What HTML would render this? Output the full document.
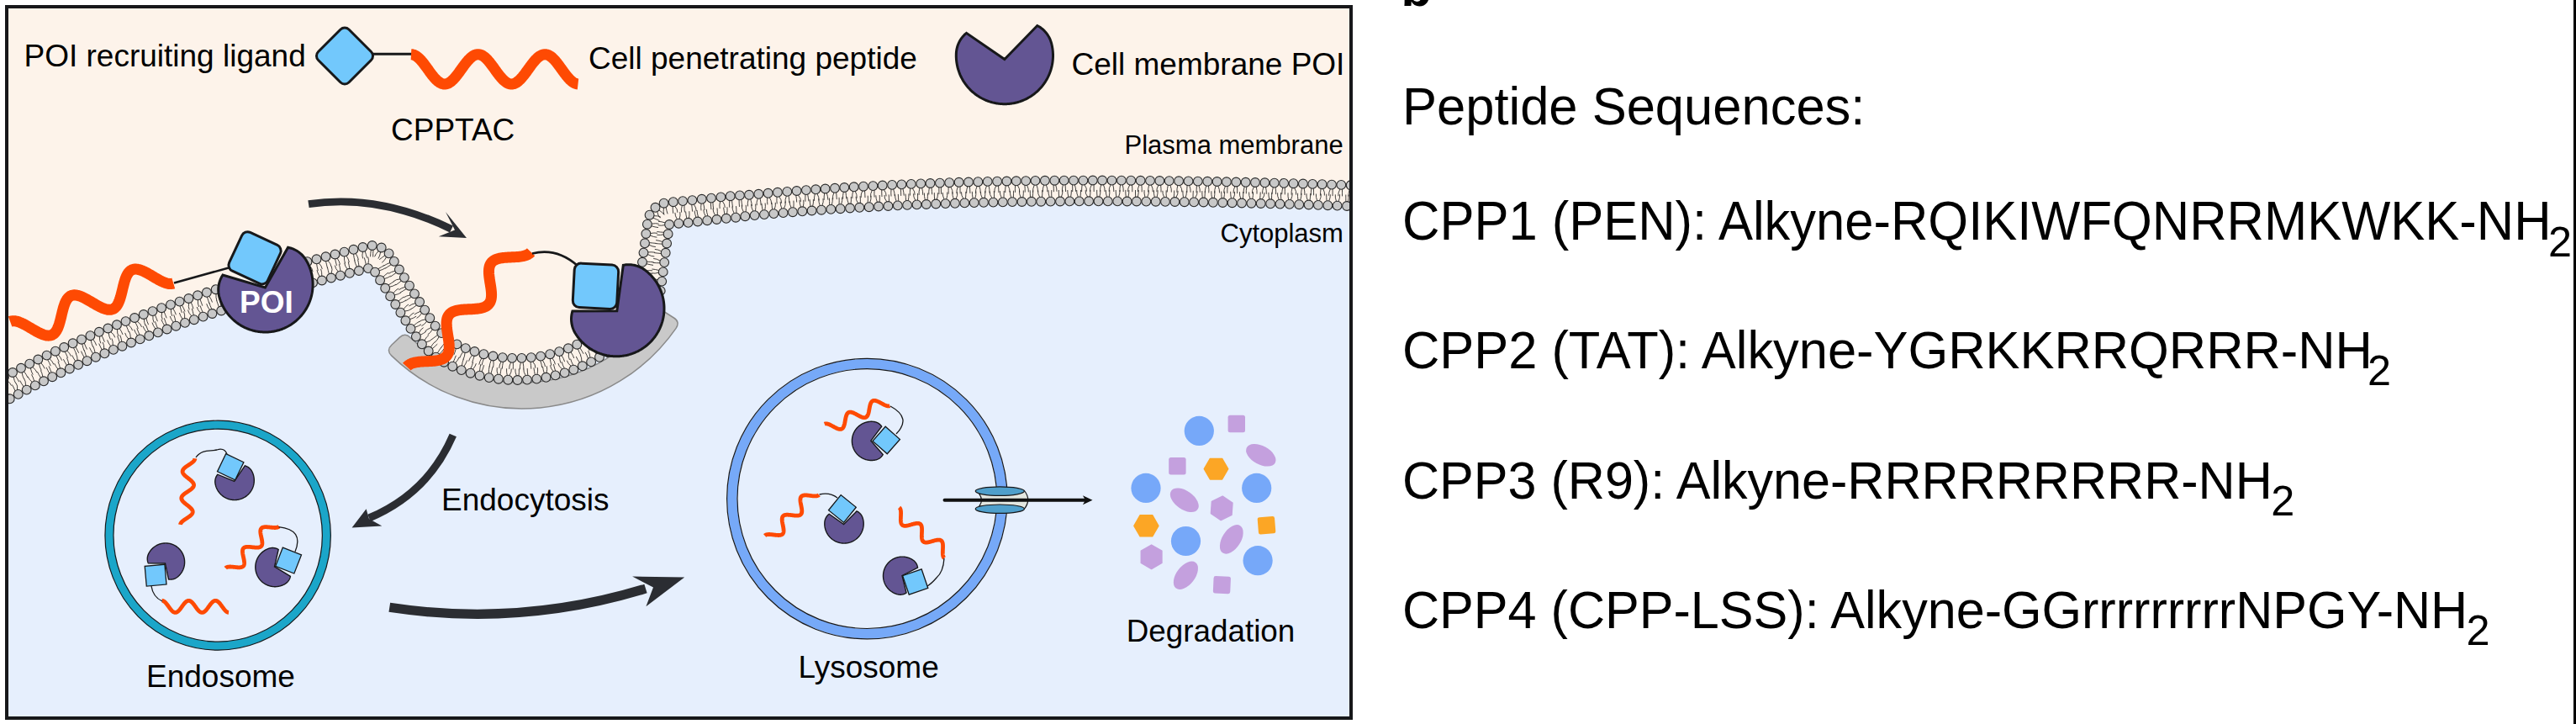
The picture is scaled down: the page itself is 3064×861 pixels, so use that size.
<!DOCTYPE html>
<html><head><meta charset="utf-8"><style>
html,body{margin:0;padding:0;background:#fff;}
body{width:3064px;height:861px;overflow:hidden;position:relative;}
svg{position:absolute;left:0;top:0;}
text{font-family:"Liberation Sans",sans-serif;}
</style></head><body>
<svg width="3064" height="861" viewBox="0 0 3064 861">
<defs><clipPath id="fr"><rect x="10" y="10" width="1595" height="842"/></clipPath></defs>
<rect x="10" y="10" width="1595" height="842" fill="#e6effd"/>
<g clip-path="url(#fr)">
<path d="M-13.3,488.6 L-13.1,488.4 L-12.8,488.3 L-12.6,488.2 L-12.4,488.0 L-12.1,487.9 L-11.9,487.8 L-11.7,487.6 L-11.5,487.5 L-11.0,487.2 L-10.5,487.0 L-10.3,486.8 L-10.1,486.7 L-9.9,486.6 L-9.6,486.4 L-9.4,486.3 L-9.2,486.2 L-8.7,485.9 L-8.5,485.8 L-8.3,485.6 L-8.0,485.5 L-7.8,485.4 L-7.6,485.2 L-7.3,485.1 L-7.1,485.0 L-6.9,484.8 L-6.7,484.7 L-6.4,484.6 L-6.2,484.4 L-6.0,484.3 L-5.7,484.2 L-5.5,484.0 L-5.1,483.8 L-4.8,483.6 L-4.6,483.5 L-4.4,483.4 L-4.1,483.2 L-3.9,483.1 L-3.7,483.0 L-3.5,482.9 L-3.2,482.7 L-2.8,482.5 L-2.3,482.2 L-2.1,482.1 L-1.9,481.9 L-1.6,481.8 L-1.4,481.7 L-1.2,481.5 L-0.9,481.4 L-0.7,481.3 L-0.5,481.1 L-0.0,480.9 L0.4,480.6 L0.9,480.4 L1.4,480.1 L1.6,480.0 L1.8,479.8 L2.1,479.7 L2.3,479.6 L2.5,479.5 L2.7,479.3 L3.0,479.2 L3.2,479.1 L3.7,478.8 L3.9,478.7 L4.1,478.5 L4.4,478.4 L4.6,478.3 L5.0,478.0 L5.3,477.9 L5.5,477.8 L5.7,477.6 L6.0,477.5 L6.4,477.3 L6.9,477.0 L7.3,476.7 L7.6,476.6 L7.8,476.5 L8.0,476.4 L8.3,476.2 L8.5,476.1 L8.7,476.0 L9.2,475.7 L9.4,475.6 L9.7,475.5 L9.9,475.3 L10.1,475.2 L10.6,474.9 L10.8,474.8 L11.0,474.7 L11.3,474.6 L11.5,474.4 L11.7,474.3 L12.0,474.2 L12.2,474.1 L12.4,473.9 L12.9,473.7 L13.1,473.5 L13.3,473.4 L13.6,473.3 L13.8,473.2 L14.0,473.0 L14.3,472.9 L14.5,472.8 L14.7,472.7 L15.0,472.5 L15.2,472.4 L15.4,472.3 L15.7,472.2 L15.9,472.0 L16.1,471.9 L16.4,471.8 L16.6,471.6 L16.8,471.5 L17.1,471.4 L17.3,471.3 L17.5,471.1 L17.7,471.0 L18.0,470.9 L18.2,470.8 L18.4,470.6 L18.7,470.5 L18.9,470.4 L19.1,470.3 L19.4,470.1 L19.8,469.9 L20.3,469.6 L20.5,469.5 L20.8,469.4 L21.0,469.3 L21.2,469.1 L21.5,469.0 L21.7,468.9 L22.2,468.6 L22.4,468.5 L22.6,468.4 L22.9,468.3 L23.1,468.1 L23.6,467.9 L23.8,467.8 L24.0,467.6 L24.3,467.5 L24.5,467.4 L24.7,467.3 L24.9,467.1 L25.2,467.0 L25.4,466.9 L25.6,466.8 L25.9,466.7 L26.1,466.5 L26.3,466.4 L26.6,466.3 L26.8,466.2 L27.0,466.0 L27.3,465.9 L27.7,465.7 L28.0,465.5 L28.2,465.4 L28.4,465.3 L28.7,465.2 L28.9,465.1 L29.1,464.9 L29.4,464.8 L29.6,464.7 L29.8,464.6 L30.1,464.4 L30.3,464.3 L30.5,464.2 L31.0,463.9 L31.2,463.8 L31.5,463.7 L31.9,463.5 L32.2,463.3 L32.4,463.2 L32.6,463.1 L32.9,463.0 L33.1,462.9 L33.3,462.7 L33.6,462.6 L33.8,462.5 L34.0,462.4 L34.3,462.2 L34.5,462.1 L34.7,462.0 L35.2,461.8 L35.5,461.6 L35.7,461.5 L35.9,461.4 L36.2,461.3 L36.4,461.2 L36.6,461.0 L36.9,460.9 L37.1,460.8 L37.3,460.7 L37.6,460.5 L37.8,460.4 L38.0,460.3 L38.3,460.2 L38.5,460.1 L38.7,459.9 L39.0,459.8 L39.4,459.6 L39.7,459.5 L39.9,459.3 L40.1,459.2 L40.4,459.1 L40.6,459.0 L40.8,458.9 L41.1,458.7 L41.3,458.6 L41.8,458.4 L42.0,458.3 L42.2,458.1 L42.5,458.0 L42.7,457.9 L43.2,457.7 L43.4,457.5 L43.7,457.4 L44.1,457.2 L44.4,457.1 L44.6,457.0 L44.8,456.8 L45.1,456.7 L45.3,456.6 L45.5,456.5 L45.8,456.4 L46.0,456.2 L46.2,456.1 L46.5,456.0 L46.7,455.9 L46.9,455.8 L47.2,455.6 L47.4,455.5 L47.7,455.4 L47.9,455.3 L48.4,455.1 L48.6,454.9 L48.8,454.8 L49.1,454.7 L49.3,454.6 L49.5,454.5 L49.8,454.4 L50.0,454.2 L50.2,454.1 L50.5,454.0 L50.7,453.9 L51.0,453.8 L51.2,453.6 L51.4,453.5 L51.7,453.4 L51.9,453.3 L52.1,453.2 L52.6,452.9 L52.8,452.8 L53.1,452.7 L53.3,452.6 L53.5,452.5 L53.8,452.4 L54.0,452.2 L54.5,452.0 L54.7,451.9 L55.0,451.8 L55.2,451.7 L55.4,451.5 L55.7,451.4 L55.9,451.3 L56.1,451.2 L56.4,451.1 L56.6,451.0 L56.9,450.8 L57.1,450.7 L57.3,450.6 L57.8,450.4 L58.3,450.2 L58.5,450.0 L58.7,449.9 L59.2,449.7 L59.7,449.5 L59.9,449.3 L60.2,449.2 L60.4,449.1 L60.6,449.0 L61.1,448.8 L61.4,448.7 L61.6,448.5 L61.8,448.4 L62.1,448.3 L62.3,448.2 L62.5,448.1 L62.8,448.0 L63.0,447.9 L63.2,447.7 L63.5,447.6 L63.7,447.5 L64.0,447.4 L64.2,447.3 L64.4,447.2 L64.7,447.1 L64.9,446.9 L65.1,446.8 L65.4,446.7 L65.6,446.6 L65.9,446.5 L66.1,446.4 L66.3,446.3 L66.6,446.1 L66.8,446.0 L67.0,445.9 L67.3,445.8 L67.5,445.7 L67.8,445.6 L68.0,445.5 L68.2,445.3 L68.5,445.2 L68.7,445.1 L68.9,445.0 L69.2,444.9 L69.4,444.8 L69.7,444.7 L69.9,444.6 L70.1,444.4 L70.4,444.3 L70.6,444.2 L70.8,444.1 L71.1,444.0 L71.3,443.9 L71.6,443.8 L71.8,443.6 L72.0,443.5 L72.3,443.4 L72.5,443.3 L73.0,443.1 L73.2,443.0 L73.5,442.9 L73.7,442.8 L73.9,442.6 L74.4,442.4 L74.7,442.3 L74.9,442.2 L75.4,442.0 L75.6,441.9 L75.9,441.7 L76.1,441.6 L76.3,441.5 L76.6,441.4 L76.8,441.3 L77.3,441.1 L77.5,441.0 L77.8,440.9 L78.0,440.7 L78.2,440.6 L78.7,440.4 L79.0,440.3 L79.2,440.2 L79.4,440.1 L79.7,440.0 L79.9,439.9 L80.1,439.7 L80.6,439.5 L81.1,439.3 L81.6,439.1 L81.8,439.0 L82.1,438.9 L82.5,438.6 L82.8,438.5 L83.0,438.4 L83.3,438.3 L83.5,438.2 L84.0,438.0 L84.2,437.9 L84.5,437.8 L84.9,437.5 L85.2,437.4 L85.4,437.3 L85.9,437.1 L86.1,437.0 L86.4,436.9 L86.6,436.8 L86.8,436.7 L87.1,436.6 L87.3,436.4 L87.6,436.3 L87.8,436.2 L88.0,436.1 L88.3,436.0 L88.5,435.9 L88.8,435.8 L89.0,435.7 L89.2,435.6 L89.7,435.4 L90.0,435.2 L90.2,435.1 L90.4,435.0 L90.7,434.9 L90.9,434.8 L91.2,434.7 L91.4,434.6 L91.6,434.5 L92.1,434.3 L92.4,434.2 L92.6,434.1 L92.8,433.9 L93.1,433.8 L93.3,433.7 L93.6,433.6 L93.8,433.5 L94.0,433.4 L94.3,433.3 L94.5,433.2 L94.8,433.1 L95.0,433.0 L95.2,432.9 L95.5,432.8 L95.7,432.7 L96.0,432.5 L96.2,432.4 L96.4,432.3 L96.9,432.1 L97.2,432.0 L97.4,431.9 L97.9,431.7 L98.1,431.6 L98.4,431.5 L98.6,431.4 L98.9,431.3 L99.1,431.2 L99.3,431.1 L99.8,430.8 L100.3,430.6 L100.5,430.5 L100.8,430.4 L101.0,430.3 L101.3,430.2 L101.5,430.1 L101.7,430.0 L102.0,429.9 L102.2,429.8 L102.5,429.7 L102.7,429.6 L103.0,429.5 L103.2,429.4 L103.4,429.2 L103.7,429.1 L103.9,429.0 L104.2,428.9 L104.6,428.7 L105.1,428.5 L105.4,428.4 L105.6,428.3 L105.8,428.2 L106.1,428.1 L106.3,428.0 L106.6,427.9 L106.8,427.8 L107.1,427.7 L107.5,427.5 L107.8,427.3 L108.0,427.2 L108.5,427.0 L109.0,426.8 L109.5,426.6 L109.7,426.5 L110.0,426.4 L110.4,426.2 L110.7,426.1 L110.9,426.0 L111.4,425.8 L111.6,425.7 L111.9,425.6 L112.1,425.5 L112.4,425.4 L112.6,425.3 L112.9,425.2 L113.3,424.9 L113.8,424.7 L114.1,424.6 L114.3,424.5 L114.6,424.4 L114.8,424.3 L115.0,424.2 L115.3,424.1 L115.5,424.0 L115.8,423.9 L116.0,423.8 L116.2,423.7 L116.7,423.5 L117.0,423.4 L117.2,423.3 L117.5,423.2 L117.7,423.1 L117.9,423.0 L118.2,422.9 L118.4,422.8 L118.7,422.7 L118.9,422.6 L119.2,422.5 L119.4,422.4 L119.6,422.3 L119.9,422.2 L120.1,422.1 L120.6,421.9 L121.1,421.6 L121.3,421.5 L121.6,421.4 L121.8,421.3 L122.1,421.2 L122.3,421.1 L122.6,421.0 L122.8,420.9 L123.0,420.8 L123.3,420.7 L123.5,420.6 L123.8,420.5 L124.0,420.4 L124.3,420.3 L124.5,420.2 L124.7,420.1 L125.0,420.0 L125.2,419.9 L125.5,419.8 L125.7,419.7 L126.0,419.6 L126.4,419.4 L126.9,419.2 L127.2,419.1 L127.4,419.0 L127.9,418.8 L128.4,418.6 L128.9,418.4 L129.1,418.3 L129.4,418.2 L129.6,418.1 L129.9,418.0 L130.3,417.8 L130.6,417.7 L130.8,417.6 L131.1,417.5 L131.3,417.4 L131.6,417.3 L131.8,417.2 L132.3,417.0 L132.5,416.9 L132.8,416.8 L133.0,416.7 L133.3,416.6 L133.5,416.5 L133.8,416.4 L134.0,416.3 L134.2,416.2 L134.5,416.1 L134.7,416.0 L135.2,415.8 L135.5,415.7 L135.7,415.6 L136.0,415.5 L136.2,415.4 L136.4,415.3 L136.7,415.2 L136.9,415.1 L137.2,415.0 L137.4,414.9 L137.7,414.8 L137.9,414.7 L138.1,414.6 L138.6,414.4 L139.1,414.2 L139.4,414.1 L139.6,414.0 L139.9,413.9 L140.1,413.8 L140.3,413.7 L140.6,413.6 L141.1,413.4 L141.6,413.2 L141.8,413.1 L142.1,413.0 L142.3,412.9 L142.5,412.8 L143.0,412.6 L143.5,412.4 L143.8,412.3 L144.0,412.2 L144.5,412.0 L145.0,411.8 L145.2,411.7 L145.5,411.6 L145.7,411.5 L146.0,411.4 L146.5,411.2 L146.7,411.2 L147.0,411.1 L147.4,410.9 L147.9,410.7 L148.2,410.6 L148.4,410.5 L148.7,410.4 L148.9,410.3 L149.2,410.2 L149.4,410.1 L149.6,410.0 L149.9,409.9 L150.4,409.7 L150.6,409.6 L150.9,409.5 L151.4,409.3 L151.9,409.1 L152.1,409.0 L152.3,408.9 L152.6,408.8 L152.8,408.7 L153.1,408.6 L153.3,408.5 L153.6,408.4 L153.8,408.3 L154.3,408.1 L154.8,407.9 L155.0,407.9 L155.3,407.8 L155.8,407.6 L156.3,407.4 L156.8,407.2 L157.0,407.1 L157.3,407.0 L157.5,406.9 L157.8,406.8 L158.0,406.7 L158.2,406.6 L158.7,406.4 L159.0,406.3 L159.2,406.2 L159.5,406.1 L159.7,406.0 L160.0,405.9 L160.2,405.8 L160.5,405.7 L160.7,405.7 L160.9,405.6 L161.2,405.5 L161.4,405.4 L161.7,405.3 L161.9,405.2 L162.2,405.1 L162.4,405.0 L162.7,404.9 L162.9,404.8 L163.2,404.7 L163.7,404.5 L164.1,404.3 L164.4,404.2 L164.6,404.1 L164.9,404.0 L165.1,403.9 L165.4,403.8 L165.6,403.8 L165.9,403.7 L166.1,403.6 L166.4,403.5 L166.6,403.4 L166.9,403.3 L167.1,403.2 L167.4,403.1 L167.6,403.0 L167.8,402.9 L168.1,402.8 L168.3,402.7 L168.6,402.6 L168.8,402.5 L169.1,402.4 L169.3,402.3 L169.6,402.2 L170.1,402.1 L170.3,402.0 L170.6,401.9 L170.8,401.8 L171.1,401.7 L171.5,401.5 L171.8,401.4 L172.0,401.3 L172.3,401.2 L172.5,401.1 L172.8,401.0 L173.0,400.9 L173.5,400.7 L173.8,400.7 L174.0,400.6 L174.3,400.5 L174.5,400.4 L174.8,400.3 L175.0,400.2 L175.5,400.0 L176.0,399.8 L176.2,399.7 L176.5,399.6 L177.0,399.4 L177.2,399.4 L177.5,399.3 L177.7,399.2 L178.0,399.1 L178.5,398.9 L178.7,398.8 L179.0,398.7 L179.5,398.5 L179.7,398.4 L179.9,398.3 L180.2,398.2 L180.4,398.2 L180.7,398.1 L180.9,398.0 L181.4,397.8 L181.9,397.6 L182.2,397.5 L182.4,397.4 L182.7,397.3 L182.9,397.2 L183.2,397.1 L183.4,397.0 L183.7,397.0 L183.9,396.9 L184.2,396.8 L184.4,396.7 L184.7,396.6 L184.9,396.5 L185.1,396.4 L185.4,396.3 L185.6,396.2 L185.9,396.1 L186.1,396.0 L186.4,395.9 L186.6,395.9 L186.9,395.8 L187.1,395.7 L187.4,395.6 L187.9,395.4 L188.4,395.2 L188.6,395.1 L188.9,395.0 L189.4,394.9 L189.6,394.8 L189.9,394.7 L190.1,394.6 L190.4,394.5 L190.6,394.4 L190.8,394.3 L191.1,394.2 L191.3,394.1 L191.6,394.0 L191.8,393.9 L192.3,393.8 L192.6,393.7 L192.8,393.6 L193.1,393.5 L193.3,393.4 L193.8,393.2 L194.1,393.1 L194.3,393.0 L194.6,393.0 L194.8,392.9 L195.1,392.8 L195.3,392.7 L195.6,392.6 L195.8,392.5 L196.1,392.4 L196.3,392.3 L196.8,392.1 L197.1,392.1 L197.3,392.0 L197.8,391.8 L198.1,391.7 L198.3,391.6 L198.6,391.5 L198.8,391.4 L199.0,391.3 L199.3,391.2 L199.5,391.2 L199.8,391.1 L200.0,391.0 L200.3,390.9 L200.5,390.8 L200.8,390.7 L201.3,390.5 L201.5,390.4 L201.8,390.4 L202.0,390.3 L202.3,390.2 L202.5,390.1 L202.8,390.0 L203.0,389.9 L203.3,389.8 L203.5,389.7 L203.8,389.6 L204.3,389.5 L204.5,389.4 L204.8,389.3 L205.3,389.1 L205.5,389.0 L205.8,388.9 L206.3,388.8 L206.5,388.7 L206.8,388.6 L207.0,388.5 L207.3,388.4 L207.8,388.2 L208.3,388.1 L208.5,388.0 L208.8,387.9 L209.3,387.7 L209.8,387.5 L210.3,387.3 L210.8,387.2 L211.3,387.0 L211.5,386.9 L211.8,386.8 L212.0,386.7 L212.2,386.6 L212.5,386.6 L212.7,386.5 L213.0,386.4 L213.2,386.3 L213.5,386.2 L213.7,386.1 L214.0,386.0 L214.2,385.9 L214.5,385.9 L214.7,385.8 L215.2,385.6 L215.5,385.5 L215.7,385.4 L216.0,385.3 L216.2,385.2 L216.7,385.1 L217.2,384.9 L217.5,384.8 L217.7,384.7 L218.0,384.6 L218.2,384.5 L218.5,384.5 L218.7,384.4 L219.2,384.2 L219.5,384.1 L219.7,384.0 L220.0,383.9 L220.2,383.9 L220.7,383.7 L221.2,383.5 L221.7,383.3 L222.0,383.2 L222.2,383.2 L222.5,383.1 L222.7,383.0 L223.0,382.9 L223.2,382.8 L223.5,382.7 L223.7,382.6 L224.0,382.6 L224.2,382.5 L224.5,382.4 L224.7,382.3 L225.2,382.1 L225.5,382.0 L225.7,382.0 L226.0,381.9 L226.2,381.8 L226.5,381.7 L226.7,381.6 L227.0,381.5 L227.2,381.4 L227.5,381.4 L227.7,381.3 L228.0,381.2 L228.2,381.1 L228.5,381.0 L228.7,380.9 L229.2,380.8 L229.5,380.7 L229.7,380.6 L230.0,380.5 L230.2,380.4 L230.5,380.3 L230.8,380.2 L231.3,380.1 L231.5,380.0 L231.8,379.9 L232.0,379.8 L232.3,379.7 L232.5,379.6 L232.8,379.6 L233.3,379.4 L233.8,379.2 L234.0,379.1 L234.3,379.1 L234.5,379.0 L234.8,378.9 L235.0,378.8 L235.3,378.7 L235.8,378.5 L236.0,378.5 L236.3,378.4 L236.5,378.3 L236.8,378.2 L237.0,378.1 L237.3,378.0 L237.5,378.0 L237.8,377.9 L238.0,377.8 L238.3,377.7 L238.5,377.6 L238.8,377.5 L239.3,377.4 L239.8,377.2 L240.0,377.1 L240.3,377.0 L240.5,376.9 L240.8,376.9 L241.0,376.8 L241.3,376.7 L241.8,376.5 L242.0,376.4 L242.3,376.3 L242.8,376.2 L243.0,376.1 L243.3,376.0 L243.5,375.9 L243.8,375.8 L244.0,375.8 L244.3,375.7 L244.8,375.5 L245.3,375.3 L245.6,375.3 L245.8,375.2 L246.1,375.1 L246.3,375.0 L246.8,374.8 L247.1,374.8 L247.3,374.7 L247.8,374.5 L248.1,374.4 L248.3,374.3 L248.8,374.2 L249.1,374.1 L249.3,374.0 L249.6,373.9 L249.8,373.8 L250.1,373.8 L250.3,373.7 L250.6,373.6 L250.8,373.5 L251.1,373.4 L251.3,373.3 L251.6,373.3 L251.8,373.2 L252.1,373.1 L252.3,373.0 L252.8,372.8 L253.1,372.8 L253.3,372.7 L253.6,372.6 L253.9,372.5 L254.4,372.4 L254.6,372.3 L254.9,372.2 L255.4,372.0 L255.6,371.9 L255.9,371.9 L256.1,371.8 L256.4,371.7 L256.6,371.6 L256.9,371.5 L257.4,371.4 L257.9,371.2 L258.4,371.0 L258.6,371.0 L258.9,370.9 L259.1,370.8 L259.4,370.7 L259.6,370.6 L259.9,370.5 L260.1,370.5 L260.4,370.4 L260.7,370.3 L260.9,370.2 L261.4,370.0 L261.7,370.0 L261.9,369.9 L262.2,369.8 L262.4,369.7 L262.9,369.6 L263.2,369.5 L263.4,369.4 L263.7,369.3 L263.9,369.2 L264.2,369.1 L264.4,369.1 L264.7,369.0 L264.9,368.9 L265.4,368.7 L265.7,368.7 L265.9,368.6 L266.5,368.4 L266.7,368.3 L267.0,368.3 L267.5,368.1 L268.0,367.9 L268.2,367.8 L268.5,367.8 L268.7,367.7 L269.0,367.6 L269.2,367.5 L269.5,367.4 L269.7,367.4 L270.0,367.3 L270.2,367.2 L270.5,367.1 L270.7,367.0 L271.0,367.0 L271.2,366.9 L271.5,366.8 L271.8,366.7 L272.0,366.6 L272.3,366.6 L272.5,366.5 L272.8,366.4 L273.0,366.3 L273.3,366.2 L273.5,366.1 L274.0,366.0 L274.5,365.8 L275.0,365.7 L275.3,365.6 L275.5,365.5 L275.8,365.4 L276.0,365.3 L276.5,365.2 L276.8,365.1 L277.1,365.0 L277.6,364.9 L277.8,364.8 L278.1,364.7 L278.3,364.6 L278.6,364.5 L278.8,364.5 L279.1,364.4 L279.6,364.2 L280.1,364.1 L280.3,364.0 L280.6,363.9 L280.8,363.8 L281.1,363.7 L281.4,363.7 L281.6,363.6 L282.1,363.4 L282.4,363.3 L282.6,363.3 L282.9,363.2 L283.1,363.1 L283.4,363.0 L283.6,362.9 L283.9,362.9 L284.1,362.8 L284.4,362.7 L284.6,362.6 L285.1,362.5 L285.4,362.4 L285.7,362.3 L285.9,362.2 L286.2,362.1 L286.4,362.1 L286.7,362.0 L286.9,361.9 L287.2,361.8 L287.4,361.7 L287.7,361.7 L288.2,361.5 L288.7,361.4 L289.2,361.2 L289.4,361.1 L289.7,361.0 L290.0,361.0 L290.2,360.9 L290.7,360.7 L291.0,360.6 L291.2,360.6 L291.5,360.5 L291.7,360.4 L292.2,360.2 L292.5,360.2 L292.7,360.1 L293.2,359.9 L293.8,359.8 L294.3,359.6 L294.5,359.5 L294.8,359.5 L295.3,359.3 L295.5,359.2 L295.8,359.1 L296.0,359.1 L296.3,359.0 L296.5,358.9 L296.8,358.8 L297.3,358.7 L297.6,358.6 L297.8,358.5 L298.3,358.4 L298.6,358.3 L298.8,358.2 L299.1,358.1 L299.3,358.0 L299.6,358.0 L299.8,357.9 L300.1,357.8 L300.3,357.7 L300.6,357.6 L300.8,357.6 L301.1,357.5 L301.4,357.4 L301.9,357.3 L302.1,357.2 L302.4,357.1 L302.6,357.0 L302.9,356.9 L303.1,356.9 L303.4,356.8 L303.6,356.7 L303.9,356.6 L304.4,356.5 L304.7,356.4 L304.9,356.3 L305.4,356.2 L305.7,356.1 L305.9,356.0 L306.2,355.9 L306.4,355.9 L306.9,355.7 L307.4,355.5 L307.7,355.5 L308.0,355.4 L308.2,355.3 L308.5,355.2 L308.7,355.2 L309.0,355.1 L309.2,355.0 L309.5,354.9 L309.7,354.8 L310.0,354.8 L310.2,354.7 L310.5,354.6 L311.0,354.5 L311.3,354.4 L311.5,354.3 L311.8,354.2 L312.0,354.1 L312.5,354.0 L313.0,353.8 L313.3,353.8 L313.5,353.7 L313.8,353.6 L314.0,353.5 L314.3,353.5 L314.6,353.4 L314.8,353.3 L315.1,353.2 L315.3,353.1 L315.6,353.1 L315.8,353.0 L316.1,352.9 L316.3,352.8 L316.6,352.8 L316.8,352.7 L317.1,352.6 L317.3,352.5 L317.6,352.4 L317.9,352.4 L318.1,352.3 L318.6,352.1 L318.9,352.1 L319.1,352.0 L319.6,351.8 L319.9,351.8 L320.1,351.7 L320.4,351.6 L320.6,351.5 L320.9,351.5 L321.2,351.4 L321.4,351.3 L321.7,351.2 L321.9,351.1 L322.2,351.1 L322.7,350.9 L322.9,350.8 L323.2,350.8 L323.4,350.7 L323.7,350.6 L324.0,350.5 L324.2,350.5 L324.5,350.4 L324.7,350.3 L325.2,350.1 L325.5,350.1 L325.7,350.0 L326.0,349.9 L326.2,349.8 L326.8,349.7 L327.3,349.5 L327.5,349.5 L327.8,349.4 L328.3,349.2 L328.8,349.1 L329.0,349.0 L329.3,348.9 L329.8,348.8 L330.1,348.7 L330.3,348.6 L330.6,348.5 L330.8,348.5 L331.1,348.4 L331.3,348.3 L331.6,348.2 L331.8,348.2 L332.1,348.1 L332.3,348.0 L332.6,347.9 L332.9,347.9 L333.4,347.7 L333.6,347.6 L333.9,347.6 L334.1,347.5 L334.4,347.4 L334.6,347.3 L334.9,347.3 L335.1,347.2 L335.4,347.1 L335.9,347.0 L336.2,346.9 L336.4,346.8 L336.7,346.7 L336.9,346.6 L337.2,346.6 L337.4,346.5 L337.9,346.3 L338.5,346.2 L339.0,346.0 L339.5,345.9 L339.7,345.8 L340.0,345.7 L340.2,345.7 L340.5,345.6 L340.7,345.5 L341.0,345.4 L341.3,345.4 L341.5,345.3 L341.8,345.2 L342.0,345.1 L342.3,345.1 L342.5,345.0 L342.8,344.9 L343.0,344.8 L343.3,344.8 L343.5,344.7 L343.8,344.6 L344.1,344.5 L344.3,344.5 L344.6,344.4 L344.8,344.3 L345.1,344.2 L345.3,344.2 L345.6,344.1 L345.8,344.0 L346.1,343.9 L346.3,343.9 L346.6,343.8 L346.9,343.7 L347.1,343.6 L347.4,343.6 L347.6,343.5 L347.9,343.4 L348.1,343.3 L348.4,343.3 L348.6,343.2 L348.9,343.1 L349.1,343.0 L349.4,343.0 L349.7,342.9 L349.9,342.8 L350.2,342.7 L350.4,342.7 L350.7,342.6 L350.9,342.5 L351.2,342.4 L351.4,342.4 L351.7,342.3 L352.0,342.2 L352.2,342.1 L352.5,342.1 L352.7,342.0 L353.0,341.9 L353.2,341.8 L353.5,341.8 L353.7,341.7 L354.0,341.6 L354.3,341.5 L354.5,341.5 L354.8,341.4 L355.0,341.3 L355.3,341.2 L355.5,341.2 L355.8,341.1 L356.0,341.0 L356.3,340.9 L356.6,340.9 L356.8,340.8 L357.1,340.7 L357.3,340.6 L357.6,340.6 L357.8,340.5 L358.1,340.4 L358.4,340.3 L358.6,340.3 L358.9,340.2 L359.1,340.1 L359.4,340.0 L359.6,340.0 L359.9,339.9 L360.2,339.8 L360.4,339.7 L360.7,339.7 L360.9,339.6 L361.2,339.5 L361.5,339.4 L361.7,339.4 L362.0,339.3 L362.2,339.2 L362.5,339.1 L362.8,339.1 L363.0,339.0 L363.3,338.9 L363.6,338.8 L363.8,338.8 L364.1,338.7 L364.3,338.6 L364.6,338.5 L364.9,338.5 L365.1,338.4 L365.4,338.3 L365.7,338.2 L366.0,338.1 L366.2,338.1 L366.5,338.0 L366.8,337.9 L367.0,337.8 L367.3,337.8 L367.6,337.7 L367.9,337.6 L368.2,337.5 L368.4,337.4 L368.7,337.4 L369.0,337.3 L369.3,337.2 L369.6,337.1 L369.9,337.0 L370.1,337.0 L370.4,336.9 L370.7,336.8 L371.0,336.7 L371.3,336.6 L371.6,336.5 L371.9,336.5 L372.2,336.4 L372.5,336.3 L372.8,336.2 L373.1,336.1 L373.4,336.0 L373.7,335.9 L374.1,335.9 L374.4,335.8 L374.7,335.7 L375.0,335.6 L375.3,335.5 L375.7,335.4 L376.0,335.3 L376.3,335.2 L376.7,335.1 L377.0,335.1 L377.3,335.0 L377.7,334.9 L378.0,334.8 L378.4,334.7 L378.7,334.6 L379.1,334.5 L379.5,334.4 L379.8,334.3 L380.2,334.2 L380.6,334.1 L380.9,334.0 L381.3,333.9 L381.7,333.8 L382.1,333.7 L382.1,333.7 L382.5,333.6 L382.5,333.6 L382.8,333.5 L383.2,333.4 L383.5,333.3 L383.8,333.2 L384.2,333.1 L384.5,333.0 L384.9,332.9 L385.2,332.8 L385.6,332.7 L386.0,332.6 L386.3,332.5 L386.7,332.4 L387.1,332.3 L387.5,332.2 L387.9,332.1 L388.3,332.0 L388.6,331.9 L389.0,331.8 L389.4,331.7 L389.8,331.6 L390.3,331.5 L390.7,331.4 L391.1,331.3 L391.5,331.2 L391.9,331.1 L392.3,330.9 L392.8,330.8 L393.2,330.7 L393.6,330.6 L394.1,330.5 L394.5,330.4 L394.9,330.3 L395.4,330.2 L395.8,330.0 L396.3,329.9 L396.7,329.8 L397.2,329.7 L397.6,329.6 L398.1,329.5 L398.5,329.3 L399.0,329.2 L399.4,329.1 L399.9,329.0 L400.3,328.9 L400.8,328.7 L401.3,328.6 L401.7,328.5 L402.2,328.4 L402.7,328.3 L403.1,328.1 L403.6,328.0 L404.1,327.9 L404.5,327.8 L405.0,327.7 L405.5,327.5 L405.9,327.4 L406.4,327.3 L406.9,327.2 L407.4,327.0 L407.8,326.9 L408.3,326.8 L408.8,326.7 L409.3,326.6 L409.8,326.4 L410.2,326.3 L410.7,326.2 L411.2,326.1 L411.7,325.9 L412.2,325.8 L412.6,325.7 L413.1,325.6 L413.6,325.4 L414.1,325.3 L414.6,325.2 L415.1,325.1 L415.6,324.9 L416.0,324.8 L416.5,324.7 L417.0,324.6 L417.5,324.4 L417.9,324.3 L418.4,324.2 L418.9,324.1 L419.4,323.9 L419.9,323.8 L420.8,323.6 L421.3,323.4 L421.8,323.3 L422.3,323.2 L422.8,323.1 L423.3,322.9 L423.7,322.8 L424.2,322.7 L424.7,322.6 L425.2,322.4 L425.7,322.3 L426.1,322.2 L426.6,322.1 L427.1,321.9 L427.6,321.8 L428.1,321.7 L428.6,321.6 L429.0,321.4 L429.5,321.3 L430.0,321.2 L430.5,321.1 L431.0,320.9 L431.5,320.8 L432.4,320.6 L432.9,320.4 L433.4,320.3 L433.9,320.2 L434.4,320.1 L434.8,320.0 L435.8,319.7 L436.3,319.6 L436.8,319.5 L437.7,319.2 L438.2,319.1 L438.7,319.0 L439.7,318.7 L440.1,318.6 L441.6,318.2 L442.1,318.1 L442.4,318.0 L442.6,318.0 L442.6,318.1 L442.8,318.4 L443.1,318.8 L443.4,319.2 L443.6,319.6 L443.9,320.1 L444.4,320.9 L444.7,321.3 L444.9,321.8 L445.5,322.6 L445.7,323.0 L446.0,323.4 L446.3,323.9 L446.5,324.3 L447.1,325.1 L447.3,325.6 L447.6,326.0 L448.1,326.8 L448.4,327.2 L448.9,328.1 L449.2,328.5 L449.5,328.9 L449.7,329.4 L450.0,329.8 L450.3,330.2 L450.8,331.0 L451.1,331.5 L451.6,332.3 L451.9,332.7 L452.1,333.2 L452.4,333.6 L452.7,334.0 L452.9,334.4 L453.4,335.3 L453.7,335.7 L454.2,336.5 L454.5,337.0 L454.8,337.4 L455.0,337.8 L455.3,338.2 L455.6,338.6 L456.1,339.5 L456.4,339.9 L456.9,340.8 L457.2,341.2 L457.4,341.6 L457.7,342.0 L458.0,342.4 L458.2,342.9 L458.5,343.3 L458.8,343.7 L459.0,344.1 L459.6,345.0 L459.8,345.4 L460.1,345.8 L460.6,346.7 L460.9,347.1 L461.2,347.5 L461.4,347.9 L461.7,348.4 L462.2,349.2 L462.5,349.6 L462.7,350.0 L463.0,350.5 L463.3,350.9 L463.8,351.7 L464.1,352.2 L464.3,352.6 L464.9,353.4 L465.1,353.8 L465.4,354.3 L465.9,355.1 L466.2,355.5 L466.5,356.0 L466.7,356.4 L467.0,356.8 L467.5,357.6 L467.8,358.1 L468.1,358.5 L468.3,358.9 L468.6,359.3 L468.9,359.7 L469.1,360.2 L469.4,360.6 L469.7,361.0 L470.2,361.9 L470.5,362.3 L471.0,363.1 L471.2,363.5 L471.5,364.0 L471.8,364.4 L472.0,364.8 L472.8,366.1 L473.1,366.5 L473.6,367.3 L473.9,367.8 L474.2,368.2 L474.4,368.6 L474.7,369.0 L475.0,369.5 L475.5,370.3 L475.8,370.7 L476.3,371.6 L476.6,372.0 L476.8,372.4 L477.1,372.8 L477.4,373.3 L478.2,374.5 L478.4,374.9 L479.0,375.8 L479.2,376.2 L479.5,376.6 L480.0,377.5 L480.3,377.9 L480.5,378.3 L480.8,378.7 L481.9,380.4 L482.1,380.9 L482.2,380.9 L482.4,381.3 L482.7,381.7 L483.0,382.1 L483.2,382.6 L483.5,383.0 L483.8,383.4 L484.0,383.8 L484.3,384.3 L484.6,384.7 L484.8,385.1 L485.1,385.5 L485.4,385.9 L485.6,386.4 L485.9,386.8 L486.2,387.2 L486.4,387.6 L486.7,388.1 L487.0,388.5 L487.3,388.9 L487.5,389.3 L487.8,389.7 L488.1,390.2 L488.3,390.6 L488.6,391.0 L488.9,391.4 L488.9,391.4 L489.2,391.9 L489.2,391.9 L489.4,392.3 L489.4,392.3 L489.7,392.7 L489.7,392.7 L490.0,393.1 L490.0,393.1 L490.3,393.5 L490.3,393.6 L490.5,394.0 L490.5,394.0 L490.8,394.4 L490.8,394.4 L491.1,394.8 L491.1,394.8 L491.4,395.2 L491.4,395.2 L491.6,395.6 L491.7,395.7 L491.9,396.1 L491.9,396.1 L492.2,396.5 L492.2,396.5 L492.5,396.9 L492.5,396.9 L492.8,397.3 L492.8,397.3 L493.1,397.7 L493.1,397.7 L493.3,398.1 L493.4,398.2 L493.6,398.6 L493.6,398.6 L493.9,399.0 L493.9,399.0 L494.2,399.4 L494.2,399.4 L494.5,399.8 L494.5,399.8 L494.8,400.2 L494.8,400.2 L495.1,400.6 L495.1,400.7 L495.4,401.0 L495.4,401.1 L495.7,401.4 L495.7,401.5 L496.0,401.9 L496.0,401.9 L496.2,402.3 L496.3,402.3 L496.5,402.7 L496.6,402.7 L496.8,403.1 L496.9,403.1 L497.2,403.5 L497.2,403.5 L497.5,403.9 L497.5,403.9 L497.8,404.3 L497.8,404.3 L498.1,404.7 L498.1,404.7 L498.4,405.1 L498.4,405.1 L498.7,405.5 L498.7,405.5 L499.0,405.9 L499.1,405.9 L499.3,406.3 L499.4,406.3 L499.6,406.7 L499.7,406.7 L500.0,407.1 L500.0,407.1 L500.3,407.5 L500.3,407.5 L500.6,407.8 L500.7,407.9 L501.0,408.2 L501.0,408.3 L501.3,408.6 L501.4,408.7 L501.6,409.0 L501.7,409.1 L502.0,409.4 L502.0,409.5 L502.3,409.8 L502.4,409.8 L502.7,410.1 L502.7,410.2 L503.0,410.5 L503.1,410.6 L503.4,410.9 L503.5,411.0 L503.7,411.3 L503.8,411.4 L504.1,411.6 L504.2,411.7 L504.5,412.0 L504.6,412.1 L504.9,412.4 L505.0,412.5 L505.2,412.7 L505.3,412.8 L505.3,412.8 L505.4,412.9 L505.7,413.2 L505.7,413.3 L506.0,413.6 L506.1,413.7 L506.3,414.0 L506.4,414.0 L506.7,414.4 L506.7,414.4 L507.0,414.7 L507.1,414.8 L507.4,415.1 L507.4,415.2 L507.7,415.5 L507.8,415.5 L508.0,415.8 L508.1,415.9 L508.4,416.2 L508.4,416.2 L508.7,416.5 L508.8,416.6 L509.1,416.9 L509.1,416.9 L509.4,417.2 L509.5,417.3 L509.7,417.5 L509.8,417.6 L510.1,417.9 L510.2,417.9 L510.4,418.2 L510.5,418.3 L510.8,418.5 L510.9,418.6 L511.1,418.8 L511.2,418.9 L511.5,419.2 L511.5,419.2 L511.8,419.5 L511.9,419.5 L512.2,419.8 L512.2,419.8 L512.5,420.1 L512.6,420.1 L512.9,420.4 L512.9,420.4 L513.2,420.7 L513.3,420.7 L513.6,421.0 L513.6,421.0 L513.9,421.2 L514.0,421.3 L514.2,421.5 L514.3,421.6 L514.6,421.8 L514.6,421.9 L514.9,422.1 L515.0,422.1 L515.3,422.4 L515.3,422.4 L515.6,422.6 L515.7,422.7 L516.0,422.9 L516.0,422.9 L516.3,423.2 L516.4,423.2 L516.7,423.4 L516.7,423.5 L517.0,423.7 L517.1,423.7 L517.4,423.9 L517.4,424.0 L517.7,424.2 L517.7,424.2 L518.0,424.4 L518.1,424.5 L518.4,424.7 L518.4,424.7 L518.7,424.9 L518.8,424.9 L519.1,425.1 L519.1,425.2 L519.4,425.4 L519.5,425.4 L519.7,425.6 L519.8,425.6 L520.1,425.8 L520.1,425.9 L520.4,426.1 L520.5,426.1 L520.8,426.3 L520.8,426.3 L521.1,426.5 L521.1,426.5 L521.4,426.7 L521.5,426.7 L521.8,426.9 L521.8,427.0 L522.1,427.1 L522.2,427.2 L522.4,427.4 L522.5,427.4 L522.8,427.6 L522.8,427.6 L523.1,427.8 L523.2,427.8 L523.4,428.0 L523.5,428.0 L523.8,428.2 L523.8,428.2 L524.1,428.4 L524.2,428.4 L524.4,428.6 L524.5,428.6 L524.8,428.8 L524.8,428.8 L525.1,429.0 L525.1,429.0 L525.4,429.2 L525.5,429.2 L525.8,429.3 L525.8,429.4 L526.1,429.5 L526.1,429.6 L526.4,429.7 L526.5,429.7 L526.8,429.9 L526.8,429.9 L527.1,430.1 L527.1,430.1 L527.4,430.3 L527.4,430.3 L527.7,430.5 L527.8,430.5 L528.1,430.6 L528.1,430.7 L528.4,430.8 L528.4,430.8 L528.7,431.0 L528.7,431.0 L529.0,431.2 L529.1,431.2 L529.4,431.3 L529.4,431.4 L529.7,431.5 L529.7,431.5 L530.0,431.7 L530.1,431.7 L530.4,431.9 L530.4,431.9 L530.7,432.0 L530.7,432.0 L531.0,432.2 L531.0,432.2 L531.3,432.4 L531.4,432.4 L531.7,432.5 L531.7,432.5 L532.0,432.7 L532.0,432.7 L532.3,432.9 L532.3,432.9 L532.6,433.0 L532.9,433.2 L533.0,433.2 L533.3,433.4 L533.6,433.5 L533.9,433.7 L534.0,433.7 L534.3,433.8 L534.6,434.0 L534.9,434.1 L535.0,434.2 L535.3,434.3 L535.6,434.5 L535.9,434.6 L535.9,434.6 L536.2,434.8 L536.6,434.9 L536.9,435.1 L536.9,435.1 L537.2,435.2 L537.5,435.4 L537.8,435.5 L537.9,435.6 L538.2,435.7 L538.5,435.8 L538.8,436.0 L538.9,436.0 L539.2,436.1 L539.5,436.3 L539.8,436.4 L539.9,436.4 L540.2,436.6 L540.5,436.7 L540.8,436.9 L540.9,436.9 L541.2,437.0 L541.5,437.2 L541.8,437.3 L541.9,437.3 L542.2,437.4 L542.5,437.6 L542.8,437.7 L542.8,437.7 L543.2,437.9 L543.5,438.0 L543.8,438.1 L543.8,438.2 L544.1,438.3 L544.5,438.4 L544.5,438.4 L544.8,438.5 L545.0,438.6 L545.3,438.8 L545.6,438.9 L545.9,439.0 L546.0,439.0 L546.3,439.1 L546.6,439.3 L546.9,439.4 L547.0,439.4 L547.3,439.5 L547.6,439.6 L547.9,439.8 L548.0,439.8 L548.3,439.9 L548.6,440.0 L548.9,440.1 L549.0,440.2 L549.3,440.3 L549.6,440.4 L549.9,440.5 L550.0,440.5 L550.3,440.7 L550.6,440.8 L551.0,440.9 L551.0,440.9 L551.3,441.0 L551.7,441.1 L552.0,441.2 L552.0,441.3 L552.4,441.4 L552.7,441.5 L553.0,441.6 L553.1,441.6 L553.4,441.7 L553.7,441.8 L554.0,441.9 L554.1,442.0 L555.0,442.3 L555.1,442.3 L555.4,442.4 L555.7,442.5 L556.1,442.6 L556.1,442.6 L556.4,442.8 L556.8,442.9 L557.1,443.0 L557.2,443.0 L558.1,443.3 L558.2,443.3 L558.5,443.4 L558.8,443.5 L559.1,443.6 L559.2,443.6 L560.2,443.9 L560.2,443.9 L560.6,444.0 L560.9,444.1 L561.2,444.2 L561.3,444.2 L561.6,444.3 L561.9,444.4 L562.2,444.5 L562.3,444.5 L562.6,444.6 L562.9,444.7 L563.3,444.8 L563.3,444.8 L563.7,444.9 L564.0,445.0 L564.3,445.1 L564.4,445.1 L565.3,445.4 L565.4,445.4 L565.7,445.5 L566.1,445.6 L566.4,445.7 L566.5,445.7 L566.8,445.8 L567.1,445.9 L567.4,445.9 L567.5,446.0 L567.8,446.0 L568.1,446.1 L568.5,446.2 L568.5,446.2 L568.9,446.3 L569.2,446.4 L569.5,446.5 L569.6,446.5 L570.6,446.7 L570.6,446.7 L571.0,446.8 L571.3,446.9 L571.6,447.0 L571.7,447.0 L572.7,447.2 L572.7,447.2 L573.1,447.3 L573.4,447.4 L573.7,447.5 L573.8,447.5 L574.1,447.5 L574.4,447.6 L574.8,447.7 L574.8,447.7 L575.2,447.8 L575.5,447.8 L575.8,447.9 L575.9,447.9 L576.9,448.1 L576.9,448.1 L577.3,448.2 L577.6,448.3 L577.9,448.3 L578.0,448.4 L579.0,448.6 L579.1,448.6 L579.4,448.6 L579.7,448.7 L580.0,448.8 L580.1,448.8 L581.1,449.0 L581.2,449.0 L581.5,449.0 L581.8,449.1 L582.2,449.1 L582.2,449.2 L582.6,449.2 L582.9,449.3 L583.2,449.3 L583.3,449.3 L584.3,449.5 L584.4,449.5 L584.7,449.6 L585.0,449.6 L585.3,449.7 L585.4,449.7 L585.7,449.7 L586.1,449.8 L586.4,449.8 L586.5,449.8 L586.8,449.9 L587.1,449.9 L587.5,450.0 L587.5,450.0 L587.9,450.1 L588.2,450.1 L588.5,450.1 L588.6,450.2 L588.9,450.2 L589.3,450.2 L589.6,450.3 L589.7,450.3 L590.0,450.3 L590.3,450.4 L590.7,450.4 L590.7,450.4 L591.1,450.5 L591.4,450.5 L591.7,450.6 L591.8,450.6 L592.1,450.6 L592.5,450.7 L592.8,450.7 L592.9,450.7 L593.2,450.7 L593.5,450.8 L593.9,450.8 L594.0,450.8 L594.3,450.9 L594.6,450.9 L595.0,450.9 L595.0,450.9 L595.4,451.0 L595.7,451.0 L596.0,451.0 L596.1,451.1 L596.4,451.1 L596.8,451.1 L597.1,451.2 L597.2,451.2 L597.5,451.2 L597.8,451.2 L598.2,451.3 L598.2,451.3 L598.6,451.3 L598.9,451.3 L599.2,451.3 L599.3,451.4 L599.6,451.4 L600.0,451.4 L600.3,451.4 L600.4,451.4 L601.4,451.5 L601.5,451.5 L601.8,451.5 L602.1,451.6 L602.5,451.6 L602.5,451.6 L602.9,451.6 L603.2,451.6 L603.5,451.7 L603.6,451.7 L603.9,451.7 L604.3,451.7 L604.6,451.7 L604.7,451.7 L605.0,451.7 L605.4,451.8 L605.7,451.8 L605.8,451.8 L606.8,451.8 L606.8,451.8 L607.2,451.8 L607.5,451.9 L607.8,451.9 L607.9,451.9 L608.2,451.9 L608.6,451.9 L608.9,451.9 L609.0,451.9 L609.3,451.9 L609.7,451.9 L610.0,451.9 L610.1,451.9 L610.4,451.9 L610.7,452.0 L611.1,452.0 L611.1,452.0 L611.5,452.0 L611.8,452.0 L612.1,452.0 L612.2,452.0 L612.6,452.0 L612.9,452.0 L613.2,452.0 L613.3,452.0 L614.3,452.0 L614.4,452.0 L614.7,452.0 L615.0,452.0 L615.4,452.0 L615.4,452.0 L616.5,452.0 L616.5,452.0 L616.9,452.0 L617.2,452.0 L617.5,452.0 L617.6,452.0 L617.9,452.0 L618.3,452.0 L618.6,452.0 L618.7,452.0 L619.0,452.0 L619.3,451.9 L619.7,451.9 L619.8,451.9 L620.1,451.9 L620.4,451.9 L620.8,451.9 L620.8,451.9 L621.2,451.9 L621.5,451.9 L621.8,451.9 L621.9,451.9 L622.2,451.9 L622.6,451.8 L622.9,451.8 L623.0,451.8 L623.3,451.8 L623.7,451.8 L624.0,451.8 L624.1,451.8 L624.4,451.8 L624.7,451.8 L625.1,451.7 L625.1,451.7 L625.5,451.7 L625.8,451.7 L626.1,451.7 L626.2,451.7 L626.5,451.6 L626.9,451.6 L627.2,451.6 L627.3,451.6 L627.6,451.6 L628.0,451.6 L628.3,451.5 L628.4,451.5 L628.7,451.5 L629.0,451.5 L629.4,451.5 L629.4,451.5 L629.8,451.4 L630.1,451.4 L630.4,451.4 L630.5,451.4 L631.5,451.3 L631.6,451.3 L631.9,451.2 L632.2,451.2 L632.6,451.2 L632.7,451.2 L633.0,451.1 L633.3,451.1 L633.7,451.1 L633.7,451.1 L634.1,451.0 L634.4,451.0 L634.7,451.0 L634.8,451.0 L635.1,450.9 L635.5,450.9 L635.8,450.9 L635.9,450.9 L636.9,450.7 L636.9,450.7 L637.3,450.7 L637.6,450.7 L637.9,450.6 L638.0,450.6 L638.3,450.6 L638.7,450.5 L639.0,450.5 L639.1,450.5 L639.4,450.4 L639.7,450.4 L640.1,450.3 L640.1,450.3 L641.1,450.2 L641.2,450.2 L641.5,450.1 L641.9,450.1 L642.2,450.0 L642.3,450.0 L642.6,450.0 L642.9,449.9 L643.3,449.9 L643.3,449.9 L643.7,449.8 L644.0,449.8 L644.3,449.7 L644.4,449.7 L644.7,449.7 L645.1,449.6 L645.4,449.6 L645.5,449.5 L645.8,449.5 L646.1,449.4 L646.5,449.4 L646.5,449.4 L646.9,449.3 L647.2,449.3 L647.5,449.2 L647.6,449.2 L647.9,449.1 L648.3,449.1 L648.6,449.0 L648.7,449.0 L649.0,448.9 L649.3,448.9 L649.6,448.8 L649.7,448.8 L650.7,448.6 L650.8,448.6 L651.1,448.5 L651.4,448.5 L651.8,448.4 L651.8,448.4 L652.2,448.3 L652.5,448.3 L652.8,448.2 L652.9,448.2 L653.2,448.1 L653.5,448.1 L653.9,448.0 L653.9,448.0 L654.3,447.9 L654.6,447.8 L654.9,447.8 L655.0,447.7 L655.3,447.7 L655.6,447.6 L656.0,447.5 L656.0,447.5 L656.4,447.4 L656.7,447.4 L657.0,447.3 L657.1,447.3 L657.4,447.2 L657.7,447.1 L658.1,447.1 L658.1,447.0 L658.5,447.0 L658.8,446.9 L659.1,446.8 L659.2,446.8 L659.5,446.7 L659.8,446.6 L660.2,446.6 L660.2,446.5 L660.6,446.5 L660.9,446.4 L661.2,446.3 L661.3,446.3 L661.6,446.2 L661.9,446.1 L662.3,446.0 L662.3,446.0 L663.3,445.8 L663.4,445.7 L663.7,445.7 L664.0,445.6 L664.3,445.5 L664.4,445.5 L664.7,445.4 L665.1,445.3 L665.4,445.2 L665.4,445.2 L665.8,445.1 L666.1,445.0 L666.4,444.9 L666.5,444.9 L666.8,444.8 L667.1,444.7 L667.5,444.6 L667.5,444.6 L667.8,444.5 L668.2,444.4 L668.5,444.3 L668.6,444.3 L668.9,444.2 L669.2,444.1 L669.5,444.0 L669.6,444.0 L670.5,443.7 L670.6,443.7 L670.9,443.6 L671.3,443.5 L671.6,443.4 L671.6,443.4 L672.0,443.3 L672.3,443.2 L672.6,443.1 L672.7,443.0 L673.0,442.9 L673.3,442.8 L673.6,442.7 L673.7,442.7 L674.0,442.6 L674.3,442.5 L674.7,442.4 L674.7,442.4 L675.0,442.3 L675.4,442.2 L675.7,442.1 L675.7,442.0 L676.1,441.9 L676.4,441.8 L676.7,441.7 L676.8,441.7 L677.1,441.6 L677.4,441.5 L677.7,441.4 L677.8,441.3 L678.1,441.2 L678.4,441.1 L678.7,441.0 L678.8,441.0 L679.1,440.9 L679.4,440.7 L679.7,440.6 L679.8,440.6 L680.1,440.5 L680.4,440.4 L680.8,440.3 L680.8,440.2 L681.1,440.1 L681.4,440.0 L681.8,439.9 L681.8,439.9 L682.8,439.5 L682.8,439.5 L683.8,439.1 L683.8,439.1 L684.8,438.7 L684.8,438.7 L685.2,438.6 L685.5,438.4 L685.8,438.3 L685.8,438.3 L686.2,438.2 L686.5,438.0 L686.8,437.9 L686.8,437.9 L687.2,437.8 L687.5,437.6 L687.8,437.5 L687.8,437.5 L688.1,437.4 L688.5,437.2 L688.8,437.1 L688.8,437.1 L689.1,436.9 L689.4,436.8 L689.8,436.7 L689.8,436.6 L690.1,436.5 L690.4,436.4 L690.7,436.2 L690.8,436.2 L691.1,436.1 L691.4,436.0 L691.7,435.8 L691.8,435.8 L692.1,435.7 L692.4,435.5 L692.7,435.4 L692.8,435.3 L693.1,435.2 L693.4,435.1 L693.7,434.9 L693.8,434.9 L694.1,434.8 L694.4,434.6 L694.7,434.5 L694.7,434.5 L695.0,434.3 L695.3,434.2 L695.7,434.0 L695.7,434.0 L696.0,433.9 L696.3,433.7 L696.6,433.6 L696.7,433.5 L697.0,433.4 L697.3,433.3 L697.6,433.1 L697.7,433.1 L698.0,432.9 L698.3,432.8 L698.6,432.6 L698.6,432.6 L698.9,432.5 L699.2,432.3 L699.5,432.2 L699.6,432.1 L699.9,432.0 L700.2,431.8 L700.5,431.7 L700.6,431.6 L700.9,431.5 L701.2,431.3 L701.5,431.2 L701.5,431.2 L701.8,431.0 L702.1,430.9 L702.4,430.7 L702.5,430.7 L702.8,430.5 L703.1,430.4 L703.4,430.2 L703.4,430.2 L703.7,430.0 L704.0,429.9 L704.3,429.7 L704.4,429.7 L704.7,429.5 L705.0,429.3 L705.3,429.2 L705.3,429.2 L705.6,429.0 L705.9,428.8 L706.2,428.7 L706.3,428.6 L706.6,428.5 L706.9,428.3 L707.2,428.2 L707.2,428.1 L707.5,428.0 L707.8,427.8 L708.1,427.6 L708.2,427.6 L708.5,427.4 L708.7,427.3 L709.0,427.1 L709.1,427.1 L709.4,426.9 L709.7,426.7 L710.0,426.6 L710.0,426.6 L710.4,426.3 L710.9,426.1 L711.3,425.8 L711.7,425.6 L712.1,425.3 L712.6,425.1 L713.0,424.8 L713.4,424.6 L713.9,424.3 L714.3,424.1 L714.7,423.8 L715.2,423.6 L715.6,423.3 L716.0,423.1 L716.4,422.8 L716.9,422.6 L717.3,422.3 L718.2,421.8 L718.6,421.6 L719.0,421.3 L719.5,421.1 L719.9,420.8 L720.3,420.6 L720.8,420.4 L721.2,420.1 L721.6,419.9 L722.0,419.6 L722.5,419.4 L722.9,419.1 L723.3,418.9 L723.8,418.6 L724.2,418.4 L724.6,418.1 L725.1,417.9 L725.9,417.4 L726.3,417.1 L726.8,416.9 L727.2,416.6 L727.6,416.4 L728.1,416.1 L728.5,415.9 L728.9,415.6 L729.4,415.4 L729.8,415.1 L730.2,414.9 L730.7,414.6 L731.1,414.4 L731.5,414.2 L731.9,413.9 L732.4,413.7 L732.8,413.4 L733.7,412.9 L734.1,412.7 L735.0,412.2 L735.4,411.9 L735.8,411.7 L736.3,411.4 L736.7,411.2 L737.1,410.9 L737.5,410.7 L738.0,410.4 L738.4,410.2 L738.8,409.9 L739.3,409.7 L739.7,409.4 L740.1,409.2 L740.1,409.2 L740.6,408.9 L741.0,408.7 L741.4,408.4 L741.8,408.2 L742.3,407.9 L742.7,407.7 L743.1,407.5 L743.5,407.2 L743.9,407.0 L744.4,406.7 L744.8,406.5 L745.2,406.2 L745.6,406.0 L746.0,405.8 L746.4,405.5 L746.8,405.3 L747.2,405.0 L747.6,404.8 L748.0,404.6 L748.5,404.3 L748.9,404.1 L748.9,404.1 L749.2,403.8 L749.3,403.8 L749.6,403.6 L749.7,403.6 L750.0,403.4 L750.1,403.4 L750.4,403.1 L750.5,403.1 L750.8,402.9 L750.8,402.9 L751.2,402.7 L751.2,402.7 L751.6,402.4 L751.6,402.4 L752.0,402.2 L752.0,402.2 L752.4,402.0 L752.4,402.0 L752.8,401.7 L752.8,401.7 L753.1,401.5 L753.2,401.5 L753.5,401.3 L753.5,401.2 L753.9,401.0 L753.9,401.0 L754.3,400.8 L754.3,400.8 L754.6,400.6 L754.7,400.6 L755.0,400.3 L755.0,400.3 L755.4,400.1 L755.4,400.1 L755.7,399.9 L755.7,399.9 L756.1,399.6 L756.1,399.6 L756.4,399.4 L756.5,399.3 L756.8,399.2 L756.8,399.2 L757.0,399.0 L757.1,399.0 L757.4,398.8 L757.4,398.8 L757.6,398.6 L757.7,398.6 L758.0,398.4 L758.0,398.4 L758.2,398.2 L758.3,398.2 L758.5,398.0 L758.6,398.0 L758.8,397.8 L758.9,397.7 L759.1,397.6 L759.1,397.6 L759.4,397.4 L759.4,397.3 L759.7,397.2 L759.7,397.1 L759.9,397.0 L760.0,396.9 L760.2,396.7 L760.3,396.7 L760.5,396.6 L760.6,396.5 L760.8,396.3 L760.8,396.3 L761.1,396.1 L761.1,396.1 L761.4,395.9 L761.4,395.9 L761.6,395.7 L761.7,395.6 L761.9,395.5 L761.9,395.4 L762.2,395.2 L762.2,395.2 L762.4,395.0 L762.5,395.0 L762.7,394.8 L762.8,394.7 L763.0,394.6 L763.0,394.5 L763.2,394.4 L763.3,394.3 L763.5,394.1 L763.6,394.1 L763.8,393.9 L763.8,393.8 L764.0,393.7 L764.1,393.6 L764.3,393.4 L764.4,393.4 L764.6,393.2 L764.6,393.2 L764.8,393.0 L764.9,392.9 L765.1,392.7 L765.1,392.7 L765.3,392.5 L765.4,392.4 L765.6,392.3 L765.6,392.2 L765.8,392.0 L765.9,392.0 L766.1,391.8 L766.2,391.7 L766.3,391.5 L766.4,391.5 L766.6,391.3 L766.7,391.3 L766.8,391.1 L766.9,391.0 L767.1,390.8 L767.1,390.8 L767.3,390.6 L767.4,390.5 L767.6,390.3 L767.6,390.3 L767.8,390.1 L767.9,390.0 L768.1,389.8 L768.1,389.8 L768.3,389.6 L768.4,389.5 L768.5,389.3 L768.6,389.3 L768.8,389.1 L768.8,389.0 L769.0,388.8 L769.1,388.8 L769.2,388.6 L769.3,388.5 L769.5,388.3 L769.5,388.2 L769.7,388.0 L769.8,388.0 L769.9,387.8 L770.0,387.7 L770.1,387.5 L770.2,387.5 L770.4,387.3 L770.4,387.2 L770.6,387.0 L770.6,386.9 L770.8,386.7 L770.9,386.7 L771.0,386.5 L771.1,386.4 L771.2,386.2 L771.3,386.1 L771.4,385.9 L771.5,385.9 L771.7,385.7 L771.7,385.6 L771.9,385.4 L771.9,385.3 L772.1,385.1 L772.1,385.1 L772.3,384.9 L772.3,384.8 L772.5,384.6 L772.5,384.6 L772.7,384.3 L772.7,384.3 L772.9,384.1 L772.9,384.0 L773.1,383.8 L773.1,383.7 L773.3,383.5 L773.3,383.5 L773.4,383.3 L773.5,383.2 L773.6,383.0 L773.7,383.0 L773.8,382.7 L773.9,382.7 L774.0,382.5 L774.0,382.4 L774.2,382.2 L774.2,382.1 L774.4,381.9 L774.4,381.9 L774.5,381.7 L774.6,381.6 L774.7,381.4 L774.8,381.3 L774.9,381.1 L774.9,381.1 L775.1,380.8 L775.1,380.8 L775.3,380.6 L775.3,380.5 L775.4,380.3 L775.5,380.2 L775.6,380.0 L775.6,380.0 L775.8,379.7 L775.8,379.7 L775.9,379.5 L776.0,379.4 L776.1,379.2 L776.2,379.1 L776.3,378.9 L776.3,378.8 L776.5,378.6 L776.5,378.5 L776.6,378.3 L776.7,378.2 L776.8,378.0 L776.8,377.9 L777.0,377.7 L777.0,377.6 L777.1,377.4 L777.2,377.4 L777.3,377.1 L777.3,377.0 L777.4,376.8 L777.5,376.8 L777.6,376.5 L777.6,376.4 L777.8,376.2 L777.8,376.2 L777.9,375.9 L778.0,375.8 L778.1,375.6 L778.1,375.5 L778.2,375.3 L778.3,375.2 L778.4,375.0 L778.4,374.9 L778.5,374.7 L778.6,374.6 L778.7,374.4 L778.7,374.3 L778.8,374.1 L778.9,374.0 L779.0,373.7 L779.0,373.7 L779.1,373.4 L779.2,373.4 L779.3,373.1 L779.3,373.1 L779.4,372.8 L779.4,372.7 L779.5,372.5 L779.6,372.4 L779.7,372.2 L779.7,372.1 L779.8,371.8 L779.8,371.8 L779.9,371.5 L780.0,371.4 L780.1,371.2 L780.1,371.1 L780.2,370.9 L780.2,370.8 L780.3,370.5 L780.3,370.5 L780.4,370.2 L780.5,370.1 L780.6,369.9 L780.6,369.8 L780.7,369.6 L780.7,369.5 L780.8,369.2 L780.8,369.2 L780.9,368.9 L781.0,368.8 L781.1,368.6 L781.1,368.5 L781.2,368.3 L781.2,368.2 L781.3,367.9 L781.3,367.9 L781.4,367.6 L781.4,367.5 L781.5,367.2 L781.5,367.2 L781.6,366.9 L781.6,366.8 L781.7,366.6 L781.7,366.5 L781.8,366.3 L781.8,366.2 L781.9,365.9 L781.9,365.9 L782.0,365.6 L782.1,365.5 L782.1,365.2 L782.1,365.2 L782.2,364.9 L782.2,364.8 L782.3,364.6 L782.3,364.5 L782.4,364.2 L782.4,364.1 L782.5,363.9 L782.5,363.8 L782.6,363.6 L782.6,363.5 L782.7,363.2 L782.7,363.2 L782.8,362.9 L782.8,362.8 L782.9,362.5 L782.9,362.5 L782.9,362.2 L783.0,362.1 L783.0,361.8 L783.0,361.8 L783.1,361.5 L783.1,361.4 L783.2,361.1 L783.2,361.1 L783.3,360.8 L783.3,360.7 L783.3,360.4 L783.4,360.4 L783.4,360.1 L783.4,360.0 L783.5,359.8 L783.5,359.7 L783.6,359.4 L783.6,359.3 L783.6,359.1 L783.6,359.0 L783.7,358.7 L783.7,358.6 L783.8,358.2 L783.8,358.2 L783.9,357.8 L783.9,357.8 L783.9,357.4 L783.9,357.4 L784.0,357.0 L784.0,356.9 L784.1,356.5 L784.1,356.5 L784.2,356.1 L784.2,356.1 L784.2,355.7 L784.2,355.6 L784.3,355.2 L784.3,355.2 L784.4,354.8 L784.4,354.8 L784.4,354.4 L784.5,354.3 L784.5,353.9 L784.5,353.9 L784.6,353.5 L784.6,353.4 L784.7,353.0 L784.7,353.0 L784.7,352.6 L784.7,352.5 L784.8,352.1 L784.8,352.1 L784.9,351.7 L784.9,351.6 L784.9,351.2 L784.9,351.2 L785.0,350.8 L785.0,350.7 L785.1,350.3 L785.1,350.3 L785.1,349.8 L785.1,349.8 L785.2,349.4 L785.3,348.9 L785.3,348.4 L785.4,348.0 L785.5,347.5 L785.5,347.0 L785.6,346.6 L785.7,346.1 L785.7,345.6 L785.8,345.1 L785.9,344.7 L785.9,344.2 L786.0,343.7 L786.1,343.2 L786.1,342.7 L786.2,342.3 L786.3,341.8 L786.3,341.3 L786.4,340.8 L786.5,340.3 L786.5,339.8 L786.5,339.8 L786.6,339.3 L786.7,338.8 L786.8,337.8 L786.9,337.3 L786.9,336.8 L787.0,336.3 L787.0,335.9 L787.2,334.9 L787.2,334.4 L787.4,333.4 L787.4,332.9 L787.6,331.9 L787.6,331.4 L787.8,330.4 L787.8,329.9 L788.0,329.0 L788.0,328.5 L788.2,327.5 L788.2,327.0 L788.3,326.0 L788.4,325.5 L788.5,324.5 L788.6,324.0 L788.7,323.0 L788.8,322.5 L788.9,321.6 L789.0,321.1 L789.1,320.1 L789.2,319.6 L789.3,318.6 L789.4,318.1 L789.5,317.1 L789.6,316.6 L789.7,315.6 L789.8,315.1 L789.9,314.2 L790.0,313.7 L790.1,312.7 L790.2,312.2 L790.3,311.2 L790.4,310.7 L790.4,310.2 L790.5,309.7 L790.6,308.7 L790.7,308.2 L790.8,307.7 L790.9,306.8 L790.9,306.3 L791.0,305.8 L791.1,305.3 L791.2,304.3 L791.3,303.8 L791.5,302.3 L791.5,301.8 L791.6,301.3 L791.7,300.8 L791.8,299.9 L791.9,299.4 L792.0,298.4 L792.1,297.9 L792.2,296.9 L792.2,296.4 L792.3,295.9 L792.4,295.4 L792.5,294.4 L792.6,293.9 L792.8,292.5 L792.8,292.0 L792.9,291.5 L793.0,291.0 L793.0,290.5 L793.1,290.0 L793.2,289.5 L793.3,288.5 L793.3,288.0 L793.5,287.0 L793.5,286.5 L793.7,285.6 L793.7,285.1 L793.9,284.1 L793.9,283.6 L794.1,282.6 L794.1,282.1 L794.3,281.1 L794.3,280.6 L794.5,279.6 L794.5,279.1 L794.6,278.2 L794.7,277.7 L794.8,276.7 L794.9,276.2 L795.0,275.2 L795.1,274.7 L795.2,273.7 L795.3,273.2 L795.4,272.2 L795.5,271.8 L795.6,271.3 L795.6,270.8 L795.7,270.3 L795.8,269.3 L795.9,268.8 L796.0,267.8 L796.1,267.3 L796.1,266.9 L796.1,266.8 L796.3,266.8 L796.6,266.8 L797.1,266.7 L797.6,266.7 L798.1,266.6 L798.6,266.6 L799.1,266.5 L799.6,266.5 L800.1,266.4 L800.6,266.4 L801.0,266.3 L801.5,266.3 L802.0,266.2 L802.5,266.2 L803.0,266.1 L803.5,266.1 L804.0,266.0 L804.5,266.0 L805.0,265.9 L805.4,265.9 L805.9,265.8 L806.4,265.8 L806.9,265.8 L807.4,265.7 L807.9,265.7 L808.4,265.6 L808.9,265.6 L809.4,265.5 L809.9,265.5 L810.3,265.4 L810.8,265.4 L811.3,265.3 L811.8,265.3 L812.3,265.2 L812.8,265.2 L813.3,265.1 L813.8,265.1 L814.3,265.0 L814.8,265.0 L815.2,264.9 L815.7,264.9 L816.2,264.8 L816.4,264.8 L817.6,264.9 L819.0,264.8 L819.5,264.7 L819.8,264.7 L820.0,264.6 L820.3,264.6 L820.6,264.6 L821.1,264.5 L821.4,264.5 L821.7,264.5 L822.0,264.4 L822.2,264.4 L822.8,264.3 L823.0,264.3 L823.3,264.3 L823.6,264.2 L823.9,264.2 L824.1,264.2 L824.4,264.1 L824.7,264.1 L825.0,264.1 L825.2,264.0 L825.5,264.0 L825.8,264.0 L826.0,264.0 L826.3,263.9 L826.6,263.9 L826.9,263.9 L827.1,263.8 L827.4,263.8 L827.7,263.8 L827.9,263.7 L828.2,263.7 L828.8,263.6 L829.0,263.6 L829.3,263.6 L829.6,263.5 L829.9,263.5 L830.4,263.5 L830.7,263.4 L830.9,263.4 L831.2,263.4 L831.5,263.3 L831.8,263.3 L832.0,263.3 L832.3,263.2 L832.6,263.2 L832.9,263.2 L833.1,263.1 L833.4,263.1 L833.7,263.1 L833.9,263.1 L834.2,263.0 L834.5,263.0 L834.8,263.0 L835.3,262.9 L835.6,262.9 L835.8,262.8 L836.4,262.8 L836.7,262.7 L836.9,262.7 L837.2,262.7 L837.5,262.7 L838.0,262.6 L838.6,262.5 L838.8,262.5 L839.1,262.5 L839.4,262.4 L839.7,262.4 L840.2,262.4 L840.8,262.3 L841.3,262.2 L841.6,262.2 L841.8,262.2 L842.1,262.1 L842.4,262.1 L842.9,262.1 L843.2,262.0 L843.5,262.0 L843.7,262.0 L844.0,261.9 L844.3,261.9 L844.6,261.9 L845.1,261.8 L845.4,261.8 L845.7,261.8 L845.9,261.7 L846.2,261.7 L846.7,261.6 L847.0,261.6 L847.3,261.6 L847.6,261.5 L847.8,261.5 L848.4,261.5 L848.7,261.4 L848.9,261.4 L849.2,261.4 L849.5,261.3 L849.7,261.3 L850.0,261.3 L850.3,261.3 L850.6,261.2 L850.8,261.2 L851.1,261.2 L851.4,261.1 L851.7,261.1 L851.9,261.1 L852.2,261.0 L852.5,261.0 L852.7,261.0 L853.0,261.0 L853.3,260.9 L853.8,260.9 L854.1,260.8 L854.4,260.8 L854.6,260.8 L854.9,260.8 L855.5,260.7 L856.0,260.6 L856.3,260.6 L856.6,260.6 L856.8,260.6 L857.1,260.5 L857.4,260.5 L857.6,260.5 L857.9,260.4 L858.2,260.4 L858.5,260.4 L858.7,260.4 L859.0,260.3 L859.3,260.3 L859.8,260.2 L860.4,260.2 L860.6,260.2 L860.9,260.1 L861.2,260.1 L861.5,260.1 L861.7,260.0 L862.0,260.0 L862.3,260.0 L862.6,260.0 L862.8,259.9 L863.1,259.9 L863.4,259.9 L863.6,259.8 L863.9,259.8 L864.2,259.8 L864.5,259.8 L864.7,259.7 L865.0,259.7 L865.3,259.7 L865.6,259.7 L865.8,259.6 L866.1,259.6 L866.4,259.6 L866.6,259.5 L866.9,259.5 L867.2,259.5 L867.5,259.5 L867.7,259.4 L868.0,259.4 L868.3,259.4 L868.6,259.3 L868.8,259.3 L869.1,259.3 L869.4,259.3 L869.6,259.2 L870.2,259.2 L870.5,259.2 L870.7,259.1 L871.0,259.1 L871.3,259.1 L871.5,259.0 L871.8,259.0 L872.1,259.0 L872.4,259.0 L872.9,258.9 L873.2,258.9 L873.5,258.9 L873.7,258.8 L874.0,258.8 L874.3,258.8 L874.5,258.7 L874.8,258.7 L875.1,258.7 L875.6,258.6 L875.9,258.6 L876.2,258.6 L876.5,258.6 L876.7,258.5 L877.0,258.5 L877.3,258.5 L877.8,258.4 L878.4,258.4 L878.6,258.3 L878.9,258.3 L879.5,258.3 L879.7,258.2 L880.5,257.8 L881.1,257.7 L881.6,257.6 L881.9,257.6 L882.1,257.6 L882.7,257.5 L883.0,257.5 L883.2,257.5 L883.5,257.5 L883.8,257.4 L884.3,257.4 L884.9,257.3 L885.1,257.3 L885.4,257.3 L885.7,257.2 L886.0,257.2 L886.2,257.2 L886.5,257.2 L886.8,257.1 L887.1,257.1 L887.3,257.1 L887.6,257.1 L887.9,257.0 L888.1,257.0 L888.7,257.0 L889.2,256.9 L889.5,256.9 L889.8,256.9 L890.3,256.8 L890.6,256.8 L890.9,256.8 L891.1,256.7 L891.4,256.7 L891.7,256.7 L892.0,256.7 L892.2,256.6 L892.5,256.6 L893.1,256.5 L893.3,256.5 L893.6,256.5 L893.9,256.5 L894.1,256.4 L894.4,256.4 L894.7,256.4 L895.0,256.4 L895.2,256.3 L895.5,256.3 L895.8,256.3 L896.1,256.3 L896.3,256.2 L896.6,256.2 L896.9,256.2 L897.1,256.2 L897.4,256.1 L898.0,256.1 L898.2,256.1 L898.5,256.0 L898.8,256.0 L899.1,256.0 L899.3,256.0 L899.6,255.9 L900.1,255.9 L900.4,255.9 L900.7,255.8 L901.0,255.8 L901.2,255.8 L901.5,255.8 L901.8,255.7 L902.3,255.7 L902.6,255.7 L902.9,255.6 L903.2,255.6 L903.4,255.6 L904.0,255.5 L904.2,255.5 L904.5,255.5 L904.8,255.5 L905.1,255.4 L905.6,255.4 L906.2,255.3 L906.4,255.3 L906.7,255.3 L907.0,255.3 L907.2,255.2 L907.5,255.2 L907.8,255.2 L908.1,255.2 L908.3,255.1 L908.6,255.1 L908.9,255.1 L909.4,255.0 L909.7,255.0 L910.0,255.0 L910.2,255.0 L910.5,255.0 L910.8,254.9 L911.1,254.9 L911.3,254.9 L911.6,254.9 L912.2,254.8 L912.7,254.8 L913.0,254.7 L913.2,254.7 L913.5,254.7 L913.8,254.7 L914.1,254.6 L914.3,254.6 L914.9,254.6 L915.2,254.5 L915.4,254.5 L915.7,254.5 L916.0,254.5 L916.3,254.4 L916.5,254.4 L916.8,254.4 L917.1,254.4 L917.3,254.4 L917.6,254.3 L917.9,254.3 L918.2,254.3 L918.7,254.2 L919.0,254.2 L919.3,254.2 L919.8,254.1 L920.1,254.1 L920.3,254.1 L920.6,254.1 L920.9,254.0 L921.2,254.0 L921.4,254.0 L921.7,254.0 L922.0,254.0 L922.3,253.9 L922.5,253.9 L922.8,253.9 L923.1,253.9 L923.6,253.8 L923.9,253.8 L924.2,253.8 L924.4,253.7 L924.7,253.7 L925.0,253.7 L925.3,253.7 L925.5,253.7 L925.8,253.6 L926.1,253.6 L926.4,253.6 L926.6,253.6 L926.9,253.5 L927.2,253.5 L927.4,253.5 L928.0,253.4 L928.3,253.4 L928.5,253.4 L928.8,253.4 L929.1,253.4 L929.4,253.3 L929.6,253.3 L929.9,253.3 L930.2,253.3 L930.7,253.2 L931.3,253.2 L931.5,253.2 L931.8,253.1 L932.1,253.1 L932.4,253.1 L932.6,253.1 L932.9,253.0 L933.4,253.0 L933.7,253.0 L934.0,252.9 L934.3,252.9 L934.5,252.9 L935.1,252.9 L935.4,252.8 L935.6,252.8 L935.9,252.8 L936.2,252.8 L936.5,252.7 L936.7,252.7 L937.0,252.7 L937.3,252.7 L937.5,252.7 L937.8,252.6 L938.1,252.6 L938.4,252.6 L938.9,252.5 L939.2,252.5 L939.5,252.5 L939.7,252.5 L940.0,252.5 L940.3,252.4 L940.5,252.4 L940.8,252.4 L941.1,252.4 L941.4,252.4 L941.6,252.3 L941.9,252.3 L942.2,252.3 L942.5,252.3 L942.7,252.2 L943.3,252.2 L943.8,252.2 L944.1,252.1 L944.4,252.1 L944.6,252.1 L944.9,252.1 L945.5,252.0 L945.7,252.0 L946.0,252.0 L946.3,252.0 L946.6,251.9 L946.8,251.9 L947.1,251.9 L947.4,251.9 L947.6,251.9 L947.9,251.8 L948.2,251.8 L948.5,251.8 L948.7,251.8 L949.0,251.8 L949.3,251.7 L949.6,251.7 L949.8,251.7 L950.1,251.7 L950.4,251.6 L950.9,251.6 L951.2,251.6 L951.5,251.6 L951.7,251.5 L952.0,251.5 L952.3,251.5 L952.6,251.5 L952.8,251.5 L953.1,251.4 L953.4,251.4 L953.7,251.4 L953.9,251.4 L954.2,251.4 L954.7,251.3 L955.0,251.3 L955.3,251.3 L955.6,251.2 L955.8,251.2 L956.4,251.2 L956.9,251.1 L957.5,251.1 L958.0,251.1 L958.3,251.0 L958.6,251.0 L958.8,251.0 L959.1,251.0 L959.4,251.0 L959.7,250.9 L960.2,250.9 L960.8,250.9 L961.3,250.8 L961.6,250.8 L961.9,250.8 L962.1,250.8 L962.4,250.7 L962.7,250.7 L962.9,250.7 L963.2,250.7 L963.5,250.7 L963.8,250.6 L964.0,250.6 L964.3,250.6 L964.6,250.6 L965.1,250.5 L965.4,250.5 L965.7,250.5 L965.9,250.5 L966.2,250.5 L966.5,250.4 L966.8,250.4 L967.0,250.4 L967.3,250.4 L967.6,250.4 L967.9,250.3 L968.1,250.3 L968.4,250.3 L968.7,250.3 L969.0,250.3 L969.5,250.2 L969.8,250.2 L970.0,250.2 L970.3,250.2 L970.6,250.1 L970.9,250.1 L971.1,250.1 L971.7,250.1 L972.0,250.0 L972.2,250.0 L972.8,250.0 L973.1,250.0 L973.3,249.9 L973.6,249.9 L973.9,249.9 L974.4,249.9 L974.7,249.8 L975.0,249.8 L975.2,249.8 L975.5,249.8 L975.8,249.8 L976.1,249.8 L976.6,249.7 L977.2,249.7 L977.4,249.7 L977.7,249.6 L978.2,249.6 L978.5,249.6 L978.8,249.6 L979.1,249.5 L979.3,249.5 L979.9,249.5 L980.2,249.5 L980.4,249.4 L981.0,249.4 L981.3,249.4 L981.5,249.4 L982.1,249.3 L982.3,249.3 L982.6,249.3 L982.9,249.3 L983.2,249.3 L983.4,249.2 L983.7,249.2 L984.3,249.2 L984.5,249.2 L984.8,249.1 L985.1,249.1 L985.3,249.1 L985.6,249.1 L985.9,249.1 L986.2,249.1 L986.4,249.0 L986.7,249.0 L987.0,249.0 L987.3,249.0 L987.5,249.0 L987.8,248.9 L988.1,248.9 L988.6,248.9 L989.2,248.9 L989.4,248.8 L989.7,248.8 L990.0,248.8 L990.3,248.8 L990.5,248.8 L990.8,248.7 L991.4,248.7 L991.6,248.7 L991.9,248.7 L992.5,248.6 L992.7,248.6 L993.0,248.6 L993.5,248.6 L993.8,248.5 L994.1,248.5 L994.4,248.5 L994.6,248.5 L995.2,248.5 L995.5,248.4 L995.7,248.4 L996.0,248.4 L996.3,248.4 L996.6,248.4 L996.8,248.4 L997.4,248.3 L997.6,248.3 L997.9,248.3 L998.2,248.3 L998.5,248.2 L999.0,248.2 L999.3,248.2 L999.6,248.2 L999.8,248.2 L1000.1,248.1 L1000.4,248.1 L1000.7,248.1 L1001.2,248.1 L1001.7,248.0 L1002.0,248.0 L1002.3,248.0 L1002.6,248.0 L1002.8,248.0 L1003.1,248.0 L1003.4,247.9 L1003.7,247.9 L1003.9,247.9 L1004.2,247.9 L1004.5,247.9 L1005.0,247.8 L1005.6,247.8 L1005.9,247.8 L1006.1,247.8 L1006.4,247.7 L1006.7,247.7 L1006.9,247.7 L1007.2,247.7 L1007.5,247.7 L1007.8,247.7 L1008.3,247.6 L1008.6,247.6 L1008.9,247.6 L1009.1,247.6 L1009.4,247.6 L1009.7,247.5 L1010.0,247.5 L1010.5,247.5 L1011.0,247.5 L1011.3,247.4 L1011.6,247.4 L1012.1,247.4 L1012.4,247.4 L1012.7,247.4 L1013.0,247.3 L1013.2,247.3 L1013.5,247.3 L1013.8,247.3 L1014.1,247.3 L1014.3,247.3 L1014.9,247.2 L1015.1,247.2 L1015.4,247.2 L1015.7,247.2 L1016.0,247.2 L1016.5,247.1 L1017.1,247.1 L1017.3,247.1 L1017.6,247.1 L1017.9,247.1 L1018.2,247.0 L1018.7,247.0 L1019.0,247.0 L1019.2,247.0 L1019.8,246.9 L1020.1,246.9 L1020.3,246.9 L1020.6,246.9 L1020.9,246.9 L1021.4,246.8 L1022.0,246.8 L1022.5,246.8 L1023.1,246.7 L1023.4,246.7 L1023.6,246.7 L1024.2,246.7 L1024.4,246.7 L1024.7,246.7 L1025.0,246.6 L1025.3,246.6 L1025.5,246.6 L1025.8,246.6 L1026.1,246.6 L1026.4,246.6 L1026.6,246.5 L1026.9,246.5 L1027.2,246.5 L1027.5,246.5 L1027.7,246.5 L1028.0,246.5 L1028.5,246.4 L1028.8,246.4 L1029.1,246.4 L1029.4,246.4 L1029.6,246.4 L1029.9,246.4 L1030.2,246.3 L1030.5,246.3 L1030.7,246.3 L1031.0,246.3 L1031.3,246.3 L1031.8,246.3 L1032.1,246.2 L1032.4,246.2 L1032.6,246.2 L1032.9,246.2 L1033.5,246.2 L1033.7,246.1 L1034.0,246.1 L1034.3,246.1 L1034.6,246.1 L1034.8,246.1 L1035.1,246.1 L1035.4,246.1 L1035.7,246.0 L1035.9,246.0 L1036.2,246.0 L1036.5,246.0 L1036.8,246.0 L1037.0,246.0 L1037.3,246.0 L1037.6,245.9 L1037.8,245.9 L1038.1,245.9 L1038.4,245.9 L1038.7,245.9 L1038.9,245.9 L1039.2,245.9 L1039.5,245.8 L1039.8,245.8 L1040.0,245.8 L1040.6,245.8 L1040.9,245.8 L1041.1,245.7 L1041.4,245.7 L1041.7,245.7 L1041.9,245.7 L1042.2,245.7 L1042.5,245.7 L1042.8,245.7 L1043.0,245.6 L1043.3,245.6 L1043.6,245.6 L1043.9,245.6 L1044.1,245.6 L1044.4,245.6 L1044.7,245.6 L1045.0,245.5 L1045.2,245.5 L1045.5,245.5 L1045.8,245.5 L1046.1,245.5 L1046.3,245.5 L1046.6,245.5 L1047.1,245.4 L1047.4,245.4 L1047.7,245.4 L1048.0,245.4 L1048.2,245.4 L1048.5,245.4 L1048.8,245.3 L1049.3,245.3 L1049.9,245.3 L1050.2,245.3 L1050.4,245.3 L1050.7,245.3 L1051.0,245.2 L1051.3,245.2 L1051.5,245.2 L1051.8,245.2 L1052.1,245.2 L1052.3,245.2 L1052.6,245.2 L1052.9,245.1 L1053.2,245.1 L1053.4,245.1 L1053.7,245.1 L1054.0,245.1 L1054.3,245.1 L1054.5,245.1 L1054.8,245.0 L1055.1,245.0 L1055.4,245.0 L1055.6,245.0 L1055.9,245.0 L1056.2,245.0 L1056.4,245.0 L1056.7,245.0 L1057.0,244.9 L1057.3,244.9 L1057.5,244.9 L1057.8,244.9 L1058.1,244.9 L1058.6,244.9 L1058.9,244.8 L1059.2,244.8 L1059.5,244.8 L1059.7,244.8 L1060.0,244.8 L1060.3,244.8 L1060.6,244.8 L1060.8,244.8 L1061.1,244.7 L1061.4,244.7 L1061.6,244.7 L1061.9,244.7 L1062.2,244.7 L1062.5,244.7 L1062.7,244.7 L1063.0,244.6 L1063.3,244.6 L1063.6,244.6 L1063.8,244.6 L1064.1,244.6 L1064.4,244.6 L1064.7,244.6 L1064.9,244.6 L1065.2,244.5 L1065.5,244.5 L1065.8,244.5 L1066.3,244.5 L1066.8,244.5 L1067.1,244.5 L1067.4,244.4 L1067.9,244.4 L1068.5,244.4 L1069.0,244.4 L1069.6,244.3 L1070.1,244.3 L1070.4,244.3 L1070.7,244.3 L1071.2,244.3 L1071.8,244.2 L1072.0,244.2 L1072.3,244.2 L1072.6,244.2 L1072.9,244.2 L1073.1,244.2 L1073.4,244.2 L1073.7,244.1 L1074.0,244.1 L1074.2,244.1 L1074.5,244.1 L1075.1,244.1 L1075.3,244.1 L1075.6,244.1 L1076.2,244.0 L1076.4,244.0 L1076.7,244.0 L1077.0,244.0 L1077.2,244.0 L1077.8,244.0 L1078.3,243.9 L1078.6,243.9 L1078.9,243.9 L1079.4,243.9 L1080.0,243.9 L1080.3,243.9 L1080.5,243.8 L1081.1,243.8 L1081.6,243.8 L1081.9,243.8 L1082.2,243.8 L1082.4,243.8 L1082.7,243.8 L1083.3,243.7 L1083.8,243.7 L1084.1,243.7 L1084.4,243.7 L1084.6,243.7 L1084.9,243.7 L1085.5,243.6 L1086.0,243.6 L1086.3,243.6 L1086.6,243.6 L1086.8,243.6 L1087.1,243.6 L1087.4,243.6 L1087.6,243.5 L1087.9,243.5 L1088.2,243.5 L1088.5,243.5 L1088.7,243.5 L1089.0,243.5 L1089.3,243.5 L1089.8,243.5 L1090.1,243.4 L1090.4,243.4 L1090.7,243.4 L1090.9,243.4 L1091.5,243.4 L1091.8,243.4 L1092.0,243.4 L1092.3,243.3 L1092.6,243.3 L1092.9,243.3 L1093.1,243.3 L1093.4,243.3 L1093.7,243.3 L1093.9,243.3 L1094.2,243.3 L1094.5,243.3 L1094.8,243.2 L1095.0,243.2 L1095.3,243.2 L1095.6,243.2 L1095.9,243.2 L1096.1,243.2 L1096.4,243.2 L1096.7,243.2 L1097.0,243.2 L1097.2,243.2 L1097.5,243.1 L1098.1,243.1 L1098.6,243.1 L1098.9,243.1 L1099.1,243.1 L1099.4,243.1 L1099.7,243.1 L1100.0,243.0 L1100.2,243.0 L1100.8,243.0 L1101.3,243.0 L1101.9,243.0 L1102.4,242.9 L1102.7,242.9 L1103.0,242.9 L1103.3,242.9 L1103.5,242.9 L1103.8,242.9 L1104.1,242.9 L1104.3,242.9 L1104.6,242.9 L1104.9,242.9 L1105.2,242.8 L1105.4,242.8 L1105.7,242.8 L1106.0,242.8 L1106.3,242.8 L1106.5,242.8 L1106.8,242.8 L1107.4,242.8 L1107.9,242.7 L1108.2,242.7 L1108.5,242.7 L1108.7,242.7 L1109.0,242.7 L1109.6,242.7 L1110.1,242.7 L1110.4,242.6 L1110.6,242.6 L1110.9,242.6 L1111.2,242.6 L1111.7,242.6 L1112.0,242.6 L1112.3,242.6 L1112.6,242.6 L1112.8,242.6 L1113.1,242.5 L1113.4,242.5 L1113.7,242.5 L1113.9,242.5 L1114.5,242.5 L1114.8,242.5 L1115.0,242.5 L1115.6,242.5 L1116.1,242.4 L1116.7,242.4 L1116.9,242.4 L1117.2,242.4 L1117.5,242.4 L1117.8,242.4 L1118.0,242.4 L1118.3,242.4 L1118.6,242.4 L1118.9,242.3 L1119.4,242.3 L1119.7,242.3 L1120.0,242.3 L1120.5,242.3 L1120.8,242.3 L1121.1,242.3 L1121.3,242.3 L1121.6,242.3 L1121.9,242.2 L1122.1,242.2 L1122.4,242.2 L1122.7,242.2 L1123.2,242.2 L1123.5,242.2 L1123.8,242.2 L1124.1,242.2 L1124.3,242.2 L1124.6,242.1 L1124.9,242.1 L1125.4,242.1 L1126.0,242.1 L1126.3,242.1 L1126.5,242.1 L1126.8,242.1 L1127.1,242.1 L1127.4,242.1 L1127.6,242.0 L1127.9,242.0 L1128.2,242.0 L1128.7,242.0 L1129.0,242.0 L1129.3,242.0 L1129.5,242.0 L1129.8,242.0 L1130.1,242.0 L1130.4,242.0 L1130.6,242.0 L1130.9,241.9 L1131.5,241.9 L1131.7,241.9 L1132.0,241.9 L1132.3,241.9 L1132.6,241.9 L1132.8,241.9 L1133.1,241.9 L1133.4,241.9 L1133.7,241.9 L1133.9,241.8 L1134.2,241.8 L1134.7,241.8 L1135.0,241.8 L1135.3,241.8 L1135.6,241.8 L1135.8,241.8 L1136.4,241.8 L1136.7,241.8 L1136.9,241.8 L1137.2,241.7 L1137.5,241.7 L1138.0,241.7 L1138.3,241.7 L1138.6,241.7 L1139.1,241.7 L1139.4,241.7 L1139.7,241.7 L1140.2,241.7 L1140.5,241.6 L1140.8,241.6 L1141.0,241.6 L1141.3,241.6 L1141.9,241.6 L1142.1,241.6 L1142.4,241.6 L1142.7,241.6 L1143.0,241.6 L1143.2,241.6 L1143.5,241.6 L1143.8,241.5 L1144.1,241.5 L1144.3,241.5 L1144.6,241.5 L1144.9,241.5 L1145.2,241.5 L1145.4,241.5 L1145.7,241.5 L1146.3,241.5 L1146.5,241.5 L1146.8,241.5 L1147.3,241.4 L1147.6,241.4 L1147.9,241.4 L1148.4,241.4 L1148.7,241.4 L1149.0,241.4 L1149.5,241.4 L1149.8,241.4 L1150.1,241.4 L1150.6,241.3 L1150.9,241.3 L1151.2,241.3 L1151.5,241.3 L1151.7,241.3 L1152.0,241.3 L1152.3,241.3 L1152.6,241.3 L1152.8,241.3 L1153.4,241.3 L1153.9,241.3 L1154.2,241.3 L1154.5,241.2 L1154.7,241.2 L1155.0,241.2 L1155.3,241.2 L1155.6,241.2 L1155.8,241.2 L1156.1,241.2 L1156.4,241.2 L1156.7,241.2 L1156.9,241.2 L1157.2,241.2 L1157.5,241.2 L1157.8,241.2 L1158.3,241.1 L1158.6,241.1 L1158.9,241.1 L1159.4,241.1 L1159.7,241.1 L1160.0,241.1 L1160.2,241.1 L1160.5,241.1 L1160.8,241.1 L1161.0,241.1 L1161.3,241.1 L1161.6,241.1 L1162.1,241.0 L1162.4,241.0 L1162.7,241.0 L1163.0,241.0 L1163.2,241.0 L1163.5,241.0 L1163.8,241.0 L1164.3,241.0 L1164.9,241.0 L1165.2,241.0 L1165.4,241.0 L1165.7,241.0 L1166.0,240.9 L1166.3,240.9 L1166.5,240.9 L1166.8,240.9 L1167.1,240.9 L1167.3,240.9 L1167.6,240.9 L1167.9,240.9 L1168.2,240.9 L1168.4,240.9 L1168.7,240.9 L1169.0,240.9 L1169.3,240.9 L1169.5,240.9 L1169.8,240.9 L1170.1,240.8 L1170.4,240.8 L1170.9,240.8 L1171.2,240.8 L1171.5,240.8 L1171.7,240.8 L1172.0,240.8 L1172.6,240.8 L1172.8,240.8 L1173.1,240.8 L1173.4,240.8 L1173.7,240.8 L1173.9,240.8 L1174.2,240.7 L1174.5,240.7 L1174.7,240.7 L1175.0,240.7 L1175.3,240.7 L1175.6,240.7 L1175.8,240.7 L1176.1,240.7 L1176.4,240.7 L1176.7,240.7 L1176.9,240.7 L1177.2,240.7 L1177.5,240.7 L1177.8,240.7 L1178.0,240.7 L1178.3,240.7 L1178.6,240.6 L1179.1,240.6 L1179.7,240.6 L1180.0,240.6 L1180.2,240.6 L1180.5,240.6 L1180.8,240.6 L1181.1,240.6 L1181.3,240.6 L1181.6,240.6 L1181.9,240.6 L1182.1,240.6 L1182.4,240.6 L1182.7,240.6 L1183.0,240.6 L1183.2,240.5 L1183.5,240.5 L1183.8,240.5 L1184.1,240.5 L1184.3,240.5 L1184.6,240.5 L1184.9,240.5 L1185.2,240.5 L1185.4,240.5 L1185.7,240.5 L1186.0,240.5 L1186.3,240.5 L1186.5,240.5 L1186.8,240.5 L1187.1,240.5 L1187.4,240.5 L1187.6,240.5 L1187.9,240.5 L1188.2,240.4 L1188.5,240.4 L1189.0,240.4 L1189.3,240.4 L1189.5,240.4 L1189.8,240.4 L1190.1,240.4 L1190.6,240.4 L1190.9,240.4 L1191.2,240.4 L1191.5,240.4 L1191.7,240.4 L1192.0,240.4 L1192.3,240.4 L1192.6,240.4 L1192.8,240.4 L1193.1,240.3 L1193.4,240.3 L1193.9,240.3 L1194.2,240.3 L1194.5,240.3 L1194.8,240.3 L1195.0,240.3 L1195.6,240.3 L1196.1,240.3 L1196.4,240.3 L1196.7,240.3 L1196.9,240.3 L1197.2,240.3 L1197.5,240.3 L1197.8,240.3 L1198.0,240.3 L1198.3,240.3 L1198.9,240.2 L1199.1,240.2 L1199.4,240.2 L1200.0,240.2 L1200.2,240.2 L1200.5,240.2 L1201.1,240.2 L1201.3,240.2 L1201.6,240.2 L1202.2,240.2 L1202.7,240.2 L1203.0,240.2 L1203.3,240.2 L1203.5,240.2 L1203.8,240.2 L1204.1,240.1 L1204.3,240.1 L1204.9,240.1 L1205.2,240.1 L1205.4,240.1 L1205.7,240.1 L1206.0,240.1 L1206.5,240.1 L1207.1,240.1 L1207.6,240.1 L1207.9,240.1 L1208.2,240.1 L1208.5,240.1 L1208.7,240.1 L1209.0,240.1 L1209.3,240.1 L1209.8,240.1 L1210.4,240.0 L1210.7,240.0 L1210.9,240.0 L1211.5,240.0 L1211.8,240.0 L1212.0,240.0 L1212.3,240.0 L1212.6,240.0 L1212.8,240.0 L1213.1,240.0 L1213.7,240.0 L1213.9,240.0 L1214.2,240.0 L1214.8,240.0 L1215.0,240.0 L1215.3,240.0 L1215.6,240.0 L1215.9,240.0 L1216.1,240.0 L1216.4,240.0 L1216.7,239.9 L1217.0,239.9 L1217.2,239.9 L1217.5,239.9 L1217.8,239.9 L1218.1,239.9 L1218.3,239.9 L1218.6,239.9 L1218.9,239.9 L1219.2,239.9 L1219.4,239.9 L1219.7,239.9 L1220.0,239.9 L1220.2,239.9 L1220.8,239.9 L1221.1,239.9 L1221.3,239.9 L1221.9,239.9 L1222.4,239.9 L1223.0,239.9 L1223.3,239.9 L1223.5,239.9 L1223.8,239.8 L1224.1,239.8 L1224.6,239.8 L1224.9,239.8 L1225.2,239.8 L1225.5,239.8 L1225.7,239.8 L1226.0,239.8 L1226.3,239.8 L1226.8,239.8 L1227.4,239.8 L1227.7,239.8 L1227.9,239.8 L1228.5,239.8 L1228.7,239.8 L1229.0,239.8 L1229.3,239.8 L1229.6,239.8 L1229.8,239.8 L1230.1,239.8 L1230.4,239.8 L1230.7,239.8 L1230.9,239.8 L1231.2,239.8 L1231.5,239.7 L1231.8,239.7 L1232.0,239.7 L1232.3,239.7 L1232.9,239.7 L1233.1,239.7 L1233.4,239.7 L1234.0,239.7 L1234.2,239.7 L1234.5,239.7 L1234.8,239.7 L1235.1,239.7 L1235.3,239.7 L1235.6,239.7 L1235.9,239.7 L1236.2,239.7 L1236.4,239.7 L1236.7,239.7 L1237.0,239.7 L1237.2,239.7 L1237.8,239.7 L1238.1,239.7 L1238.3,239.7 L1238.6,239.7 L1238.9,239.7 L1239.2,239.7 L1239.4,239.7 L1239.7,239.7 L1240.0,239.7 L1240.3,239.7 L1240.5,239.6 L1240.8,239.6 L1241.1,239.6 L1241.4,239.6 L1241.6,239.6 L1241.9,239.6 L1242.2,239.6 L1242.7,239.6 L1243.3,239.6 L1243.8,239.6 L1244.1,239.6 L1244.4,239.6 L1244.9,239.6 L1245.2,239.6 L1245.5,239.6 L1246.0,239.6 L1246.3,239.6 L1246.6,239.6 L1246.8,239.6 L1247.1,239.6 L1247.7,239.6 L1247.9,239.6 L1248.2,239.6 L1248.5,239.6 L1248.8,239.6 L1249.0,239.6 L1249.3,239.6 L1249.6,239.6 L1249.9,239.6 L1250.1,239.6 L1250.4,239.6 L1250.7,239.6 L1251.0,239.6 L1251.2,239.5 L1251.5,239.5 L1252.1,239.5 L1252.3,239.5 L1252.6,239.5 L1252.9,239.5 L1253.2,239.5 L1253.7,239.5 L1254.3,239.5 L1254.8,239.5 L1255.1,239.5 L1255.3,239.5 L1255.6,239.5 L1255.9,239.5 L1256.2,239.5 L1256.4,239.5 L1257.0,239.5 L1257.3,239.5 L1257.5,239.5 L1257.8,239.5 L1258.1,239.5 L1258.4,239.5 L1258.6,239.5 L1258.9,239.5 L1259.2,239.5 L1259.5,239.5 L1259.7,239.5 L1260.3,239.5 L1260.6,239.5 L1260.8,239.5 L1261.1,239.5 L1261.4,239.5 L1261.7,239.5 L1261.9,239.5 L1262.2,239.5 L1262.5,239.5 L1262.8,239.5 L1263.0,239.5 L1263.3,239.5 L1263.6,239.5 L1264.1,239.5 L1264.4,239.5 L1264.7,239.4 L1264.9,239.4 L1265.2,239.4 L1265.5,239.4 L1265.8,239.4 L1266.0,239.4 L1266.3,239.4 L1266.6,239.4 L1266.9,239.4 L1267.1,239.4 L1267.4,239.4 L1267.7,239.4 L1268.0,239.4 L1268.2,239.4 L1268.5,239.4 L1268.8,239.4 L1269.1,239.4 L1269.3,239.4 L1269.6,239.4 L1269.9,239.4 L1270.2,239.4 L1270.4,239.4 L1270.7,239.4 L1271.0,239.4 L1271.3,239.4 L1271.5,239.4 L1271.8,239.4 L1272.1,239.4 L1272.4,239.4 L1272.6,239.4 L1272.9,239.4 L1273.5,239.4 L1273.7,239.4 L1274.0,239.4 L1274.3,239.4 L1274.5,239.4 L1274.8,239.4 L1275.1,239.4 L1275.6,239.4 L1275.9,239.4 L1276.2,239.4 L1276.5,239.4 L1276.7,239.4 L1277.3,239.4 L1277.6,239.4 L1277.8,239.4 L1278.4,239.4 L1278.7,239.4 L1278.9,239.4 L1279.2,239.4 L1279.5,239.4 L1280.0,239.4 L1280.3,239.4 L1280.6,239.4 L1281.1,239.4 L1281.7,239.4 L1282.2,239.4 L1282.5,239.4 L1282.8,239.4 L1283.1,239.4 L1283.3,239.4 L1283.6,239.4 L1283.9,239.4 L1284.4,239.4 L1285.0,239.4 L1285.5,239.4 L1286.1,239.4 L1286.6,239.4 L1286.9,239.4 L1287.2,239.4 L1287.4,239.4 L1287.7,239.4 L1288.0,239.4 L1288.3,239.4 L1288.5,239.4 L1288.8,239.4 L1289.1,239.4 L1289.4,239.4 L1289.9,239.3 L1290.5,239.3 L1291.0,239.3 L1291.3,239.3 L1291.6,239.3 L1291.8,239.3 L1292.1,239.3 L1292.4,239.3 L1292.7,239.3 L1292.9,239.3 L1293.2,239.3 L1293.5,239.3 L1293.7,239.3 L1294.0,239.3 L1294.3,239.3 L1294.6,239.3 L1294.8,239.3 L1295.1,239.3 L1295.4,239.3 L1295.7,239.3 L1295.9,239.3 L1296.2,239.3 L1296.5,239.3 L1296.8,239.3 L1297.0,239.3 L1297.3,239.3 L1297.6,239.3 L1297.9,239.3 L1298.1,239.3 L1298.4,239.3 L1298.7,239.3 L1299.0,239.3 L1299.2,239.3 L1299.5,239.3 L1299.8,239.3 L1300.1,239.3 L1300.3,239.3 L1300.6,239.3 L1300.9,239.3 L1301.2,239.3 L1301.4,239.3 L1302.0,239.3 L1302.3,239.3 L1302.5,239.3 L1303.1,239.3 L1303.4,239.3 L1303.6,239.3 L1303.9,239.3 L1304.2,239.3 L1304.4,239.3 L1304.7,239.3 L1305.0,239.3 L1305.3,239.3 L1305.5,239.3 L1305.8,239.3 L1306.1,239.3 L1306.4,239.3 L1306.6,239.3 L1306.9,239.3 L1307.2,239.3 L1307.5,239.3 L1307.7,239.3 L1308.0,239.3 L1308.3,239.3 L1308.6,239.3 L1308.8,239.3 L1309.1,239.3 L1309.7,239.3 L1309.9,239.3 L1310.2,239.3 L1310.5,239.3 L1310.8,239.3 L1311.0,239.3 L1311.3,239.3 L1311.6,239.3 L1311.9,239.3 L1312.4,239.3 L1312.7,239.3 L1313.0,239.3 L1313.5,239.3 L1313.8,239.3 L1314.1,239.3 L1314.6,239.4 L1314.9,239.4 L1315.1,239.4 L1315.7,239.4 L1316.0,239.4 L1316.2,239.4 L1316.5,239.4 L1316.8,239.4 L1317.3,239.4 L1317.6,239.4 L1317.9,239.4 L1318.2,239.4 L1318.4,239.4 L1318.7,239.4 L1319.0,239.4 L1319.3,239.4 L1319.5,239.4 L1320.1,239.4 L1320.6,239.4 L1321.2,239.4 L1321.7,239.4 L1322.0,239.4 L1322.3,239.4 L1322.6,239.4 L1322.8,239.4 L1323.1,239.4 L1323.4,239.4 L1323.7,239.4 L1323.9,239.4 L1324.2,239.4 L1324.5,239.4 L1324.8,239.4 L1325.0,239.4 L1325.3,239.4 L1325.6,239.4 L1326.1,239.4 L1326.4,239.4 L1326.7,239.4 L1326.9,239.4 L1327.2,239.4 L1327.5,239.4 L1327.8,239.4 L1328.0,239.4 L1328.3,239.4 L1328.9,239.4 L1329.1,239.4 L1329.4,239.4 L1330.0,239.4 L1330.2,239.4 L1330.5,239.4 L1331.1,239.4 L1331.3,239.4 L1331.6,239.4 L1331.9,239.4 L1332.2,239.4 L1332.4,239.4 L1332.7,239.4 L1333.0,239.4 L1333.3,239.4 L1333.5,239.4 L1333.8,239.4 L1334.1,239.4 L1334.4,239.4 L1334.6,239.4 L1334.9,239.4 L1335.2,239.4 L1335.5,239.4 L1335.7,239.4 L1336.0,239.4 L1336.3,239.4 L1336.6,239.4 L1336.8,239.4 L1337.1,239.4 L1337.4,239.4 L1337.6,239.4 L1338.2,239.4 L1338.5,239.4 L1338.7,239.4 L1339.3,239.4 L1339.6,239.4 L1339.8,239.4 L1340.4,239.5 L1340.9,239.5 L1341.5,239.5 L1342.0,239.5 L1342.3,239.5 L1342.6,239.5 L1342.9,239.5 L1343.1,239.5 L1343.7,239.5 L1344.0,239.5 L1344.2,239.5 L1344.8,239.5 L1345.1,239.5 L1345.3,239.5 L1345.9,239.5 L1346.2,239.5 L1346.4,239.5 L1346.7,239.5 L1347.0,239.5 L1347.3,239.5 L1347.5,239.5 L1347.8,239.5 L1348.1,239.5 L1348.3,239.5 L1348.6,239.5 L1348.9,239.5 L1349.2,239.5 L1349.4,239.5 L1349.7,239.5 L1350.0,239.5 L1350.3,239.5 L1350.5,239.5 L1350.8,239.5 L1351.4,239.5 L1351.9,239.5 L1352.2,239.5 L1352.5,239.5 L1352.7,239.5 L1353.0,239.5 L1353.3,239.5 L1353.6,239.5 L1353.8,239.5 L1354.1,239.5 L1354.4,239.5 L1354.7,239.6 L1354.9,239.6 L1355.2,239.6 L1355.8,239.6 L1356.3,239.6 L1356.9,239.6 L1357.4,239.6 L1358.0,239.6 L1358.5,239.6 L1359.1,239.6 L1359.3,239.6 L1359.6,239.6 L1359.9,239.6 L1360.1,239.6 L1360.4,239.6 L1360.7,239.6 L1361.2,239.6 L1361.5,239.6 L1361.8,239.6 L1362.1,239.6 L1362.3,239.6 L1362.9,239.6 L1363.2,239.6 L1363.4,239.6 L1364.0,239.6 L1364.3,239.6 L1364.5,239.6 L1364.8,239.6 L1365.1,239.6 L1365.4,239.6 L1365.6,239.6 L1365.9,239.6 L1366.2,239.7 L1366.7,239.7 L1367.0,239.7 L1367.3,239.7 L1367.8,239.7 L1368.1,239.7 L1368.4,239.7 L1368.7,239.7 L1368.9,239.7 L1369.5,239.7 L1369.8,239.7 L1370.0,239.7 L1370.6,239.7 L1370.9,239.7 L1371.1,239.7 L1371.7,239.7 L1372.0,239.7 L1372.2,239.7 L1372.8,239.7 L1373.0,239.7 L1373.3,239.7 L1373.6,239.7 L1373.9,239.7 L1374.4,239.7 L1374.7,239.7 L1375.0,239.7 L1375.2,239.7 L1375.5,239.7 L1376.1,239.8 L1376.6,239.8 L1377.2,239.8 L1377.7,239.8 L1378.0,239.8 L1378.3,239.8 L1378.5,239.8 L1378.8,239.8 L1379.1,239.8 L1379.4,239.8 L1379.6,239.8 L1379.9,239.8 L1380.5,239.8 L1380.7,239.8 L1381.0,239.8 L1381.3,239.8 L1381.6,239.8 L1381.8,239.8 L1382.1,239.8 L1382.4,239.8 L1382.7,239.8 L1383.2,239.8 L1383.5,239.8 L1383.8,239.8 L1384.3,239.8 L1384.6,239.8 L1384.8,239.9 L1385.4,239.9 L1385.7,239.9 L1385.9,239.9 L1386.5,239.9 L1386.8,239.9 L1387.0,239.9 L1387.3,239.9 L1387.6,239.9 L1387.9,239.9 L1388.1,239.9 L1388.4,239.9 L1388.7,239.9 L1389.2,239.9 L1389.8,239.9 L1390.1,239.9 L1390.3,239.9 L1390.6,239.9 L1390.9,239.9 L1391.4,239.9 L1391.7,239.9 L1392.0,239.9 L1392.5,239.9 L1392.8,240.0 L1393.1,240.0 L1393.6,240.0 L1394.2,240.0 L1394.7,240.0 L1395.3,240.0 L1395.6,240.0 L1395.8,240.0 L1396.1,240.0 L1396.4,240.0 L1396.9,240.0 L1397.5,240.0 L1398.0,240.0 L1398.3,240.0 L1398.6,240.0 L1398.8,240.0 L1399.1,240.0 L1399.7,240.0 L1400.2,240.1 L1400.8,240.1 L1401.3,240.1 L1401.9,240.1 L1402.4,240.1 L1402.7,240.1 L1403.0,240.1 L1403.5,240.1 L1403.8,240.1 L1404.1,240.1 L1404.6,240.1 L1405.2,240.1 L1405.7,240.1 L1406.0,240.1 L1406.3,240.1 L1406.5,240.1 L1406.8,240.1 L1407.1,240.2 L1407.4,240.2 L1407.9,240.2 L1408.2,240.2 L1408.5,240.2 L1408.7,240.2 L1409.0,240.2 L1409.3,240.2 L1409.6,240.2 L1409.8,240.2 L1410.1,240.2 L1410.6,240.2 L1411.2,240.2 L1411.7,240.2 L1412.3,240.2 L1412.8,240.2 L1413.1,240.2 L1413.4,240.2 L1413.7,240.3 L1413.9,240.3 L1414.5,240.3 L1414.8,240.3 L1415.0,240.3 L1415.3,240.3 L1415.6,240.3 L1415.9,240.3 L1416.1,240.3 L1416.4,240.3 L1416.7,240.3 L1417.2,240.3 L1417.5,240.3 L1417.8,240.3 L1418.1,240.3 L1418.3,240.3 L1418.6,240.3 L1418.9,240.3 L1419.2,240.3 L1419.4,240.3 L1419.7,240.3 L1420.0,240.4 L1420.3,240.4 L1420.5,240.4 L1421.1,240.4 L1421.6,240.4 L1421.9,240.4 L1422.2,240.4 L1422.5,240.4 L1422.7,240.4 L1423.0,240.4 L1423.3,240.4 L1423.5,240.4 L1423.8,240.4 L1424.4,240.4 L1424.9,240.4 L1425.2,240.4 L1425.5,240.4 L1425.7,240.4 L1426.0,240.5 L1426.6,240.5 L1427.1,240.5 L1427.7,240.5 L1427.9,240.5 L1428.2,240.5 L1428.8,240.5 L1429.3,240.5 L1429.6,240.5 L1429.9,240.5 L1430.4,240.5 L1431.0,240.5 L1431.2,240.5 L1431.5,240.5 L1431.8,240.6 L1432.1,240.6 L1432.6,240.6 L1432.9,240.6 L1433.2,240.6 L1433.7,240.6 L1434.0,240.6 L1434.3,240.6 L1434.8,240.6 L1435.4,240.6 L1435.6,240.6 L1435.9,240.6 L1436.2,240.6 L1436.5,240.6 L1436.7,240.6 L1437.0,240.6 L1437.3,240.7 L1437.5,240.7 L1437.8,240.7 L1438.1,240.7 L1438.6,240.7 L1438.9,240.7 L1439.2,240.7 L1439.5,240.7 L1439.7,240.7 L1440.0,240.7 L1440.3,240.7 L1440.6,240.7 L1440.8,240.7 L1441.1,240.7 L1441.4,240.7 L1441.9,240.7 L1442.2,240.7 L1442.5,240.8 L1443.0,240.8 L1443.6,240.8 L1444.1,240.8 L1444.4,240.8 L1444.7,240.8 L1445.2,240.8 L1445.5,240.8 L1445.8,240.8 L1446.3,240.8 L1446.9,240.8 L1447.4,240.8 L1448.0,240.9 L1448.5,240.9 L1449.1,240.9 L1449.4,240.9 L1449.6,240.9 L1449.9,240.9 L1450.2,240.9 L1450.4,240.9 L1450.7,240.9 L1451.0,240.9 L1451.3,240.9 L1451.8,240.9 L1452.1,240.9 L1452.4,240.9 L1452.6,240.9 L1452.9,241.0 L1453.2,241.0 L1453.5,241.0 L1453.7,241.0 L1454.0,241.0 L1454.6,241.0 L1455.1,241.0 L1455.4,241.0 L1455.7,241.0 L1455.9,241.0 L1456.2,241.0 L1456.8,241.0 L1457.0,241.0 L1457.3,241.0 L1457.6,241.0 L1457.9,241.1 L1458.4,241.1 L1458.7,241.1 L1459.0,241.1 L1459.2,241.1 L1459.5,241.1 L1459.8,241.1 L1460.1,241.1 L1460.3,241.1 L1460.6,241.1 L1461.2,241.1 L1461.4,241.1 L1461.7,241.1 L1462.0,241.1 L1462.3,241.1 L1462.5,241.2 L1462.8,241.2 L1463.1,241.2 L1463.4,241.2 L1463.9,241.2 L1464.2,241.2 L1464.4,241.2 L1464.7,241.2 L1465.0,241.2 L1465.3,241.2 L1465.5,241.2 L1465.8,241.2 L1466.1,241.2 L1466.4,241.2 L1466.6,241.2 L1466.9,241.2 L1467.2,241.3 L1467.7,241.3 L1468.3,241.3 L1468.6,241.3 L1468.8,241.3 L1469.1,241.3 L1469.4,241.3 L1469.9,241.3 L1470.5,241.3 L1471.0,241.3 L1471.3,241.3 L1471.6,241.3 L1471.9,241.4 L1472.1,241.4 L1472.7,241.4 L1473.0,241.4 L1473.2,241.4 L1473.5,241.4 L1473.8,241.4 L1474.1,241.4 L1474.3,241.4 L1474.6,241.4 L1474.9,241.4 L1475.2,241.4 L1475.4,241.4 L1475.7,241.4 L1476.0,241.4 L1476.5,241.5 L1476.8,241.5 L1477.1,241.5 L1477.6,241.5 L1478.2,241.5 L1478.7,241.5 L1479.3,241.5 L1479.5,241.5 L1479.8,241.5 L1480.1,241.5 L1480.4,241.5 L1480.9,241.6 L1481.5,241.6 L1481.7,241.6 L1482.0,241.6 L1482.6,241.6 L1483.1,241.6 L1483.4,241.6 L1483.7,241.6 L1484.2,241.6 L1484.5,241.6 L1484.8,241.6 L1485.0,241.7 L1485.3,241.7 L1485.9,241.7 L1486.4,241.7 L1486.7,241.7 L1487.0,241.7 L1487.2,241.7 L1487.5,241.7 L1488.1,241.7 L1488.3,241.7 L1488.6,241.7 L1489.2,241.7 L1489.4,241.8 L1489.7,241.8 L1490.0,241.8 L1490.3,241.8 L1490.5,241.8 L1490.8,241.8 L1491.3,241.8 L1491.6,241.8 L1491.9,241.8 L1492.2,241.8 L1492.4,241.8 L1493.0,241.8 L1493.5,241.9 L1494.1,241.9 L1494.6,241.9 L1495.2,241.9 L1495.5,241.9 L1495.7,241.9 L1496.0,241.9 L1496.3,241.9 L1496.8,241.9 L1497.4,241.9 L1497.7,242.0 L1497.9,242.0 L1498.5,242.0 L1498.8,242.0 L1499.0,242.0 L1499.3,242.0 L1499.6,242.0 L1499.9,242.0 L1500.1,242.0 L1500.4,242.0 L1500.7,242.0 L1501.0,242.0 L1501.2,242.0 L1501.5,242.1 L1501.8,242.1 L1502.1,242.1 L1502.3,242.1 L1502.6,242.1 L1502.9,242.1 L1503.4,242.1 L1504.0,242.1 L1504.5,242.1 L1504.8,242.1 L1505.1,242.1 L1505.6,242.2 L1505.9,242.2 L1506.2,242.2 L1506.4,242.2 L1506.7,242.2 L1507.0,242.2 L1507.3,242.2 L1507.8,242.2 L1508.4,242.2 L1508.6,242.2 L1508.9,242.2 L1509.2,242.2 L1509.5,242.3 L1510.0,242.3 L1510.6,242.3 L1510.8,242.3 L1511.1,242.3 L1511.4,242.3 L1511.7,242.3 L1511.9,242.3 L1512.2,242.3 L1512.5,242.3 L1512.8,242.3 L1513.3,242.4 L1513.6,242.4 L1513.9,242.4 L1514.1,242.4 L1514.4,242.4 L1514.7,242.4 L1515.0,242.4 L1515.5,242.4 L1515.8,242.4 L1516.1,242.4 L1516.3,242.4 L1516.6,242.4 L1516.9,242.4 L1517.2,242.5 L1517.7,242.5 L1518.3,242.5 L1518.5,242.5 L1518.8,242.5 L1519.1,242.5 L1519.3,242.5 L1519.6,242.5 L1519.9,242.5 L1520.2,242.5 L1520.4,242.5 L1520.7,242.5 L1521.0,242.6 L1521.3,242.6 L1521.5,242.6 L1521.8,242.6 L1522.1,242.6 L1522.6,242.6 L1522.9,242.6 L1523.2,242.6 L1523.5,242.6 L1523.7,242.6 L1524.3,242.6 L1524.6,242.6 L1524.8,242.7 L1525.1,242.7 L1525.4,242.7 L1525.7,242.7 L1525.9,242.7 L1526.2,242.7 L1526.5,242.7 L1526.8,242.7 L1527.0,242.7 L1527.3,242.7 L1527.6,242.7 L1527.9,242.7 L1528.1,242.7 L1528.4,242.8 L1528.7,242.8 L1529.0,242.8 L1529.2,242.8 L1529.5,242.8 L1529.8,242.8 L1530.1,242.8 L1530.3,242.8 L1530.6,242.8 L1530.9,242.8 L1531.2,242.8 L1531.4,242.8 L1532.0,242.8 L1532.2,242.9 L1532.5,242.9 L1532.8,242.9 L1533.1,242.9 L1533.6,242.9 L1533.9,242.9 L1534.2,242.9 L1534.4,242.9 L1534.7,242.9 L1535.0,242.9 L1535.3,242.9 L1535.5,242.9 L1535.8,243.0 L1536.4,243.0 L1536.6,243.0 L1536.9,243.0 L1537.2,243.0 L1537.5,243.0 L1538.0,243.0 L1538.3,243.0 L1538.6,243.0 L1538.8,243.0 L1539.1,243.0 L1539.4,243.1 L1539.7,243.1 L1540.2,243.1 L1540.5,243.1 L1540.8,243.1 L1541.0,243.1 L1541.3,243.1 L1541.6,243.1 L1541.9,243.1 L1542.1,243.1 L1542.4,243.1 L1542.7,243.1 L1543.0,243.2 L1543.2,243.2 L1543.5,243.2 L1543.8,243.2 L1544.1,243.2 L1544.6,243.2 L1545.1,243.2 L1545.7,243.2 L1546.0,243.2 L1546.2,243.2 L1546.5,243.3 L1546.8,243.3 L1547.1,243.3 L1547.3,243.3 L1547.6,243.3 L1547.9,243.3 L1548.2,243.3 L1548.4,243.3 L1548.7,243.3 L1549.0,243.3 L1549.3,243.3 L1549.5,243.3 L1549.8,243.4 L1550.1,243.4 L1550.4,243.4 L1550.6,243.4 L1550.9,243.4 L1551.2,243.4 L1551.5,243.4 L1551.7,243.4 L1552.0,243.4 L1552.3,243.4 L1552.6,243.4 L1552.8,243.4 L1553.1,243.4 L1553.4,243.5 L1553.7,243.5 L1553.9,243.5 L1554.5,243.5 L1554.8,243.5 L1555.0,243.5 L1555.6,243.5 L1556.1,243.5 L1556.4,243.5 L1556.7,243.6 L1557.2,243.6 L1557.5,243.6 L1557.8,243.6 L1558.1,243.6 L1558.3,243.6 L1558.9,243.6 L1559.1,243.6 L1559.4,243.6 L1559.7,243.6 L1560.0,243.6 L1560.2,243.7 L1560.5,243.7 L1560.8,243.7 L1561.1,243.7 L1561.3,243.7 L1561.6,243.7 L1561.9,243.7 L1562.2,243.7 L1562.4,243.7 L1562.7,243.7 L1563.0,243.7 L1563.3,243.7 L1563.5,243.8 L1563.8,243.8 L1564.1,243.8 L1564.4,243.8 L1564.6,243.8 L1564.9,243.8 L1565.5,243.8 L1565.7,243.8 L1566.0,243.8 L1566.6,243.8 L1567.1,243.9 L1567.4,243.9 L1567.7,243.9 L1567.9,243.9 L1568.2,243.9 L1568.5,243.9 L1568.8,243.9 L1569.3,243.9 L1569.9,243.9 L1570.4,244.0 L1570.9,244.0 L1571.2,244.0 L1571.5,244.0 L1571.8,244.0 L1572.0,244.0 L1572.3,244.0 L1572.6,244.0 L1572.9,244.0 L1573.1,244.0 L1573.7,244.1 L1574.0,244.1 L1574.2,244.1 L1574.5,244.1 L1574.8,244.1 L1575.1,244.1 L1575.3,244.1 L1575.9,244.1 L1576.4,244.1 L1577.0,244.2 L1577.3,244.2 L1577.5,244.2 L1577.8,244.2 L1578.1,244.2 L1578.4,244.2 L1578.6,244.2 L1578.9,244.2 L1579.2,244.2 L1579.5,244.2 L1579.7,244.2 L1580.0,244.3 L1580.3,244.3 L1580.6,244.3 L1580.8,244.3 L1581.4,244.3 L1581.7,244.3 L1581.9,244.3 L1582.2,244.3 L1582.5,244.3 L1582.8,244.3 L1583.0,244.4 L1583.3,244.4 L1583.6,244.4 L1583.8,244.4 L1584.1,244.4 L1584.4,244.4 L1584.7,244.4 L1584.9,244.4 L1585.2,244.4 L1585.5,244.4 L1585.8,244.4 L1586.0,244.4 L1586.3,244.5 L1586.6,244.5 L1586.9,244.5 L1587.1,244.5 L1587.4,244.5 L1587.7,244.5 L1588.0,244.5 L1588.2,244.5 L1588.5,244.5 L1588.8,244.5 L1589.1,244.5 L1589.3,244.5 L1589.6,244.6 L1590.2,244.6 L1590.4,244.6 L1590.7,244.6 L1591.0,244.6 L1591.3,244.6 L1591.5,244.6 L1591.8,244.6 L1592.4,244.6 L1592.9,244.7 L1593.5,244.7 L1594.0,244.7 L1594.3,244.7 L1594.6,244.7 L1594.8,244.7 L1595.1,244.7 L1595.4,244.7 L1595.6,244.7 L1595.9,244.8 L1596.2,244.8 L1596.5,244.8 L1596.7,244.8 L1597.3,244.8 L1597.6,244.8 L1597.8,244.8 L1598.4,244.8 L1598.7,244.8 L1598.9,244.9 L1599.2,244.9 L1599.5,244.9 L1599.8,244.9 L1600.0,244.9 L1600.3,244.9 L1600.6,244.9 L1600.9,244.9 L1601.1,244.9 L1601.4,244.9 L1601.7,244.9 L1602.0,245.0 L1602.2,245.0 L1602.5,245.0 L1602.8,245.0 L1603.1,245.0 L1603.3,245.0 L1603.6,245.0 L1603.9,245.0 L1604.2,245.0 L1604.4,245.0 L1605.0,245.0 L1605.5,245.1 L1605.8,245.1 L1606.1,245.1 L1606.6,245.1 L1606.9,245.1 L1607.2,245.1 L1607.5,245.1 L1607.7,245.1 L1608.0,245.1 L1608.3,245.2 L1608.5,245.2 L1608.8,245.2 L1609.1,245.2 L1609.4,245.2 L1609.6,245.2 L1609.9,245.2 L1610.2,245.2 L1610.5,245.2 L1610.7,245.2 L1611.0,245.2 L1611.6,245.3 L1611.8,245.3 L1612.1,245.3 L1612.4,245.3 L1612.7,245.3 L1612.9,245.3 L1613.2,245.3 L1613.5,245.3 L1613.8,245.3 L1614.0,245.3 L1614.3,245.4 L1614.9,245.4 L1615.1,245.4 L1615.4,245.4 L1615.7,245.4 L1616.0,245.4 L1616.2,245.4 L1616.5,245.4 L1616.8,245.4 L1617.1,245.4 L1617.3,245.5 L1617.6,245.5 L1617.9,245.5 L1618.2,245.5 L1618.4,245.5 L1618.7,245.5 L1619.0,245.5 L1619.2,245.5 L1619.5,245.5 L1619.8,245.5 L1620.1,245.5 L1620.3,245.6 L1620.6,245.6 L1620.9,245.6 L1621.2,245.6 L1621.4,245.6 L1622.0,245.6 L1622.3,245.6 L1622.5,245.6 L1622.8,245.6 L1623.1,245.6 L1623.4,245.7 L1623.6,245.7 L1623.9,245.7 L1624.2,245.7 L1624.5,245.7 L1624.7,245.7 L1625.3,245.7 L1625.8,245.7 L1626.4,245.8 L1626.7,245.8 L1626.9,245.8 L1627.2,245.8 L1627.5,245.8 L1628.0,245.8 L1628.6,245.8 L1628.9,245.8 L1629.1,245.8 L1629.7,245.9 L1630.2,245.9 L1630.5,245.9 L1630.8,245.9 L1631.3,245.9 L1631.6,245.9 L1631.9,245.9 L1632.4,246.0 L1632.7,246.0 L1633.0,246.0 L1633.2,246.0 L1633.5,246.0 L1633.8,246.0 L1634.1,246.0 L1634.3,246.0 L1634.6,246.0 L1634.9,246.0 L1635.2,246.1 L1635.4,246.1 L1635.7,246.1 L1636.3,246.1 L1636.5,246.1 L1636.8,246.1 L1637.1,246.1 L1637.4,246.1 L1637.6,246.1 L1637.9,246.1 L1638.2,246.2 L1638.5,246.2 L1638.7,246.2 L1639.0,246.2 L1639.6,246.2 L1640.0,0.0 L-20.0,0.0 Z" fill="#fdf3ea"/>

<path d="M488.1,401.5 A192,192 0 0 0 777.9,373.6 Q782.9,366.2 790.5,371.0 L801.5,378.0 Q809.1,382.8 804.1,390.3 A223,223 0 0 1 465.6,422.9 Q459.2,416.5 465.8,410.3 L475.2,401.4 Q481.7,395.2 488.1,401.5 Z" fill="#c9c9c9" stroke="#8a8a8a" stroke-width="1.5"/>
<path d="M-21.1,468.8 L-17.7,471.7 L-15.5,475.0 M-23.4,470.1 L-21.2,474.1 L-19.2,477.5 M-11.3,463.2 L-8.5,466.6 L-6.4,470.0 M-13.6,464.5 L-12.0,468.7 L-10.1,472.2 M-1.5,457.6 L1.6,460.8 L3.7,464.2 M-3.8,458.9 L-1.8,462.9 L0.2,466.4 M8.4,452.2 L11.5,455.3 L13.6,458.6 M6.2,453.4 L7.8,457.6 L9.7,461.2 M18.4,446.9 L20.8,450.7 L22.7,454.2 M16.1,448.1 L17.1,452.3 L18.7,455.9 M28.4,441.6 L31.1,445.3 L32.9,448.9 M26.1,442.8 L27.0,447.2 L28.6,450.8 M38.6,436.4 L42.0,439.6 L44.0,443.0 M36.3,437.6 L37.5,442.0 L39.2,445.6 M48.7,431.4 L51.4,435.0 L53.3,438.5 M46.4,432.6 L47.6,436.9 L49.3,440.5 M58.9,426.5 L62.0,429.9 L63.9,433.5 M56.6,427.6 L58.7,431.6 L60.3,435.2 M69.1,421.7 L71.9,425.2 L73.7,428.7 M66.8,422.8 L68.7,426.9 L70.3,430.5 M79.5,416.9 L82.6,420.2 L84.5,423.7 M77.1,418.0 L79.1,422.0 L80.7,425.7 M89.8,412.3 L91.9,416.2 L93.7,419.8 M87.4,413.4 L89.3,417.5 L90.9,421.1 M100.1,407.8 L101.8,411.9 L103.5,415.5 M97.7,408.8 L98.7,413.1 L100.1,416.9 M110.5,403.3 L113.1,407.1 L114.7,410.8 M108.1,404.3 L109.1,408.7 L110.5,412.5 M121.0,398.9 L122.9,403.0 L124.4,406.7 M118.6,399.9 L118.6,404.5 L119.9,408.3 M131.5,394.6 L135.1,397.8 L136.8,401.4 M129.1,395.6 L130.0,400.1 L131.5,403.8 M142.0,390.4 L144.4,394.2 L146.0,397.9 M139.6,391.4 L139.7,396.0 L141.0,399.8 M152.6,386.3 L155.9,389.5 L157.6,393.1 M150.1,387.2 L151.9,391.4 L153.3,395.1 M163.1,382.2 L166.8,385.3 L168.5,388.9 M160.7,383.1 L162.9,387.1 L164.3,390.9 M173.8,378.2 L175.1,382.5 L176.6,386.2 M171.3,379.1 L171.8,383.6 L173.0,387.3 M184.4,374.3 L186.0,378.5 L187.4,382.2 M181.9,375.2 L182.0,379.8 L183.2,383.6 M195.1,370.4 L196.7,374.6 L198.2,378.3 M192.7,371.3 L192.1,376.0 L193.3,379.8 M205.7,366.7 L207.9,370.6 L209.4,374.3 M203.3,367.5 L203.6,372.1 L204.8,375.9 M216.4,363.0 L218.5,366.8 L220.0,370.5 M214.0,363.8 L215.2,368.1 L216.4,371.9 M227.2,359.3 L228.8,363.5 L230.0,367.3 M224.7,360.1 L224.3,364.6 L225.2,368.4 M237.9,355.7 L239.5,359.9 L240.8,363.7 M235.4,356.5 L235.5,361.0 L236.6,364.9 M248.7,352.1 L251.0,355.8 L252.5,359.5 M246.3,352.9 L247.7,357.2 L249.0,361.0 M259.5,348.6 L261.4,352.7 L262.6,356.5 M257.0,349.4 L257.0,353.7 L257.9,357.6 M270.3,345.1 L272.4,349.2 L273.7,353.0 M267.9,345.9 L268.0,350.4 L269.1,354.3 M281.1,341.7 L283.3,345.7 L284.6,349.5 M278.6,342.5 L278.1,347.0 L278.9,350.9 M292.0,338.3 L293.7,342.5 L295.0,346.3 M289.5,339.1 L290.6,343.4 L291.7,347.2 M302.8,335.0 L304.3,339.2 L305.5,343.1 M300.3,335.8 L300.6,340.2 L301.6,344.0 M313.7,331.7 L315.6,335.8 L316.8,339.6 M311.2,332.4 L311.6,336.9 L312.6,340.8 M324.5,328.4 L326.7,332.3 L328.1,336.0 M322.1,329.2 L322.2,333.7 L323.2,337.6 M335.5,325.2 L338.2,328.9 L339.6,332.6 M333.0,325.9 L334.6,330.1 L335.8,334.0 M346.3,322.0 L348.9,325.8 L350.2,329.5 M343.8,322.7 L345.4,326.9 L346.5,330.8 M357.2,318.8 L358.6,323.1 L359.7,326.9 M354.7,319.5 L354.1,324.2 L354.9,328.1 M368.1,315.7 L370.9,319.4 L372.1,323.2 M365.6,316.4 L367.2,320.6 L368.2,324.5 M379.1,312.7 L381.9,316.2 L383.3,319.9 M376.6,313.4 L377.3,317.9 L378.3,321.8 M390.0,309.8 L392.8,313.5 L394.1,317.3 M387.5,310.5 L388.5,314.9 L389.5,318.8 M401.0,307.0 L403.2,310.7 L404.5,314.5 M398.5,307.7 L399.5,312.0 L400.5,315.9 M412.0,304.2 L414.2,308.1 L415.4,311.9 M409.5,304.8 L409.6,309.4 L410.6,313.3 M423.1,301.3 L425.1,305.1 L426.4,308.8 M420.5,302.0 L421.1,306.4 L422.1,310.3 M434.1,298.4 L435.4,302.7 L436.5,306.6 M431.6,299.1 L430.9,303.5 L431.6,307.4 M444.0,297.0 L443.7,301.5 L443.7,305.5 M441.4,297.0 L440.8,301.4 L440.6,305.3 M452.7,299.5 L451.6,304.0 L449.9,307.6 M450.3,298.4 L447.4,301.8 L445.5,305.3 M459.6,305.6 L457.2,309.6 L454.2,312.3 M457.9,303.6 L454.4,306.3 L451.2,308.7 M465.3,314.6 L461.5,317.1 L458.2,319.3 M463.9,312.4 L459.8,314.2 L456.3,316.2 M471.4,324.3 L467.7,326.8 L464.5,329.1 M470.0,322.1 L465.6,323.5 L462.1,325.5 M477.4,333.9 L474.0,336.7 L470.7,339.0 M476.0,331.8 L471.5,332.7 L468.0,334.7 M483.4,343.5 L479.6,345.8 L476.2,347.9 M482.0,341.2 L477.8,342.7 L474.3,344.7 M489.5,353.1 L485.7,355.6 L482.4,357.8 M488.1,350.9 L483.7,352.0 L480.2,353.9 M495.6,362.8 L492.0,365.6 L488.7,367.7 M494.2,360.6 L489.9,362.0 L486.5,364.0 M501.6,372.4 L498.8,376.1 L495.5,378.4 M500.3,370.2 L496.2,372.0 L492.8,374.0 M507.8,382.0 L504.7,385.4 L501.4,387.7 M506.4,379.8 L501.8,380.8 L498.4,382.8 M514.5,391.6 L511.8,395.4 L508.7,397.9 M512.9,389.5 L508.9,391.5 L505.6,393.8 M522.2,400.3 L520.0,404.3 L517.2,407.1 M520.6,398.3 L517.0,401.0 L513.8,403.4 M531.9,408.5 L530.9,413.0 L528.8,416.4 M529.7,407.0 L526.9,410.5 L524.5,413.7 M542.4,414.4 L541.2,418.6 L539.7,422.2 M540.1,413.2 L537.5,417.0 L535.6,420.5 M553.1,419.3 L552.4,423.8 L550.9,427.5 M550.7,418.3 L548.4,422.1 L546.7,425.8 M564.2,423.2 L562.8,427.5 L561.6,431.3 M561.7,422.4 L559.0,425.9 L557.5,429.6 M575.5,426.3 L574.0,430.6 L573.0,434.5 M573.0,425.7 L570.9,429.8 L569.8,433.6 M586.9,428.7 L587.1,433.2 L586.5,437.1 M584.3,428.2 L582.8,432.5 L582.1,436.4 M598.5,430.2 L597.7,434.6 L597.3,438.6 M596.0,429.9 L594.4,434.0 L593.7,437.9 M610.3,430.9 L610.4,435.4 L610.2,439.4 M607.7,430.8 L606.1,435.0 L605.7,438.9 M622.0,430.8 L622.7,435.3 L622.9,439.3 M619.4,431.0 L618.5,435.3 L618.4,439.3 M633.6,430.0 L636.2,433.8 L636.9,437.7 M631.0,430.2 L631.5,434.7 L631.8,438.7 M645.2,428.3 L647.5,432.2 L648.5,436.0 M642.7,428.7 L644.0,433.1 L644.7,437.0 M656.7,425.8 L659.3,429.6 L660.4,433.4 M654.2,426.4 L655.0,430.8 L656.0,434.7 M667.9,422.5 L670.2,426.4 L671.6,430.2 M665.4,423.3 L665.9,427.8 L667.0,431.7 M678.9,418.5 L681.2,422.3 L682.8,426.0 M676.5,419.4 L676.3,424.1 L677.5,427.9 M689.6,413.6 L692.1,417.3 L694.0,420.8 M687.3,414.8 L689.0,418.9 L690.8,422.5 M700.0,408.1 L702.9,411.6 L705.0,414.9 M697.7,409.4 L699.4,413.7 L701.3,417.1 M709.8,402.5 L712.5,405.9 L714.6,409.2 M707.5,403.7 L709.8,407.6 L711.7,411.1 M719.6,396.8 L722.4,400.1 L724.5,403.5 M717.4,398.1 L719.1,402.2 L720.9,405.7 M729.5,391.1 L732.1,394.8 L734.1,398.2 M727.2,392.4 L727.9,397.0 L729.7,400.5 M739.3,385.3 L742.5,388.5 L744.7,391.8 M737.1,386.6 L738.9,390.8 L740.9,394.3 M749.4,378.6 L753.4,380.9 L756.1,383.9 M747.3,380.2 L750.8,383.2 L753.3,386.3 M757.9,368.8 L761.8,370.7 L765.3,372.7 M756.4,371.0 L759.9,373.9 L763.2,376.1 M762.6,356.9 L767.0,358.0 L770.9,359.1 M762.0,359.4 L765.5,362.4 L769.2,363.7 M764.6,345.1 L769.0,345.8 L773.0,346.2 M764.2,347.6 L768.6,348.4 L772.6,349.1 M766.2,333.8 L770.7,332.8 L774.7,333.2 M765.8,336.3 L770.0,338.0 L774.0,338.7 M767.6,322.5 L772.2,321.6 L776.1,321.9 M767.3,325.0 L771.9,324.8 L775.8,325.3 M769.1,311.2 L773.5,311.4 L777.5,311.8 M768.8,313.7 L773.1,314.7 L777.0,315.4 M770.6,299.9 L775.1,299.8 L779.1,300.2 M770.3,302.4 L774.4,304.3 L778.3,305.0 M772.1,288.6 L776.5,289.0 L780.5,289.4 M771.8,291.1 L776.0,292.9 L779.9,293.6 M773.6,277.5 L778.0,277.0 L782.0,277.3 M773.2,280.0 L777.5,281.5 L781.4,282.2 M775.1,266.2 L779.6,265.7 L783.6,266.2 M774.7,268.7 L779.0,269.9 L783.0,270.6 M777.7,256.7 L782.3,256.9 L786.0,258.3 M776.6,259.0 L780.7,260.8 L784.4,262.5 M783.7,249.8 L787.4,252.5 L790.1,255.5 M781.7,251.5 L783.0,256.0 L785.4,259.2 M792.1,246.2 L793.0,250.6 L794.1,254.4 M789.6,246.8 L789.1,251.2 L789.8,255.1 M802.6,245.1 L805.2,248.9 L805.9,252.8 M800.1,245.3 L800.3,249.8 L800.7,253.8 M813.9,243.9 L814.0,248.5 L814.5,252.4 M811.4,244.2 L810.4,248.7 L810.6,252.6 M825.3,242.9 L827.5,247.0 L828.2,251.0 M822.7,243.2 L823.2,247.7 L823.6,251.6 M836.6,241.6 L837.5,246.0 L838.0,250.0 M834.1,241.9 L833.7,246.4 L834.0,250.4 M847.9,240.4 L848.2,244.9 L848.7,248.8 M845.3,240.7 L845.6,245.1 L845.9,249.1 M859.2,239.2 L861.6,243.1 L862.3,247.0 M856.6,239.5 L855.9,244.0 L856.2,248.0 M870.5,238.0 L871.0,242.5 L871.5,246.5 M867.9,238.3 L867.5,242.7 L867.7,246.7 M881.7,237.2 L882.3,241.6 L882.9,245.5 M879.1,237.5 L879.2,241.9 L879.5,245.9 M892.7,236.7 L893.8,241.0 L894.4,244.9 M890.2,236.9 L889.3,241.4 L889.5,245.4 M904.0,235.7 L904.8,240.1 L905.2,244.1 M901.4,235.9 L900.1,240.3 L900.2,244.2 M915.3,234.7 L917.2,238.9 L917.7,242.9 M912.7,234.9 L912.6,239.4 L912.9,243.4 M926.6,233.7 L929.0,237.7 L929.6,241.7 M924.0,233.9 L923.9,238.4 L924.2,242.4 M938.0,232.7 L938.6,237.2 L938.9,241.2 M935.4,233.0 L934.1,237.4 L934.3,241.4 M949.3,231.9 L951.9,235.9 L952.5,239.8 M946.7,232.1 L947.4,236.5 L947.7,240.5 M960.6,231.0 L961.4,235.3 L961.9,239.3 M958.0,231.2 L957.8,235.7 L957.9,239.7 M971.9,230.2 L973.7,234.5 L974.2,238.4 M969.3,230.4 L968.5,234.9 L968.6,238.9 M983.3,229.4 L984.4,233.7 L984.9,237.7 M980.7,229.6 L980.2,234.0 L980.2,237.9 M994.6,228.6 L995.0,233.1 L995.3,237.1 M992.0,228.8 L990.6,233.2 L990.7,237.2 M1005.9,227.9 L1006.4,232.4 L1006.8,236.4 M1003.3,228.1 L1002.6,232.6 L1002.7,236.6 M1017.2,227.3 L1018.9,231.6 L1019.2,235.6 M1014.6,227.4 L1013.8,231.9 L1013.9,235.9 M1028.5,226.6 L1028.8,231.1 L1029.0,235.1 M1025.9,226.7 L1024.3,231.0 L1024.2,235.0 M1040.0,226.0 L1039.9,230.5 L1040.1,234.5 M1037.4,226.1 L1035.7,230.5 L1035.7,234.5 M1051.3,225.4 L1053.6,229.4 L1054.1,233.4 M1048.7,225.5 L1048.8,230.0 L1049.0,234.0 M1062.6,224.9 L1063.8,229.2 L1064.2,233.1 M1060.0,225.0 L1059.8,229.5 L1060.0,233.5 M1073.9,224.3 L1074.8,228.6 L1075.2,232.6 M1071.3,224.4 L1071.6,228.9 L1071.7,232.9 M1085.3,223.8 L1087.6,227.9 L1088.1,231.8 M1082.7,223.9 L1082.3,228.5 L1082.5,232.5 M1096.6,223.4 L1097.5,227.8 L1097.7,231.8 M1094.0,223.5 L1093.1,227.9 L1093.1,231.9 M1108.0,222.9 L1108.4,227.4 L1108.7,231.3 M1105.4,223.0 L1104.8,227.4 L1104.8,231.4 M1119.4,222.5 L1119.4,227.0 L1119.7,231.0 M1116.8,222.6 L1116.9,227.1 L1116.9,231.1 M1130.7,222.1 L1132.7,226.4 L1133.1,230.4 M1128.1,222.2 L1128.1,226.7 L1128.2,230.7 M1142.0,221.8 L1142.0,226.3 L1142.2,230.3 M1139.4,221.9 L1138.1,226.1 L1137.9,230.0 M1153.4,221.5 L1153.7,225.9 L1153.9,229.9 M1150.8,221.5 L1149.8,225.9 L1149.6,229.8 M1164.8,221.2 L1166.0,225.6 L1166.2,229.5 M1162.2,221.2 L1160.7,225.7 L1160.6,229.7 M1176.1,220.9 L1176.9,225.4 L1177.0,229.4 M1173.5,221.0 L1172.1,225.3 L1172.0,229.3 M1187.5,220.7 L1187.8,225.1 L1187.9,229.1 M1184.9,220.7 L1183.1,224.9 L1182.9,228.9 M1198.8,220.5 L1200.7,224.6 L1201.0,228.6 M1196.2,220.5 L1195.7,225.0 L1195.7,229.0 M1210.2,220.2 L1212.4,224.4 L1212.7,228.3 M1207.6,220.3 L1207.4,224.8 L1207.5,228.8 M1221.5,220.1 L1223.1,224.4 L1223.3,228.4 M1218.9,220.1 L1219.2,224.6 L1219.2,228.6 M1232.9,219.9 L1234.2,224.3 L1234.5,228.3 M1230.3,220.0 L1228.8,224.4 L1228.6,228.4 M1244.3,219.8 L1245.7,224.2 L1245.9,228.2 M1241.7,219.8 L1240.5,224.2 L1240.3,228.2 M1255.6,219.7 L1256.7,223.9 L1257.0,227.8 M1253.0,219.7 L1253.3,224.2 L1253.4,228.2 M1267.0,219.6 L1267.4,224.1 L1267.6,228.0 M1264.4,219.6 L1263.5,224.1 L1263.5,228.1 M1278.3,219.6 L1279.4,223.8 L1279.6,227.8 M1275.7,219.6 L1275.7,224.1 L1275.7,228.1 M1289.7,219.5 L1292.1,223.7 L1292.4,227.6 M1287.1,219.6 L1286.7,224.0 L1286.6,228.0 M1301.1,219.5 L1301.1,224.0 L1301.2,228.0 M1298.5,219.5 L1296.7,223.9 L1296.5,227.9 M1312.4,219.6 L1313.9,223.9 L1314.0,227.9 M1309.8,219.5 L1308.7,223.9 L1308.4,227.9 M1323.8,219.6 L1324.6,224.0 L1324.8,228.0 M1321.2,219.6 L1319.4,223.8 L1319.2,227.8 M1335.2,219.6 L1336.1,224.1 L1336.2,228.1 M1332.6,219.6 L1332.0,224.1 L1332.0,228.1 M1346.5,219.7 L1346.8,224.2 L1346.8,228.2 M1343.9,219.7 L1341.9,224.0 L1341.6,227.9 M1357.8,219.8 L1358.2,224.3 L1358.2,228.3 M1355.2,219.7 L1353.6,224.1 L1353.4,228.0 M1369.3,219.9 L1371.0,224.2 L1371.2,228.2 M1366.7,219.9 L1365.8,224.3 L1365.7,228.3 M1380.6,220.0 L1381.0,224.5 L1381.0,228.5 M1378.0,220.0 L1376.2,224.1 L1375.9,228.1 M1391.9,220.1 L1393.2,224.6 L1393.3,228.6 M1389.3,220.1 L1388.5,224.5 L1388.3,228.5 M1403.4,220.3 L1405.5,224.5 L1405.8,228.4 M1400.8,220.3 L1400.0,224.8 L1399.9,228.8 M1414.7,220.5 L1415.9,224.8 L1416.1,228.8 M1412.1,220.4 L1411.8,224.9 L1411.9,228.9 M1426.0,220.7 L1427.1,224.9 L1427.3,228.8 M1423.4,220.6 L1423.2,225.1 L1423.1,229.1 M1437.4,220.9 L1437.9,225.4 L1437.8,229.4 M1434.8,220.8 L1433.6,224.9 L1433.2,228.9 M1448.8,221.1 L1450.3,225.4 L1450.5,229.4 M1446.2,221.0 L1444.9,225.5 L1444.7,229.5 M1460.1,221.3 L1459.8,225.8 L1459.8,229.8 M1457.5,221.2 L1456.0,225.5 L1455.7,229.5 M1471.4,221.5 L1471.7,226.1 L1471.6,230.1 M1468.9,221.5 L1467.4,225.8 L1467.1,229.8 M1482.9,221.8 L1482.3,226.3 L1482.3,230.3 M1480.3,221.7 L1479.3,226.0 L1479.0,230.0 M1494.2,222.1 L1495.0,226.6 L1495.0,230.6 M1491.6,222.0 L1489.7,226.3 L1489.4,230.2 M1505.5,222.4 L1506.2,226.8 L1506.3,230.8 M1502.9,222.3 L1501.8,226.6 L1501.5,230.5 M1517.0,222.6 L1517.6,227.1 L1517.6,231.1 M1514.4,222.6 L1513.4,226.9 L1513.1,230.8 M1528.3,222.9 L1528.3,227.4 L1528.3,231.4 M1525.7,222.9 L1525.0,227.2 L1524.7,231.2 M1539.6,223.3 L1541.5,227.6 L1541.6,231.6 M1537.0,223.2 L1536.2,227.6 L1536.1,231.6 M1551.1,223.6 L1551.8,228.0 L1551.9,232.0 M1548.5,223.5 L1547.8,227.9 L1547.6,231.9 M1562.4,223.9 L1562.5,228.3 L1562.6,232.3 M1559.8,223.8 L1559.4,228.3 L1559.3,232.3 M1573.7,224.3 L1575.3,228.6 L1575.4,232.5 M1571.1,224.2 L1570.6,228.7 L1570.4,232.6 M1585.1,224.6 L1585.1,229.1 L1585.0,233.1 M1582.5,224.5 L1580.9,228.7 L1580.6,232.7 M1596.5,225.0 L1596.5,229.4 L1596.5,233.4 M1593.9,224.9 L1592.1,229.2 L1591.8,233.2 M1607.8,225.3 L1608.1,229.8 L1608.0,233.8 M1605.2,225.2 L1604.2,229.6 L1603.8,233.5 M1619.2,225.7 L1620.0,230.0 L1620.2,234.0 M1616.6,225.6 L1616.8,230.1 L1616.6,234.1 M1630.5,226.1 L1631.1,230.6 L1631.0,234.6 M1627.9,226.0 L1626.5,230.3 L1626.1,234.3 M-11.7,481.8 L-15.2,479.0 L-17.4,475.7 M-9.5,480.6 L-11.4,476.5 L-13.4,473.0 M-1.8,476.1 L-4.6,472.6 L-6.6,469.2 M0.5,474.9 L-0.5,470.4 L-2.2,466.9 M8.1,470.6 L4.9,467.5 L2.8,464.2 M10.4,469.3 L8.1,465.5 L6.2,462.0 M18.2,465.1 L16.3,461.0 L14.4,457.5 M20.5,463.9 L20.6,459.1 L19.0,455.5 M28.2,459.8 L25.6,456.1 L23.7,452.5 M30.5,458.5 L30.2,453.9 L28.6,450.2 M38.4,454.5 L35.1,451.3 L33.1,447.8 M40.7,453.3 L39.3,449.0 L37.5,445.4 M48.6,449.4 L46.2,445.5 L44.4,442.0 M50.9,448.2 L49.9,443.9 L48.3,440.3 M58.9,444.3 L56.8,440.3 L55.0,436.8 M61.2,443.2 L59.6,439.1 L58.1,435.4 M69.2,439.4 L66.6,435.7 L64.7,432.2 M71.5,438.3 L70.5,433.9 L69.0,430.2 M79.5,434.5 L77.2,430.7 L75.4,427.2 M81.9,433.5 L80.9,429.1 L79.4,425.4 M89.9,429.8 L87.5,426.0 L85.7,422.4 M92.2,428.7 L91.7,424.1 L90.2,420.4 M100.3,425.2 L98.1,421.2 L96.5,417.6 M102.6,424.1 L101.4,419.8 L100.0,416.1 M110.7,420.6 L108.3,416.9 L106.5,413.3 M113.1,419.6 L112.1,415.2 L110.6,411.5 M121.3,416.1 L119.3,412.1 L117.7,408.5 M123.7,415.1 L123.5,410.7 L122.2,407.0 M131.8,411.8 L129.2,408.0 L127.6,404.3 M134.2,410.8 L134.1,406.2 L132.9,402.5 M142.4,407.5 L141.0,403.2 L139.6,399.5 M144.8,406.5 L144.0,402.2 L142.7,398.4 M153.0,403.3 L150.2,399.6 L148.7,395.9 M155.4,402.3 L154.9,397.8 L153.6,394.0 M163.6,399.2 L161.2,395.5 L159.5,391.8 M166.0,398.2 L164.3,394.1 L162.9,390.4 M174.3,395.1 L171.7,391.5 L170.0,387.9 M176.7,394.2 L174.9,390.1 L173.5,386.3 M185.0,391.2 L182.5,387.3 L181.0,383.6 M187.4,390.2 L185.8,386.1 L184.5,382.3 M195.7,387.2 L193.5,383.5 L191.9,379.9 M198.1,386.4 L196.6,382.1 L195.3,378.3 M206.4,383.4 L203.7,379.7 L202.2,376.0 M208.8,382.5 L208.0,378.1 L206.7,374.3 M217.2,379.6 L214.8,375.7 L213.4,372.0 M219.6,378.8 L219.6,374.2 L218.5,370.4 M227.9,375.9 L225.0,372.3 L223.5,368.6 M230.4,375.1 L229.4,370.8 L228.3,366.9 M238.7,372.3 L235.7,368.7 L234.2,365.0 M241.2,371.4 L239.4,367.3 L238.1,363.5 M249.6,368.7 L247.1,364.9 L245.7,361.2 M252.0,367.9 L250.1,363.7 L248.9,359.9 M260.4,365.1 L258.9,360.9 L257.6,357.1 M262.9,364.3 L262.2,360.0 L261.2,356.1 M271.2,361.6 L269.3,357.7 L267.9,354.0 M273.7,360.8 L272.8,356.4 L271.6,352.6 M282.1,358.2 L280.2,354.2 L278.8,350.5 M284.6,357.4 L283.7,353.0 L282.6,349.1 M293.0,354.8 L290.0,351.1 L288.6,347.4 M295.5,354.0 L295.1,349.4 L294.1,345.6 M303.8,351.4 L301.8,347.3 L300.6,343.5 M306.3,350.7 L305.7,346.3 L304.7,342.5 M314.7,348.1 L312.5,344.1 L311.2,340.3 M317.2,347.3 L317.0,342.8 L316.1,339.0 M325.6,344.8 L324.1,340.6 L323.0,336.7 M328.1,344.1 L327.2,339.7 L326.2,335.9 M336.5,341.5 L334.3,337.7 L332.9,334.0 M339.0,340.8 L337.9,336.5 L336.7,332.6 M347.5,338.3 L344.2,334.8 L342.9,331.1 M350.0,337.6 L348.5,333.4 L347.4,329.5 M358.3,335.1 L355.9,331.2 L354.7,327.4 M360.8,334.4 L360.3,330.0 L359.3,326.1 M369.3,332.0 L365.8,328.8 L364.4,325.1 M371.8,331.3 L370.3,327.0 L369.2,323.2 M380.3,329.0 L378.2,325.0 L377.0,321.2 M382.8,328.3 L382.6,323.7 L381.6,319.9 M391.4,326.0 L390.3,321.6 L389.4,317.8 M394.0,325.4 L395.0,320.7 L394.3,316.8 M402.4,323.1 L399.6,319.4 L398.4,315.6 M405.0,322.5 L404.3,318.1 L403.3,314.2 M413.4,320.3 L410.8,316.5 L409.7,312.7 M416.0,319.7 L415.1,315.3 L414.3,311.4 M424.5,317.4 L422.7,313.4 L421.6,309.5 M427.0,316.8 L426.4,312.4 L425.6,308.5 M435.4,314.7 L434.4,310.3 L433.3,306.4 M437.9,314.0 L438.5,309.4 L437.7,305.5 M449.6,319.8 L453.5,317.6 L456.9,315.5 M451.0,321.9 L455.1,320.5 L458.5,318.6 M455.7,329.4 L458.9,326.4 L462.1,324.1 M457.1,331.6 L461.3,330.1 L464.8,328.1 M461.8,339.1 L465.5,336.7 L468.9,334.5 M463.1,341.3 L467.5,340.1 L471.0,338.2 M467.8,348.7 L470.9,345.2 L474.2,343.0 M469.2,350.9 L473.6,349.7 L477.1,347.8 M473.8,358.2 L477.1,355.4 L480.3,353.0 M475.2,360.4 L479.6,359.0 L483.0,356.9 M479.9,367.9 L482.8,364.3 L486.0,362.0 M481.3,370.1 L485.9,369.2 L489.3,367.3 M486.0,377.5 L489.1,374.1 L492.4,371.9 M487.3,379.7 L491.7,378.2 L495.1,376.1 M492.1,387.1 L495.6,384.3 L499.0,382.2 M493.4,389.3 L497.5,387.7 L501.0,385.8 M498.2,396.3 L500.5,392.2 L503.6,389.7 M499.7,398.5 L503.6,396.4 L506.9,394.2 M504.8,405.0 L507.3,401.1 L510.2,398.4 M506.5,407.0 L511.0,405.5 L514.1,403.1 M512.3,413.0 L514.8,409.2 L517.5,406.3 M514.1,414.8 L517.4,411.9 L520.3,409.1 M520.3,419.9 L522.7,416.1 L525.0,412.8 M522.4,421.4 L525.5,418.2 L527.9,415.0 M529.4,425.7 L531.8,421.9 L533.7,418.3 M531.7,426.9 L534.7,423.6 L536.8,420.2 M539.2,430.6 L540.9,426.5 L542.4,422.8 M541.5,431.7 L544.4,428.2 L546.2,424.7 M549.4,435.0 L550.2,430.5 L551.5,426.7 M551.8,435.9 L554.1,432.0 L555.7,428.4 M559.8,438.6 L561.5,434.4 L562.7,430.6 M562.3,439.3 L564.9,435.8 L566.4,432.2 M570.5,441.6 L571.0,437.1 L571.8,433.2 M573.0,442.2 L574.5,438.0 L575.6,434.2 M581.3,443.9 L581.5,439.4 L582.2,435.5 M583.9,444.4 L585.1,440.2 L586.0,436.3 M592.2,445.6 L591.1,441.2 L591.3,437.2 M594.8,445.9 L595.6,441.6 L596.2,437.6 M603.3,446.6 L602.6,442.3 L602.6,438.3 M605.8,446.8 L607.9,442.5 L608.3,438.6 M614.4,447.0 L613.1,442.6 L612.9,438.6 M617.0,447.0 L617.4,442.5 L617.3,438.5 M625.3,446.7 L623.3,442.6 L622.8,438.6 M627.9,446.5 L627.4,442.1 L627.2,438.1 M636.4,445.8 L635.5,441.4 L634.9,437.4 M639.0,445.4 L639.6,441.1 L639.4,437.1 M647.4,444.1 L646.2,439.8 L645.5,435.9 M650.0,443.7 L650.7,439.2 L650.3,435.3 M658.2,441.9 L655.6,438.1 L654.4,434.3 M660.7,441.3 L659.4,437.0 L658.4,433.1 M668.9,439.0 L665.4,435.8 L663.9,432.1 M671.4,438.2 L669.4,434.1 L668.2,430.3 M679.4,435.4 L676.0,432.3 L674.4,428.7 M681.8,434.5 L679.9,430.4 L678.6,426.7 M689.6,431.3 L687.0,427.6 L685.3,424.0 M691.9,430.2 L691.6,425.8 L690.3,422.1 M699.6,426.5 L697.9,422.3 L696.0,418.8 M701.9,425.3 L701.2,420.8 L699.6,417.2 M709.4,421.1 L706.6,417.7 L704.5,414.3 M711.6,419.8 L710.3,415.4 L708.4,411.9 M719.3,415.4 L716.2,412.1 L714.1,408.7 M721.5,414.2 L719.5,410.2 L717.6,406.7 M729.1,409.7 L725.2,407.1 L723.0,403.8 M731.4,408.5 L729.6,404.3 L727.6,400.8 M739.0,404.1 L735.5,401.0 L733.4,397.6 M741.2,402.8 L739.3,398.8 L737.4,395.2 M748.6,398.4 L745.8,394.9 L743.7,391.5 M750.9,397.0 L749.5,392.8 L747.6,389.3 M757.6,392.5 L753.4,390.5 L750.7,387.6 M759.6,390.9 L756.7,387.4 L754.2,384.4 M765.3,385.5 L761.4,383.1 L758.3,380.6 M767.0,383.5 L764.6,379.6 L761.7,376.8 M771.5,377.1 L767.7,374.9 L764.2,373.0 M772.8,374.9 L769.0,372.6 L765.6,370.5 M776.0,367.8 L771.4,368.0 L767.6,366.9 M776.9,365.3 L772.8,363.7 L769.0,362.2 M778.8,357.5 L774.3,357.9 L770.4,357.4 M779.3,354.9 L775.4,352.3 L771.5,351.4 M780.6,346.6 L776.1,346.7 L772.1,346.3 M780.9,344.0 L776.5,343.5 L772.5,342.9 M782.1,335.4 L777.6,334.9 L773.6,334.4 M782.4,332.8 L778.1,331.5 L774.2,330.9 M783.6,324.1 L779.1,325.1 L775.2,324.8 M783.9,321.5 L779.5,320.5 L775.5,320.0 M785.1,312.8 L780.6,312.7 L776.6,312.4 M785.4,310.2 L781.2,308.2 L777.2,307.5 M786.5,301.5 L782.1,301.1 L778.1,300.6 M786.9,298.9 L782.7,297.1 L778.8,296.4 M788.0,290.2 L783.6,289.9 L779.6,289.5 M788.4,287.6 L784.0,286.3 L780.1,285.6 M789.5,278.9 L785.3,279.5 L781.3,279.3 M789.9,276.3 L785.4,276.0 L781.4,275.5 M791.0,267.6 L786.6,268.2 L782.7,267.9 M791.4,265.0 L787.0,263.8 L783.0,263.3 M805.5,260.9 L803.5,256.8 L802.9,252.9 M808.1,260.6 L809.0,256.1 L808.8,252.1 M816.9,259.9 L816.0,255.5 L815.6,251.5 M819.5,259.7 L820.0,255.2 L819.8,251.2 M828.0,258.7 L826.7,254.5 L826.0,250.6 M830.6,258.4 L829.5,254.0 L829.0,250.0 M839.4,257.4 L837.5,253.3 L836.8,249.4 M842.0,257.1 L840.8,252.7 L840.3,248.8 M850.7,256.2 L848.7,252.0 L848.0,248.1 M853.3,255.9 L853.3,251.4 L853.0,247.4 M862.0,255.0 L861.2,250.6 L860.6,246.7 M864.6,254.7 L865.1,250.2 L864.9,246.2 M873.3,253.8 L871.5,249.6 L870.9,245.7 M875.9,253.6 L875.9,249.1 L875.5,245.1 M884.5,252.3 L882.7,248.1 L882.2,244.1 M887.1,252.1 L887.4,247.7 L887.2,243.8 M895.9,251.3 L894.1,247.0 L893.6,243.0 M898.5,251.0 L898.9,246.6 L898.7,242.6 M907.2,250.2 L906.4,245.9 L905.9,241.9 M909.8,250.0 L910.4,245.4 L910.1,241.5 M918.6,249.2 L918.2,244.7 L917.9,240.8 M921.2,249.0 L922.3,244.8 L922.3,240.9 M929.9,248.3 L928.6,243.9 L928.2,239.9 M932.5,248.0 L934.1,243.6 L934.0,239.6 M941.3,247.3 L939.6,243.2 L939.1,239.3 M943.9,247.1 L944.1,242.6 L943.9,238.6 M952.6,246.5 L951.4,242.1 L951.0,238.1 M955.2,246.3 L955.9,241.8 L955.7,237.8 M964.0,245.6 L963.5,241.2 L963.1,237.2 M966.6,245.4 L967.4,241.1 L967.4,237.1 M975.3,244.8 L974.1,240.4 L973.7,236.4 M977.9,244.6 L979.2,240.1 L979.0,236.1 M986.7,244.0 L986.6,239.5 L986.4,235.5 M989.3,243.8 L990.2,239.4 L990.2,235.4 M998.0,243.3 L998.2,238.7 L998.0,234.8 M1000.6,243.1 L1001.7,238.6 L1001.6,234.6 M1009.4,242.5 L1008.0,238.1 L1007.7,234.2 M1012.0,242.4 L1012.4,237.9 L1012.3,233.9 M1020.7,241.9 L1018.6,237.8 L1018.1,233.8 M1023.3,241.7 L1023.4,237.2 L1023.1,233.2 M1032.1,241.2 L1032.4,236.7 L1032.2,232.7 M1034.7,241.1 L1035.9,236.9 L1036.0,232.9 M1043.5,240.6 L1042.2,236.3 L1041.8,232.3 M1046.1,240.5 L1046.4,236.0 L1046.2,232.0 M1054.9,240.0 L1052.5,236.0 L1052.0,232.0 M1057.5,239.9 L1057.4,235.4 L1057.2,231.4 M1066.2,239.5 L1064.9,235.2 L1064.5,231.2 M1068.8,239.4 L1068.5,234.9 L1068.3,230.9 M1077.6,239.0 L1077.3,234.5 L1077.0,230.6 M1080.2,238.9 L1080.9,234.4 L1080.9,230.4 M1088.9,238.5 L1087.0,234.3 L1086.5,230.4 M1091.5,238.4 L1091.6,233.9 L1091.5,229.9 M1100.4,238.0 L1099.5,233.5 L1099.4,229.5 M1103.0,237.9 L1103.4,233.6 L1103.4,229.6 M1111.7,237.6 L1111.4,233.1 L1111.3,229.1 M1114.3,237.5 L1115.3,233.2 L1115.4,229.3 M1123.1,237.2 L1121.6,233.0 L1121.2,229.0 M1125.7,237.1 L1126.7,232.6 L1126.7,228.6 M1134.4,236.8 L1133.1,232.5 L1132.8,228.5 M1137.0,236.7 L1138.6,232.4 L1138.6,228.4 M1145.9,236.5 L1143.9,232.2 L1143.5,228.3 M1148.5,236.4 L1148.8,231.9 L1148.8,227.9 M1157.2,236.2 L1156.5,231.7 L1156.3,227.8 M1159.8,236.1 L1160.8,231.6 L1160.7,227.6 M1168.6,235.9 L1166.8,231.8 L1166.4,227.9 M1171.2,235.8 L1171.8,231.3 L1171.7,227.3 M1180.0,235.6 L1177.7,231.5 L1177.3,227.6 M1182.6,235.6 L1182.5,231.1 L1182.3,227.1 M1191.4,235.4 L1189.7,231.1 L1189.4,227.1 M1194.0,235.3 L1194.1,230.9 L1194.2,226.9 M1202.7,235.2 L1201.6,230.8 L1201.3,226.9 M1205.3,235.1 L1205.5,230.7 L1205.6,226.7 M1214.2,235.0 L1212.7,230.7 L1212.5,226.7 M1216.8,235.0 L1217.3,230.5 L1217.3,226.5 M1225.5,234.8 L1225.3,230.3 L1225.2,226.3 M1228.1,234.8 L1228.6,230.4 L1228.7,226.5 M1236.9,234.7 L1234.9,230.5 L1234.7,226.5 M1239.5,234.7 L1239.8,230.2 L1239.7,226.2 M1248.3,234.6 L1247.2,230.2 L1247.0,226.2 M1250.9,234.5 L1250.7,230.1 L1250.8,226.1 M1259.7,234.5 L1259.3,230.0 L1259.4,226.0 M1262.3,234.5 L1263.7,230.1 L1263.9,226.1 M1271.0,234.4 L1270.0,230.0 L1269.8,226.0 M1273.6,234.4 L1274.2,230.0 L1274.4,226.1 M1282.4,234.4 L1280.9,230.0 L1280.7,226.0 M1285.0,234.3 L1285.4,229.9 L1285.5,225.9 M1293.8,234.3 L1291.5,230.2 L1291.2,226.2 M1296.4,234.3 L1296.9,229.8 L1296.9,225.8 M1305.1,234.3 L1304.7,229.9 L1304.7,225.9 M1307.7,234.3 L1308.7,230.1 L1308.9,226.1 M1316.6,234.3 L1315.5,230.1 L1315.3,226.1 M1319.2,234.4 L1319.8,229.9 L1319.8,225.9 M1327.9,234.4 L1327.3,230.0 L1327.2,226.0 M1330.5,234.4 L1331.8,229.9 L1332.0,226.0 M1339.3,234.4 L1338.8,229.9 L1338.9,225.9 M1341.9,234.5 L1342.7,230.1 L1342.9,226.1 M1350.7,234.5 L1350.5,230.0 L1350.5,226.0 M1353.3,234.5 L1354.1,230.1 L1354.3,226.1 M1362.0,234.6 L1361.1,230.1 L1361.0,226.1 M1364.6,234.6 L1366.2,230.3 L1366.4,226.3 M1373.4,234.7 L1372.5,230.3 L1372.4,226.3 M1376.0,234.8 L1376.9,230.3 L1377.1,226.3 M1384.8,234.9 L1383.2,230.7 L1382.9,226.8 M1387.4,234.9 L1387.1,230.4 L1387.2,226.4 M1396.2,235.0 L1396.6,230.5 L1396.7,226.5 M1398.8,235.0 L1400.7,230.8 L1401.1,226.9 M1407.5,235.2 L1407.0,230.7 L1406.9,226.7 M1410.1,235.2 L1411.2,230.9 L1411.4,226.9 M1419.0,235.3 L1419.1,230.8 L1419.3,226.8 M1421.6,235.4 L1423.7,231.2 L1424.1,227.3 M1430.3,235.5 L1429.9,231.1 L1429.8,227.1 M1432.9,235.6 L1433.2,231.1 L1433.4,227.2 M1441.6,235.7 L1440.9,231.3 L1440.8,227.3 M1444.2,235.8 L1444.8,231.3 L1444.8,227.3 M1453.1,236.0 L1452.8,231.5 L1452.7,227.6 M1455.7,236.0 L1456.4,231.6 L1456.7,227.7 M1464.4,236.2 L1463.8,231.8 L1463.7,227.8 M1467.0,236.2 L1468.4,231.9 L1468.6,227.9 M1475.8,236.4 L1474.6,232.1 L1474.5,228.2 M1478.4,236.5 L1478.7,232.0 L1478.8,228.0 M1487.2,236.7 L1485.8,232.5 L1485.6,228.5 M1489.8,236.8 L1490.4,232.3 L1490.6,228.3 M1498.6,237.0 L1499.0,232.5 L1499.2,228.5 M1501.2,237.1 L1503.5,232.9 L1503.9,229.0 M1509.9,237.3 L1509.0,232.9 L1508.9,228.9 M1512.5,237.3 L1512.6,232.8 L1512.7,228.9 M1521.3,237.6 L1519.7,233.2 L1519.6,229.3 M1523.9,237.6 L1523.5,233.1 L1523.5,229.1 M1532.7,237.9 L1532.0,233.4 L1532.0,229.4 M1535.3,237.9 L1536.8,233.6 L1537.2,229.6 M1544.0,238.2 L1543.5,233.7 L1543.6,229.7 M1546.6,238.3 L1547.7,233.9 L1548.0,230.0 M1555.4,238.5 L1554.1,234.2 L1554.0,230.2 M1558.0,238.6 L1558.5,234.1 L1558.7,230.1 M1566.8,238.8 L1565.5,234.5 L1565.4,230.5 M1569.4,238.9 L1571.0,234.6 L1571.3,230.6 M1578.1,239.2 L1577.7,234.7 L1577.8,230.7 M1580.7,239.3 L1582.0,235.2 L1582.4,231.3 M1589.5,239.5 L1588.4,235.2 L1588.3,231.3 M1592.1,239.6 L1593.4,235.2 L1593.6,231.2 M1600.9,239.9 L1600.8,235.5 L1600.8,231.5 M1603.5,240.0 L1603.9,235.5 L1604.1,231.6 M1612.3,240.3 L1611.8,235.9 L1611.8,231.9 M1614.9,240.4 L1614.6,235.9 L1614.7,231.9 M1623.6,240.7 L1623.5,236.2 L1623.6,232.2 M1626.2,240.7 L1627.8,236.5 L1628.1,232.6 M1634.9,241.1 L1634.8,236.6 L1634.8,232.6 M1637.5,241.1 L1638.5,236.8 L1638.9,232.9" fill="none" stroke="#222" stroke-width="0.85"/>
<g fill="#c8c8c8" stroke="#2a2a2a" stroke-width="1.1"><circle cx="-24.8" cy="465.2" r="5.4"/><circle cx="-14.9" cy="459.5" r="5.4"/><circle cx="-5.0" cy="453.9" r="5.4"/><circle cx="4.9" cy="448.4" r="5.4"/><circle cx="15.0" cy="443.0" r="5.4"/><circle cx="25.0" cy="437.8" r="5.4"/><circle cx="35.2" cy="432.6" r="5.4"/><circle cx="45.3" cy="427.5" r="5.4"/><circle cx="55.6" cy="422.6" r="5.4"/><circle cx="65.9" cy="417.7" r="5.4"/><circle cx="76.2" cy="413.0" r="5.4"/><circle cx="86.6" cy="408.3" r="5.4"/><circle cx="97.0" cy="403.7" r="5.4"/><circle cx="107.4" cy="399.2" r="5.4"/><circle cx="117.9" cy="394.8" r="5.4"/><circle cx="128.4" cy="390.5" r="5.4"/><circle cx="139.0" cy="386.3" r="5.4"/><circle cx="149.5" cy="382.1" r="5.4"/><circle cx="160.1" cy="378.0" r="5.4"/><circle cx="170.8" cy="374.0" r="5.4"/><circle cx="181.5" cy="370.1" r="5.4"/><circle cx="192.1" cy="366.2" r="5.4"/><circle cx="202.9" cy="362.4" r="5.4"/><circle cx="213.6" cy="358.6" r="5.4"/><circle cx="224.4" cy="355.0" r="5.4"/><circle cx="235.1" cy="351.3" r="5.4"/><circle cx="245.9" cy="347.8" r="5.4"/><circle cx="256.7" cy="344.2" r="5.4"/><circle cx="267.6" cy="340.8" r="5.4"/><circle cx="278.4" cy="337.3" r="5.4"/><circle cx="289.3" cy="333.9" r="5.4"/><circle cx="300.1" cy="330.6" r="5.4"/><circle cx="311.0" cy="327.3" r="5.4"/><circle cx="321.9" cy="324.0" r="5.4"/><circle cx="332.8" cy="320.8" r="5.4"/><circle cx="343.7" cy="317.5" r="5.4"/><circle cx="354.6" cy="314.4" r="5.4"/><circle cx="365.5" cy="311.2" r="5.4"/><circle cx="376.5" cy="308.3" r="5.4"/><circle cx="387.5" cy="305.3" r="5.4"/><circle cx="398.5" cy="302.5" r="5.4"/><circle cx="409.5" cy="299.6" r="5.4"/><circle cx="420.5" cy="296.8" r="5.4"/><circle cx="431.5" cy="294.0" r="5.4"/><circle cx="442.7" cy="292.0" r="5.4"/><circle cx="453.7" cy="294.5" r="5.4"/><circle cx="462.6" cy="301.4" r="5.4"/><circle cx="468.8" cy="310.9" r="5.4"/><circle cx="474.9" cy="320.5" r="5.4"/><circle cx="480.9" cy="330.1" r="5.4"/><circle cx="487.0" cy="339.7" r="5.4"/><circle cx="493.0" cy="349.4" r="5.4"/><circle cx="499.1" cy="359.0" r="5.4"/><circle cx="505.2" cy="368.6" r="5.4"/><circle cx="511.3" cy="378.2" r="5.4"/><circle cx="517.7" cy="387.6" r="5.4"/><circle cx="525.2" cy="396.1" r="5.4"/><circle cx="533.7" cy="403.6" r="5.4"/><circle cx="543.5" cy="409.4" r="5.4"/><circle cx="553.8" cy="414.1" r="5.4"/><circle cx="564.5" cy="418.0" r="5.4"/><circle cx="575.4" cy="421.2" r="5.4"/><circle cx="586.5" cy="423.5" r="5.4"/><circle cx="597.8" cy="425.1" r="5.4"/><circle cx="609.1" cy="425.9" r="5.4"/><circle cx="620.5" cy="425.9" r="5.4"/><circle cx="631.8" cy="425.1" r="5.4"/><circle cx="643.1" cy="423.6" r="5.4"/><circle cx="654.2" cy="421.2" r="5.4"/><circle cx="665.2" cy="418.1" r="5.4"/><circle cx="675.9" cy="414.3" r="5.4"/><circle cx="686.3" cy="409.7" r="5.4"/><circle cx="696.3" cy="404.4" r="5.4"/><circle cx="706.2" cy="398.7" r="5.4"/><circle cx="716.0" cy="393.1" r="5.4"/><circle cx="725.9" cy="387.4" r="5.4"/><circle cx="735.7" cy="381.7" r="5.4"/><circle cx="745.2" cy="375.5" r="5.4"/><circle cx="753.0" cy="367.2" r="5.4"/><circle cx="757.5" cy="356.8" r="5.4"/><circle cx="759.5" cy="345.6" r="5.4"/><circle cx="761.0" cy="334.4" r="5.4"/><circle cx="762.5" cy="323.1" r="5.4"/><circle cx="764.0" cy="311.8" r="5.4"/><circle cx="765.5" cy="300.6" r="5.4"/><circle cx="767.0" cy="289.3" r="5.4"/><circle cx="768.4" cy="278.0" r="5.4"/><circle cx="769.9" cy="266.7" r="5.4"/><circle cx="772.6" cy="255.7" r="5.4"/><circle cx="779.5" cy="246.8" r="5.4"/><circle cx="789.6" cy="241.7" r="5.4"/><circle cx="800.8" cy="240.2" r="5.4"/><circle cx="812.1" cy="239.1" r="5.4"/><circle cx="823.4" cy="238.1" r="5.4"/><circle cx="834.7" cy="236.8" r="5.4"/><circle cx="846.0" cy="235.6" r="5.4"/><circle cx="857.4" cy="234.4" r="5.4"/><circle cx="868.7" cy="233.2" r="5.4"/><circle cx="879.9" cy="232.4" r="5.4"/><circle cx="891.0" cy="231.8" r="5.4"/><circle cx="902.3" cy="230.8" r="5.4"/><circle cx="913.6" cy="229.8" r="5.4"/><circle cx="924.9" cy="228.8" r="5.4"/><circle cx="936.3" cy="227.9" r="5.4"/><circle cx="947.6" cy="227.0" r="5.4"/><circle cx="958.9" cy="226.1" r="5.4"/><circle cx="970.3" cy="225.3" r="5.4"/><circle cx="981.6" cy="224.5" r="5.4"/><circle cx="993.0" cy="223.8" r="5.4"/><circle cx="1004.3" cy="223.0" r="5.4"/><circle cx="1015.7" cy="222.3" r="5.4"/><circle cx="1027.0" cy="221.7" r="5.4"/><circle cx="1038.4" cy="221.1" r="5.4"/><circle cx="1049.7" cy="220.5" r="5.4"/><circle cx="1061.1" cy="219.9" r="5.4"/><circle cx="1072.4" cy="219.4" r="5.4"/><circle cx="1083.8" cy="218.9" r="5.4"/><circle cx="1095.2" cy="218.4" r="5.4"/><circle cx="1106.5" cy="218.0" r="5.4"/><circle cx="1117.9" cy="217.6" r="5.4"/><circle cx="1129.2" cy="217.2" r="5.4"/><circle cx="1140.6" cy="216.8" r="5.4"/><circle cx="1152.0" cy="216.5" r="5.4"/><circle cx="1163.3" cy="216.2" r="5.4"/><circle cx="1174.7" cy="215.9" r="5.4"/><circle cx="1186.1" cy="215.7" r="5.4"/><circle cx="1197.4" cy="215.5" r="5.4"/><circle cx="1208.8" cy="215.3" r="5.4"/><circle cx="1220.2" cy="215.1" r="5.4"/><circle cx="1231.5" cy="214.9" r="5.4"/><circle cx="1242.9" cy="214.8" r="5.4"/><circle cx="1254.3" cy="214.7" r="5.4"/><circle cx="1265.7" cy="214.6" r="5.4"/><circle cx="1277.0" cy="214.6" r="5.4"/><circle cx="1288.4" cy="214.6" r="5.4"/><circle cx="1299.8" cy="214.5" r="5.4"/><circle cx="1311.1" cy="214.5" r="5.4"/><circle cx="1322.5" cy="214.6" r="5.4"/><circle cx="1333.9" cy="214.6" r="5.4"/><circle cx="1345.2" cy="214.7" r="5.4"/><circle cx="1356.6" cy="214.8" r="5.4"/><circle cx="1368.0" cy="214.9" r="5.4"/><circle cx="1379.3" cy="215.0" r="5.4"/><circle cx="1390.7" cy="215.1" r="5.4"/><circle cx="1402.1" cy="215.3" r="5.4"/><circle cx="1413.5" cy="215.4" r="5.4"/><circle cx="1424.8" cy="215.6" r="5.4"/><circle cx="1436.2" cy="215.8" r="5.4"/><circle cx="1447.6" cy="216.0" r="5.4"/><circle cx="1458.9" cy="216.3" r="5.4"/><circle cx="1470.3" cy="216.5" r="5.4"/><circle cx="1481.7" cy="216.8" r="5.4"/><circle cx="1493.0" cy="217.0" r="5.4"/><circle cx="1504.4" cy="217.3" r="5.4"/><circle cx="1515.8" cy="217.6" r="5.4"/><circle cx="1527.1" cy="217.9" r="5.4"/><circle cx="1538.5" cy="218.2" r="5.4"/><circle cx="1549.9" cy="218.5" r="5.4"/><circle cx="1561.2" cy="218.9" r="5.4"/><circle cx="1572.6" cy="219.2" r="5.4"/><circle cx="1584.0" cy="219.6" r="5.4"/><circle cx="1595.3" cy="219.9" r="5.4"/><circle cx="1606.7" cy="220.3" r="5.4"/><circle cx="1618.0" cy="220.7" r="5.4"/><circle cx="1629.4" cy="221.0" r="5.4"/><circle cx="-8.1" cy="485.5" r="5.4"/><circle cx="1.8" cy="479.9" r="5.4"/><circle cx="11.7" cy="474.3" r="5.4"/><circle cx="21.7" cy="468.9" r="5.4"/><circle cx="31.7" cy="463.6" r="5.4"/><circle cx="41.8" cy="458.4" r="5.4"/><circle cx="52.0" cy="453.3" r="5.4"/><circle cx="62.2" cy="448.2" r="5.4"/><circle cx="72.4" cy="443.3" r="5.4"/><circle cx="82.8" cy="438.5" r="5.4"/><circle cx="93.1" cy="433.8" r="5.4"/><circle cx="103.5" cy="429.2" r="5.4"/><circle cx="113.9" cy="424.7" r="5.4"/><circle cx="124.4" cy="420.3" r="5.4"/><circle cx="134.9" cy="415.9" r="5.4"/><circle cx="145.4" cy="411.7" r="5.4"/><circle cx="156.0" cy="407.5" r="5.4"/><circle cx="166.6" cy="403.4" r="5.4"/><circle cx="177.3" cy="399.3" r="5.4"/><circle cx="187.9" cy="395.4" r="5.4"/><circle cx="198.6" cy="391.5" r="5.4"/><circle cx="209.3" cy="387.7" r="5.4"/><circle cx="220.0" cy="383.9" r="5.4"/><circle cx="230.8" cy="380.2" r="5.4"/><circle cx="241.6" cy="376.6" r="5.4"/><circle cx="252.4" cy="373.0" r="5.4"/><circle cx="263.2" cy="369.5" r="5.4"/><circle cx="274.0" cy="366.0" r="5.4"/><circle cx="284.8" cy="362.6" r="5.4"/><circle cx="295.7" cy="359.2" r="5.4"/><circle cx="306.5" cy="355.8" r="5.4"/><circle cx="317.4" cy="352.5" r="5.4"/><circle cx="328.3" cy="349.2" r="5.4"/><circle cx="339.2" cy="346.0" r="5.4"/><circle cx="350.1" cy="342.8" r="5.4"/><circle cx="361.0" cy="339.6" r="5.4"/><circle cx="372.0" cy="336.4" r="5.4"/><circle cx="382.9" cy="333.5" r="5.4"/><circle cx="393.9" cy="330.5" r="5.4"/><circle cx="404.9" cy="327.7" r="5.4"/><circle cx="415.9" cy="324.8" r="5.4"/><circle cx="426.9" cy="322.0" r="5.4"/><circle cx="437.9" cy="319.1" r="5.4"/><circle cx="446.1" cy="323.6" r="5.4"/><circle cx="452.1" cy="333.2" r="5.4"/><circle cx="458.2" cy="342.8" r="5.4"/><circle cx="464.2" cy="352.4" r="5.4"/><circle cx="470.3" cy="362.0" r="5.4"/><circle cx="476.4" cy="371.7" r="5.4"/><circle cx="482.4" cy="381.3" r="5.4"/><circle cx="488.5" cy="390.9" r="5.4"/><circle cx="494.9" cy="400.3" r="5.4"/><circle cx="501.9" cy="409.3" r="5.4"/><circle cx="509.7" cy="417.5" r="5.4"/><circle cx="518.5" cy="424.7" r="5.4"/><circle cx="528.1" cy="430.7" r="5.4"/><circle cx="538.3" cy="435.7" r="5.4"/><circle cx="548.8" cy="440.1" r="5.4"/><circle cx="559.6" cy="443.7" r="5.4"/><circle cx="570.6" cy="446.7" r="5.4"/><circle cx="581.7" cy="449.1" r="5.4"/><circle cx="592.9" cy="450.7" r="5.4"/><circle cx="604.3" cy="451.7" r="5.4"/><circle cx="615.6" cy="452.0" r="5.4"/><circle cx="627.0" cy="451.6" r="5.4"/><circle cx="638.3" cy="450.6" r="5.4"/><circle cx="649.5" cy="448.8" r="5.4"/><circle cx="660.6" cy="446.4" r="5.4"/><circle cx="671.6" cy="443.4" r="5.4"/><circle cx="682.3" cy="439.7" r="5.4"/><circle cx="692.8" cy="435.3" r="5.4"/><circle cx="703.1" cy="430.4" r="5.4"/><circle cx="713.0" cy="424.8" r="5.4"/><circle cx="722.9" cy="419.1" r="5.4"/><circle cx="732.7" cy="413.5" r="5.4"/><circle cx="742.6" cy="407.8" r="5.4"/><circle cx="752.3" cy="402.0" r="5.4"/><circle cx="761.7" cy="395.6" r="5.4"/><circle cx="769.9" cy="387.8" r="5.4"/><circle cx="776.5" cy="378.5" r="5.4"/><circle cx="781.2" cy="368.2" r="5.4"/><circle cx="784.0" cy="357.1" r="5.4"/><circle cx="785.7" cy="345.9" r="5.4"/><circle cx="787.2" cy="334.6" r="5.4"/><circle cx="788.7" cy="323.4" r="5.4"/><circle cx="790.2" cy="312.1" r="5.4"/><circle cx="791.7" cy="300.8" r="5.4"/><circle cx="793.1" cy="289.5" r="5.4"/><circle cx="794.6" cy="278.3" r="5.4"/><circle cx="796.1" cy="267.0" r="5.4"/><circle cx="807.3" cy="265.7" r="5.4"/><circle cx="818.6" cy="264.8" r="5.4"/><circle cx="829.9" cy="263.5" r="5.4"/><circle cx="841.2" cy="262.2" r="5.4"/><circle cx="852.5" cy="261.0" r="5.4"/><circle cx="863.8" cy="259.8" r="5.4"/><circle cx="875.1" cy="258.7" r="5.4"/><circle cx="886.3" cy="257.2" r="5.4"/><circle cx="897.6" cy="256.1" r="5.4"/><circle cx="909.0" cy="255.1" r="5.4"/><circle cx="920.3" cy="254.1" r="5.4"/><circle cx="931.6" cy="253.1" r="5.4"/><circle cx="942.9" cy="252.2" r="5.4"/><circle cx="954.3" cy="251.3" r="5.4"/><circle cx="965.6" cy="250.5" r="5.4"/><circle cx="977.0" cy="249.7" r="5.4"/><circle cx="988.3" cy="248.9" r="5.4"/><circle cx="999.6" cy="248.2" r="5.4"/><circle cx="1011.0" cy="247.5" r="5.4"/><circle cx="1022.3" cy="246.8" r="5.4"/><circle cx="1033.7" cy="246.2" r="5.4"/><circle cx="1045.0" cy="245.5" r="5.4"/><circle cx="1056.4" cy="245.0" r="5.4"/><circle cx="1067.8" cy="244.4" r="5.4"/><circle cx="1079.1" cy="243.9" r="5.4"/><circle cx="1090.5" cy="243.4" r="5.4"/><circle cx="1101.8" cy="243.0" r="5.4"/><circle cx="1113.2" cy="242.5" r="5.4"/><circle cx="1124.6" cy="242.1" r="5.4"/><circle cx="1135.9" cy="241.8" r="5.4"/><circle cx="1147.3" cy="241.4" r="5.4"/><circle cx="1158.7" cy="241.1" r="5.4"/><circle cx="1170.0" cy="240.8" r="5.4"/><circle cx="1181.4" cy="240.6" r="5.4"/><circle cx="1192.8" cy="240.4" r="5.4"/><circle cx="1204.1" cy="240.1" r="5.4"/><circle cx="1215.5" cy="240.0" r="5.4"/><circle cx="1226.9" cy="239.8" r="5.4"/><circle cx="1238.2" cy="239.7" r="5.4"/><circle cx="1249.6" cy="239.6" r="5.4"/><circle cx="1261.0" cy="239.5" r="5.4"/><circle cx="1272.3" cy="239.4" r="5.4"/><circle cx="1283.7" cy="239.4" r="5.4"/><circle cx="1295.1" cy="239.3" r="5.4"/><circle cx="1306.5" cy="239.3" r="5.4"/><circle cx="1317.8" cy="239.4" r="5.4"/><circle cx="1329.2" cy="239.4" r="5.4"/><circle cx="1340.6" cy="239.5" r="5.4"/><circle cx="1351.9" cy="239.5" r="5.4"/><circle cx="1363.3" cy="239.6" r="5.4"/><circle cx="1374.7" cy="239.7" r="5.4"/><circle cx="1386.0" cy="239.9" r="5.4"/><circle cx="1397.4" cy="240.0" r="5.4"/><circle cx="1408.8" cy="240.2" r="5.4"/><circle cx="1420.1" cy="240.4" r="5.4"/><circle cx="1431.5" cy="240.5" r="5.4"/><circle cx="1442.9" cy="240.8" r="5.4"/><circle cx="1454.3" cy="241.0" r="5.4"/><circle cx="1465.6" cy="241.2" r="5.4"/><circle cx="1477.0" cy="241.5" r="5.4"/><circle cx="1488.4" cy="241.7" r="5.4"/><circle cx="1499.7" cy="242.0" r="5.4"/><circle cx="1511.1" cy="242.3" r="5.4"/><circle cx="1522.5" cy="242.6" r="5.4"/><circle cx="1533.8" cy="242.9" r="5.4"/><circle cx="1545.2" cy="243.2" r="5.4"/><circle cx="1556.6" cy="243.5" r="5.4"/><circle cx="1567.9" cy="243.9" r="5.4"/><circle cx="1579.3" cy="244.2" r="5.4"/><circle cx="1590.6" cy="244.6" r="5.4"/><circle cx="1602.0" cy="245.0" r="5.4"/><circle cx="1613.4" cy="245.3" r="5.4"/><circle cx="1624.7" cy="245.7" r="5.4"/><circle cx="1636.1" cy="246.1" r="5.4"/></g>
<line x1="440" y1="64.3" x2="492" y2="64.3" stroke="#17181a" stroke-width="3"/>
<path d="M489,64.7 L490,64.75 L490.99,64.92 L491.99,65.19 L492.99,65.57 L493.99,66.05 L494.98,66.63 L495.98,67.31 L496.98,68.09 L497.98,68.95 L498.97,69.89 L499.97,70.92 L500.97,72.01 L501.97,73.17 L502.96,74.38 L503.96,75.64 L504.96,76.95 L505.96,78.29 L506.95,79.65 L507.95,81.03 L508.95,82.42 L509.95,83.81 L510.94,85.19 L511.94,86.55 L512.94,87.88 L513.94,89.18 L514.93,90.44 L515.93,91.65 L516.93,92.8 L517.93,93.89 L518.92,94.9 L519.92,95.84 L520.92,96.69 L521.92,97.46 L522.91,98.13 L523.91,98.7 L524.91,99.17 L525.91,99.54 L526.9,99.8 L527.9,99.96 L528.9,100 L529.9,99.93 L530.89,99.76 L531.89,99.48 L532.89,99.09 L533.89,98.6 L534.88,98 L535.88,97.31 L536.88,96.53 L537.88,95.66 L538.87,94.71 L539.87,93.68 L540.87,92.58 L541.87,91.41 L542.86,90.2 L543.86,88.93 L544.86,87.62 L545.86,86.28 L546.85,84.91 L547.85,83.53 L548.85,82.14 L549.85,80.75 L550.84,79.38 L551.84,78.02 L552.84,76.68 L553.84,75.39 L554.83,74.13 L555.83,72.93 L556.83,71.79 L557.83,70.71 L558.82,69.7 L559.82,68.77 L560.82,67.93 L561.82,67.17 L562.81,66.51 L563.81,65.95 L564.81,65.48 L565.81,65.13 L566.8,64.88 L567.8,64.74 L568.8,64.7 L569.8,64.78 L570.79,64.96 L571.79,65.26 L572.79,65.66 L573.79,66.16 L574.78,66.76 L575.78,67.46 L576.78,68.25 L577.78,69.13 L578.77,70.09 L579.77,71.13 L580.77,72.24 L581.77,73.4 L582.76,74.63 L583.76,75.9 L584.76,77.21 L585.76,78.56 L586.75,79.93 L587.75,81.31 L588.75,82.7 L589.75,84.08 L590.74,85.46 L591.74,86.82 L592.74,88.15 L593.74,89.44 L594.73,90.69 L595.73,91.89 L596.73,93.03 L597.73,94.1 L598.72,95.1 L599.72,96.02 L600.72,96.85 L601.72,97.6 L602.71,98.25 L603.71,98.81 L604.71,99.26 L605.71,99.6 L606.7,99.84 L607.7,99.97 L608.7,100 L609.7,99.91 L610.69,99.71 L611.69,99.41 L612.69,99 L613.69,98.49 L614.68,97.87 L615.68,97.16 L616.68,96.36 L617.68,95.48 L618.67,94.51 L619.67,93.46 L620.67,92.35 L621.67,91.17 L622.66,89.95 L623.66,88.67 L624.66,87.35 L625.66,86.01 L626.65,84.64 L627.65,83.25 L628.65,81.86 L629.65,80.48 L630.64,79.1 L631.64,77.75 L632.64,76.42 L633.64,75.13 L634.63,73.89 L635.63,72.7 L636.63,71.56 L637.63,70.5 L638.62,69.51 L639.62,68.59 L640.62,67.77 L641.62,67.03 L642.61,66.39 L643.61,65.85 L644.61,65.4 L645.61,65.07 L646.6,64.84 L647.6,64.72 L648.6,64.71 L649.6,64.81 L650.59,65.01 L651.59,65.33 L652.59,65.75 L653.59,66.27 L654.58,66.89 L655.58,67.61 L656.58,68.42 L657.58,69.32 L658.57,70.29 L659.57,71.35 L660.57,72.46 L661.57,73.65 L662.56,74.88 L663.56,76.16 L664.56,77.48 L665.56,78.83 L666.55,80.2 L667.55,81.59 L668.55,82.98 L669.55,84.36 L670.54,85.73 L671.54,87.09 L672.54,88.41 L673.54,89.69 L674.53,90.93 L675.53,92.12 L676.53,93.25 L677.53,94.3 L678.52,95.29 L679.52,96.19 L680.52,97.01 L681.52,97.74 L682.51,98.37 L683.51,98.9 L684.51,99.33 L685.51,99.66 L686.5,99.88 L687.5,99.99" fill="none" stroke="#fe4a03" stroke-width="13" stroke-linejoin="round"/>
<rect x="-25.75" y="-25.75" width="51.5" height="51.5" rx="7" fill="#72c8fc" stroke="#17181a" stroke-width="3" transform="translate(410,66.5) rotate(45)"/>
<path d="M1194.9,70.5 L1233.76,30.49 L1234.68,30.98 L1235.59,31.49 L1236.48,32.04 L1237.36,32.61 L1238.21,33.22 L1239.05,33.85 L1239.86,34.51 L1240.66,35.2 L1241.43,35.91 L1242.19,36.65 L1242.91,37.42 L1243.62,38.2 L1244.29,39.01 L1244.95,39.85 L1245.57,40.7 L1246.17,41.58 L1246.74,42.47 L1247.29,43.38 L1247.8,44.31 L1248.28,45.26 L1248.74,46.22 L1249.16,47.19 L1249.55,48.18 L1249.92,49.18 L1250.24,50.19 L1250.54,51.21 L1250.81,52.24 L1251.06,53.28 L1251.28,54.32 L1251.49,55.36 L1251.68,56.41 L1251.85,57.46 L1252,58.51 L1252.13,59.57 L1252.24,60.63 L1252.33,61.69 L1252.4,62.75 L1252.45,63.81 L1252.49,64.88 L1252.5,65.94 L1252.49,67.01 L1252.47,68.07 L1252.42,69.13 L1252.35,70.2 L1252.27,71.26 L1252.16,72.32 L1252.04,73.37 L1251.89,74.43 L1251.73,75.48 L1251.55,76.53 L1251.35,77.57 L1251.12,78.61 L1250.88,79.65 L1250.62,80.68 L1250.35,81.71 L1250.05,82.73 L1249.73,83.75 L1249.4,84.76 L1249.04,85.76 L1248.67,86.76 L1248.28,87.75 L1247.87,88.73 L1247.44,89.7 L1247,90.67 L1246.53,91.63 L1246.05,92.58 L1245.56,93.52 L1245.04,94.45 L1244.51,95.37 L1243.96,96.28 L1243.39,97.18 L1242.81,98.07 L1242.21,98.95 L1241.6,99.82 L1240.97,100.68 L1240.32,101.52 L1239.66,102.36 L1238.98,103.18 L1238.29,103.99 L1237.58,104.78 L1236.86,105.56 L1236.12,106.33 L1235.37,107.09 L1234.61,107.83 L1233.83,108.55 L1233.04,109.26 L1232.23,109.96 L1231.42,110.64 L1230.59,111.31 L1229.75,111.96 L1228.89,112.6 L1228.03,113.22 L1227.15,113.82 L1226.27,114.41 L1225.37,114.98 L1224.46,115.54 L1223.54,116.07 L1222.61,116.59 L1221.68,117.1 L1220.73,117.58 L1219.77,118.05 L1218.81,118.5 L1217.84,118.94 L1216.86,119.35 L1215.87,119.75 L1214.87,120.13 L1213.87,120.49 L1212.87,120.83 L1211.85,121.15 L1210.83,121.45 L1209.81,121.74 L1208.78,122 L1207.74,122.25 L1206.7,122.48 L1205.66,122.69 L1204.61,122.88 L1203.56,123.05 L1202.51,123.2 L1201.45,123.33 L1200.39,123.44 L1199.33,123.53 L1198.27,123.6 L1197.21,123.65 L1196.14,123.69 L1195.08,123.7 L1194.01,123.69 L1192.95,123.67 L1191.89,123.62 L1190.83,123.56 L1189.76,123.47 L1188.71,123.37 L1187.65,123.24 L1186.59,123.1 L1185.54,122.93 L1184.49,122.75 L1183.45,122.55 L1182.41,122.33 L1181.37,122.09 L1180.34,121.83 L1179.31,121.55 L1178.29,121.25 L1177.27,120.94 L1176.26,120.6 L1175.26,120.25 L1174.26,119.88 L1173.27,119.49 L1172.29,119.08 L1171.32,118.65 L1170.35,118.21 L1169.39,117.74 L1168.44,117.26 L1167.5,116.77 L1166.57,116.25 L1165.65,115.72 L1164.74,115.17 L1163.83,114.6 L1162.94,114.02 L1162.06,113.42 L1161.2,112.81 L1160.34,112.18 L1159.49,111.53 L1158.66,110.87 L1157.84,110.19 L1157.03,109.5 L1156.23,108.79 L1155.45,108.07 L1154.68,107.34 L1153.93,106.59 L1153.19,105.82 L1152.46,105.04 L1151.75,104.25 L1151.05,103.45 L1150.37,102.63 L1149.7,101.81 L1149.05,100.96 L1148.41,100.11 L1147.79,99.25 L1147.19,98.37 L1146.6,97.48 L1146.03,96.59 L1145.47,95.68 L1144.94,94.76 L1144.42,93.83 L1143.91,92.89 L1143.43,91.95 L1142.96,90.99 L1142.51,90.03 L1142.07,89.06 L1141.66,88.08 L1141.26,87.09 L1140.88,86.09 L1140.52,85.09 L1140.18,84.09 L1139.86,83.07 L1139.55,82.05 L1139.27,81.03 L1139,80 L1138.75,78.96 L1138.53,77.92 L1138.32,76.88 L1138.13,75.83 L1137.96,74.78 L1137.81,73.73 L1137.68,72.67 L1137.56,71.61 L1137.47,70.55 L1137.4,69.49 L1137.35,68.43 L1137.31,67.36 L1137.3,66.3 L1137.31,65.24 L1137.33,64.17 L1137.38,63.11 L1137.46,62.05 L1137.57,60.99 L1137.71,59.94 L1137.89,58.89 L1138.1,57.84 L1138.35,56.81 L1138.63,55.78 L1138.94,54.77 L1139.28,53.76 L1139.65,52.77 L1140.05,51.79 L1140.49,50.83 L1140.95,49.88 L1141.45,48.94 L1141.97,48.02 L1142.52,47.13 L1143.11,46.25 L1143.71,45.39 L1144.35,44.55 L1145.01,43.73 L1145.7,42.94 L1146.41,42.17 L1147.15,41.43 L1147.9,40.71 L1148.69,40.02 L1149.49,39.35 Z" fill="#635593" stroke="#17181a" stroke-width="3" stroke-linejoin="miter" stroke-miterlimit="10"/>
<path d="M12.1,382.4 L13.03,382.06 L14,381.82 L15.01,381.68 L16.06,381.63 L17.15,381.67 L18.28,381.8 L19.45,382.02 L20.65,382.32 L21.88,382.7 L23.15,383.16 L24.44,383.68 L25.76,384.26 L27.11,384.9 L28.48,385.6 L29.86,386.33 L31.26,387.11 L32.68,387.91 L34.1,388.74 L35.53,389.58 L36.96,390.42 L38.39,391.27 L39.82,392.11 L41.25,392.93 L42.66,393.73 L44.06,394.5 L45.44,395.24 L46.81,395.92 L48.15,396.56 L49.47,397.14 L50.76,397.65 L52.02,398.1 L53.25,398.47 L54.45,398.77 L55.61,398.98 L56.74,399.1 L57.82,399.13 L58.87,399.07 L59.88,398.92 L60.84,398.67 L61.77,398.32 L62.65,397.88 L63.5,397.34 L64.3,396.7 L65.06,395.97 L65.79,395.15 L66.47,394.23 L67.12,393.23 L67.73,392.15 L68.32,390.99 L68.87,389.76 L69.39,388.46 L69.88,387.1 L70.35,385.68 L70.8,384.21 L71.23,382.7 L71.65,381.15 L72.05,379.57 L72.44,377.97 L72.83,376.36 L73.22,374.74 L73.6,373.12 L73.99,371.51 L74.39,369.92 L74.8,368.35 L75.22,366.81 L75.65,365.31 L76.11,363.86 L76.58,362.46 L77.09,361.11 L77.62,359.83 L78.17,358.62 L78.77,357.48 L79.39,356.43 L80.05,355.45 L80.75,354.57 L81.48,353.77 L82.26,353.07 L83.07,352.46 L83.93,351.95 L84.82,351.53 L85.76,351.22 L86.74,350.99 L87.76,350.87 L88.82,350.84 L89.92,350.9 L91.05,351.05 L92.23,351.28 L93.43,351.6 L94.67,352 L95.94,352.46 L97.24,353 L98.57,353.6 L99.92,354.25 L101.29,354.95 L102.68,355.69 L104.08,356.47 L105.5,357.28 L106.92,358.11 L108.35,358.95 L109.79,359.8 L111.22,360.65 L112.65,361.48 L114.07,362.3 L115.48,363.1 L116.87,363.86 L118.26,364.59 L119.62,365.26 L120.95,365.89 L122.27,366.46 L123.55,366.96 L124.81,367.39 L126.03,367.75 L127.22,368.02 L128.38,368.22 L129.5,368.32 L130.58,368.34 L131.62,368.26 L132.61,368.09 L133.57,367.82 L134.49,367.45 L135.37,366.99 L136.2,366.43 L137,365.77 L137.75,365.02 L138.47,364.18 L139.14,363.25 L139.79,362.23 L140.39,361.14 L140.97,359.96 L141.51,358.72 L142.03,357.4 L142.52,356.03 L142.98,354.6 L143.43,353.12 L143.85,351.6 L144.27,350.05 L144.67,348.46 L145.06,346.86 L145.45,345.25 L145.83,343.63 L146.22,342.01 L146.61,340.4 L147.01,338.81 L147.42,337.25 L147.84,335.72 L148.28,334.23 L148.74,332.78 L149.22,331.39 L149.73,330.06 L150.26,328.79 L150.83,327.6 L151.43,326.47 L152.06,325.43 L152.72,324.48 L153.43,323.61 L154.17,322.83 L154.95,322.15 L155.78,321.56 L156.64,321.07 L157.55,320.67 L158.49,320.37 L159.48,320.17 L160.51,320.06 L161.57,320.05 L162.68,320.13 L163.82,320.3 L165,320.55 L166.22,320.88 L167.46,321.29 L168.74,321.77 L170.05,322.32 L171.38,322.93 L172.73,323.59 L174.11,324.3 L175.5,325.06 L176.91,325.84 L178.32,326.66 L179.75,327.49 L181.18,328.33 L182.61,329.18 L184.05,330.02 L185.47,330.86 L186.89,331.67 L188.3,332.46 L189.69,333.22 L191.07,333.93 L192.42,334.6 L193.76,335.22 L195.07,335.77 L196.35,336.26 L197.6,336.68 L198.81,337.02 L200,337.28 L201.14,337.45 L202.25,337.54 L203.33,337.54 L204.36,337.44 L205.35,337.25 L206.3,336.96" fill="none" stroke="#fe4a03" stroke-width="13" stroke-linejoin="round"/>
<line x1="207" y1="336.5" x2="272" y2="318.5" stroke="#17181a" stroke-width="2.6"/>
<path d="M315.4,342 L262.8,326.62 L299.87,301.58 L343.71,292.36 Z" fill="#fdf3ea"/>
<path d="M315.4,342 L342.56,294.24 L343.56,294.45 L344.55,294.69 L345.53,294.96 L346.5,295.26 L347.47,295.59 L348.42,295.96 L349.37,296.36 L350.3,296.79 L351.22,297.25 L352.12,297.74 L353.01,298.26 L353.88,298.8 L354.74,299.38 L355.58,299.98 L356.39,300.61 L357.19,301.27 L357.97,301.95 L358.73,302.65 L359.46,303.38 L360.17,304.14 L360.86,304.91 L361.52,305.71 L362.16,306.53 L362.78,307.36 L363.36,308.22 L363.92,309.09 L364.45,309.99 L364.96,310.89 L365.46,311.8 L365.94,312.72 L366.4,313.65 L366.85,314.59 L367.28,315.53 L367.69,316.49 L368.08,317.45 L368.45,318.41 L368.81,319.39 L369.15,320.37 L369.47,321.36 L369.78,322.35 L370.06,323.35 L370.33,324.35 L370.58,325.36 L370.81,326.37 L371.02,327.39 L371.21,328.41 L371.38,329.43 L371.54,330.45 L371.68,331.48 L371.79,332.51 L371.89,333.55 L371.97,334.58 L372.03,335.62 L372.07,336.66 L372.1,337.69 L372.1,338.73 L372.08,339.77 L372.05,340.81 L372,341.84 L371.92,342.88 L371.83,343.91 L371.72,344.94 L371.59,345.97 L371.44,347 L371.28,348.02 L371.09,349.05 L370.89,350.06 L370.66,351.08 L370.42,352.09 L370.16,353.09 L369.88,354.09 L369.58,355.09 L369.27,356.07 L368.94,357.06 L368.59,358.03 L368.22,359 L367.83,359.97 L367.43,360.92 L367,361.87 L366.56,362.81 L366.11,363.74 L365.64,364.67 L365.15,365.58 L364.64,366.49 L364.12,367.38 L363.58,368.27 L363.02,369.15 L362.45,370.01 L361.86,370.87 L361.26,371.71 L360.64,372.55 L360.01,373.37 L359.36,374.18 L358.69,374.98 L358.02,375.76 L357.32,376.54 L356.62,377.3 L355.9,378.04 L355.16,378.78 L354.42,379.5 L353.66,380.21 L352.88,380.9 L352.1,381.58 L351.3,382.24 L350.49,382.89 L349.67,383.52 L348.83,384.14 L347.99,384.75 L347.14,385.33 L346.27,385.91 L345.39,386.46 L344.51,387 L343.61,387.53 L342.71,388.03 L341.79,388.52 L340.87,389 L339.94,389.45 L338.99,389.89 L338.05,390.32 L337.09,390.72 L336.13,391.11 L335.16,391.48 L334.18,391.83 L333.2,392.16 L332.21,392.48 L331.22,392.77 L330.22,393.05 L329.21,393.31 L328.2,393.56 L327.19,393.78 L326.17,393.98 L325.15,394.17 L324.13,394.34 L323.1,394.49 L322.07,394.62 L321.04,394.73 L320,394.82 L318.97,394.89 L317.93,394.95 L316.89,394.98 L315.86,395 L314.82,395 L313.78,394.97 L312.74,394.93 L311.71,394.87 L310.67,394.79 L309.64,394.7 L308.61,394.58 L307.58,394.44 L306.55,394.29 L305.53,394.12 L304.51,393.92 L303.49,393.71 L302.48,393.48 L301.47,393.23 L300.47,392.97 L299.47,392.68 L298.48,392.38 L297.49,392.06 L296.51,391.72 L295.54,391.36 L294.57,390.99 L293.61,390.6 L292.66,390.19 L291.71,389.76 L290.77,389.31 L289.84,388.85 L288.92,388.37 L288.01,387.88 L287.11,387.36 L286.22,386.84 L285.33,386.29 L284.46,385.73 L283.6,385.15 L282.75,384.56 L281.9,383.95 L281.07,383.33 L280.26,382.69 L279.45,382.03 L278.66,381.37 L277.87,380.68 L277.11,379.99 L276.35,379.28 L275.61,378.55 L274.88,377.81 L274.16,377.06 L273.46,376.3 L272.77,375.52 L272.1,374.73 L271.44,373.93 L270.8,373.11 L270.17,372.29 L269.55,371.45 L268.95,370.6 L268.37,369.74 L267.8,368.88 L267.25,368 L266.72,367.11 L266.2,366.21 L265.7,365.3 L265.22,364.38 L264.75,363.45 L264.3,362.52 L263.86,361.58 L263.45,360.63 L263.05,359.67 L262.67,358.7 L262.3,357.73 L261.96,356.75 L261.63,355.77 L261.32,354.78 L261.03,353.78 L260.76,352.78 L260.52,351.77 L260.31,350.75 L260.14,349.73 L259.99,348.7 L259.88,347.67 L259.81,346.64 L259.76,345.6 L259.75,344.57 L259.77,343.53 L259.82,342.5 L259.9,341.47 L260.02,340.44 L260.17,339.42 L260.35,338.41 L260.57,337.4 L260.81,336.4 L261.09,335.41 L261.4,334.43 L261.74,333.46 L262.11,332.51 L262.51,331.57 L262.94,330.64 L263.41,329.73 L263.89,328.84 L264.41,327.96 L264.96,327.1 Z" fill="#635593" stroke="#17181a" stroke-width="3" stroke-linejoin="miter" stroke-miterlimit="10"/>
<rect x="-25.25" y="-25.25" width="50.5" height="50.5" rx="7.5" fill="#72c8fc" stroke="#17181a" stroke-width="3" transform="translate(303.05,306.8) rotate(25)"/>
<text x="285" y="372.2" font-size="37" font-weight="bold" fill="#fff">POI</text>
<path d="M483.85,436.2 L484.52,435.45 L485.25,434.76 L486.05,434.12 L486.92,433.54 L487.85,433.01 L488.85,432.53 L489.91,432.1 L491.02,431.72 L492.2,431.39 L493.42,431.09 L494.69,430.84 L496.01,430.62 L497.37,430.44 L498.76,430.28 L500.19,430.15 L501.64,430.04 L503.11,429.95 L504.6,429.87 L506.1,429.8 L507.6,429.73 L509.1,429.66 L510.6,429.59 L512.09,429.51 L513.56,429.42 L515.01,429.31 L516.43,429.17 L517.82,429.02 L519.17,428.83 L520.49,428.61 L521.76,428.35 L522.98,428.05 L524.14,427.71 L525.25,427.33 L526.31,426.89 L527.3,426.41 L528.22,425.87 L529.09,425.29 L529.88,424.64 L530.61,423.94 L531.27,423.19 L531.86,422.38 L532.38,421.52 L532.83,420.6 L533.22,419.62 L533.54,418.59 L533.79,417.52 L533.99,416.39 L534.13,415.21 L534.21,413.99 L534.25,412.73 L534.23,411.43 L534.17,410.09 L534.07,408.72 L533.93,407.32 L533.77,405.89 L533.57,404.45 L533.36,402.99 L533.13,401.52 L532.9,400.03 L532.65,398.55 L532.41,397.06 L532.18,395.58 L531.95,394.11 L531.75,392.66 L531.56,391.22 L531.4,389.8 L531.28,388.41 L531.19,387.05 L531.14,385.72 L531.14,384.43 L531.19,383.18 L531.29,381.97 L531.44,380.81 L531.66,379.7 L531.93,378.63 L532.27,377.62 L532.68,376.66 L533.15,375.76 L533.69,374.91 L534.3,374.12 L534.98,373.38 L535.73,372.7 L536.55,372.07 L537.43,371.5 L538.37,370.98 L539.38,370.51 L540.45,370.1 L541.58,369.72 L542.77,369.4 L544,369.11 L545.28,368.87 L546.61,368.65 L547.97,368.48 L549.37,368.32 L550.8,368.2 L552.26,368.09 L553.74,368 L555.23,367.93 L556.73,367.86 L558.23,367.79 L559.73,367.72 L561.23,367.65 L562.71,367.57 L564.18,367.47 L565.62,367.35 L567.04,367.22 L568.42,367.05 L569.77,366.86 L571.07,366.63 L572.33,366.36 L573.54,366.06 L574.7,365.71 L575.8,365.31 L576.84,364.87 L577.82,364.38 L578.73,363.83 L579.58,363.23 L580.36,362.58 L581.07,361.87 L581.72,361.11 L582.29,360.29 L582.8,359.41 L583.24,358.48 L583.61,357.49 L583.92,356.45 L584.17,355.37 L584.35,354.23 L584.48,353.04 L584.55,351.81 L584.57,350.54 L584.55,349.23 L584.48,347.89 L584.37,346.51 L584.23,345.11 L584.06,343.68 L583.86,342.23 L583.64,340.77 L583.41,339.29 L583.18,337.81 L582.93,336.32 L582.69,334.84 L582.46,333.36 L582.24,331.89 L582.03,330.44 L581.86,329 L581.7,327.59 L581.58,326.21 L581.5,324.85 L581.46,323.53 L581.47,322.25 L581.53,321.01 L581.64,319.81 L581.81,318.66 L582.03,317.55 L582.32,316.5 L582.68,315.5 L583.1,314.55 L583.58,313.66 L584.14,312.82 L584.76,312.04 L585.45,311.31 L586.22,310.64 L587.04,310.03 L587.94,309.47 L588.9,308.96 L589.92,308.5 L591,308.09 L592.14,307.73 L593.34,307.41 L594.58,307.13 L595.87,306.89 L597.21,306.69 L598.58,306.52 L599.99,306.37 L601.42,306.25 L602.88,306.15 L604.36,306.06 L605.85,305.98 L607.35,305.92 L608.86,305.85 L610.36,305.78 L611.85,305.71 L613.33,305.62 L614.8,305.52 L616.23,305.4 L617.64,305.26 L619.02,305.09 L620.36,304.89 L621.66,304.65 L622.9,304.38 L624.1,304.06 L625.25,303.71 L626.34,303.3 L627.36,302.85 L628.33,302.35 L629.23,301.79 L630.07,301.18 L630.83,300.51 L631.53,299.79" fill="none" stroke="#fe4a03" stroke-width="13" stroke-linejoin="round"/>
<path d="M633,301.5 Q662,294 687,316" fill="none" stroke="#17181a" stroke-width="2.6"/>
<path d="M733.8,369.8 L741.34,315.32 L742.37,315.12 L743.41,314.96 L744.45,314.84 L745.5,314.75 L746.56,314.7 L747.61,314.68 L748.67,314.69 L749.73,314.74 L750.78,314.83 L751.84,314.95 L752.89,315.11 L753.93,315.3 L754.97,315.52 L756.01,315.78 L757.03,316.07 L758.05,316.4 L759.05,316.76 L760.05,317.15 L761.03,317.57 L762,318.03 L762.95,318.51 L763.89,319.03 L764.81,319.58 L765.71,320.15 L766.59,320.76 L767.45,321.39 L768.3,322.05 L769.14,322.72 L769.96,323.41 L770.77,324.11 L771.56,324.82 L772.34,325.56 L773.11,326.3 L773.87,327.06 L774.61,327.84 L775.33,328.63 L776.04,329.43 L776.73,330.24 L777.41,331.07 L778.08,331.91 L778.72,332.77 L779.36,333.63 L779.97,334.51 L780.57,335.4 L781.15,336.3 L781.72,337.21 L782.26,338.13 L782.79,339.06 L783.31,340 L783.8,340.95 L784.28,341.91 L784.74,342.87 L785.18,343.85 L785.6,344.84 L786,345.83 L786.39,346.83 L786.75,347.83 L787.1,348.85 L787.43,349.87 L787.74,350.89 L788.02,351.92 L788.29,352.96 L788.54,354 L788.78,355.05 L788.99,356.1 L789.18,357.15 L789.35,358.21 L789.5,359.27 L789.63,360.33 L789.74,361.4 L789.83,362.46 L789.91,363.53 L789.96,364.6 L789.99,365.67 L790,366.74 L789.99,367.81 L789.96,368.88 L789.91,369.95 L789.84,371.02 L789.75,372.09 L789.64,373.16 L789.52,374.22 L789.37,375.28 L789.2,376.34 L789.01,377.39 L788.8,378.44 L788.57,379.49 L788.32,380.53 L788.05,381.57 L787.77,382.6 L787.46,383.62 L787.13,384.65 L786.79,385.66 L786.43,386.67 L786.04,387.67 L785.64,388.66 L785.22,389.64 L784.78,390.62 L784.33,391.59 L783.85,392.55 L783.36,393.5 L782.85,394.44 L782.32,395.37 L781.77,396.3 L781.21,397.21 L780.63,398.11 L780.04,399 L779.42,399.88 L778.79,400.74 L778.15,401.6 L777.49,402.44 L776.81,403.27 L776.11,404.08 L775.41,404.89 L774.68,405.68 L773.95,406.45 L773.19,407.22 L772.43,407.96 L771.65,408.7 L770.85,409.42 L770.05,410.12 L769.22,410.81 L768.39,411.48 L767.55,412.14 L766.69,412.78 L765.82,413.4 L764.94,414.01 L764.04,414.6 L763.14,415.18 L762.23,415.74 L761.3,416.28 L760.37,416.8 L759.42,417.31 L758.47,417.79 L757.51,418.26 L756.53,418.71 L755.56,419.15 L754.57,419.56 L753.57,419.96 L752.57,420.34 L751.56,420.69 L750.55,421.03 L749.52,421.35 L748.5,421.65 L747.46,421.93 L746.42,422.2 L745.38,422.44 L744.33,422.66 L743.28,422.87 L742.23,423.05 L741.17,423.21 L740.11,423.36 L739.04,423.48 L737.98,423.58 L736.91,423.67 L735.84,423.73 L734.77,423.77 L733.7,423.8 L732.63,423.8 L731.56,423.78 L730.49,423.74 L729.42,423.69 L728.35,423.61 L727.28,423.51 L726.22,423.4 L725.16,423.26 L724.1,423.1 L723.04,422.92 L721.99,422.73 L720.94,422.51 L719.89,422.27 L718.85,422.02 L717.82,421.74 L716.79,421.45 L715.77,421.13 L714.75,420.8 L713.74,420.45 L712.73,420.07 L711.73,419.68 L710.74,419.28 L709.76,418.85 L708.79,418.4 L707.82,417.94 L706.87,417.46 L705.92,416.96 L704.98,416.44 L704.05,415.9 L703.14,415.35 L702.23,414.78 L701.33,414.19 L700.45,413.59 L699.58,412.97 L698.71,412.34 L697.86,411.68 L697.03,411.02 L696.2,410.33 L695.39,409.63 L694.59,408.92 L693.81,408.19 L693.04,407.45 L692.28,406.69 L691.54,405.92 L690.81,405.13 L690.1,404.33 L689.4,403.52 L688.72,402.69 L688.05,401.85 L687.4,401 L686.77,400.14 L686.15,399.27 L685.55,398.38 L684.96,397.48 L684.39,396.57 L683.85,395.65 L683.34,394.71 L682.85,393.76 L682.4,392.79 L681.98,391.8 L681.59,390.81 L681.23,389.8 L680.91,388.78 L680.62,387.75 L680.36,386.72 L680.14,385.67 L679.95,384.63 L679.79,383.57 L679.67,382.51 L679.59,381.45 L679.54,380.39 L679.52,379.33 L679.54,378.27 L679.59,377.22 L679.68,376.16 L679.81,375.11 L679.97,374.07 L680.16,373.04 L680.39,372.01 L680.65,370.99 L680.94,369.98 Z" fill="#635593" stroke="#17181a" stroke-width="3" stroke-linejoin="miter" stroke-miterlimit="10"/>
<rect x="-26.25" y="-26.25" width="52.5" height="52.5" rx="8" fill="#72c8fc" stroke="#17181a" stroke-width="3" transform="translate(708.5,340.3) rotate(3)"/>
<path d="M367,242.7 Q450.5,230.2 537,272.5" fill="none" stroke="#2b2d32" stroke-width="8.8"/><path d="M555,283 L530,252 L541,273.5 L521.8,281.3 Z" fill="#2b2d32"/>
<path d="M538.8,517.6 Q509.2,586.6 439,616" fill="none" stroke="#2b2d32" stroke-width="9"/><path d="M418.6,627.4 L435.6,605.3 L439,617 L454.3,625.4 Z" fill="#2b2d32"/>
<path d="M463.3,722.3 Q618.35,745.85 768,700" fill="none" stroke="#2b2d32" stroke-width="11.2"/><path d="M814.2,686.4 L752.1,685.6 L777,698.5 L768.4,721.3 Z" fill="#2b2d32"/>
<ellipse cx="259.15" cy="636.65" rx="129.2" ry="131.5" fill="none" stroke="#1ba6c9" stroke-width="10"/>
<ellipse cx="259.15" cy="636.65" rx="124.19999999999999" ry="126.5" fill="none" stroke="#17181a" stroke-width="1.2"/>
<ellipse cx="259.15" cy="636.65" rx="134.2" ry="136.5" fill="none" stroke="#17181a" stroke-width="1.2"/>
<path d="M231.9,545.2 L231.86,545.6 L231.78,545.99 L231.65,546.39 L231.49,546.78 L231.28,547.17 L231.03,547.56 L230.74,547.95 L230.41,548.33 L230.05,548.72 L229.66,549.1 L229.23,549.48 L228.78,549.86 L228.3,550.24 L227.8,550.62 L227.28,551 L226.74,551.37 L226.19,551.75 L225.62,552.13 L225.06,552.5 L224.48,552.88 L223.91,553.25 L223.34,553.63 L222.78,554 L222.23,554.38 L221.7,554.76 L221.18,555.13 L220.68,555.51 L220.2,555.89 L219.75,556.27 L219.33,556.65 L218.94,557.04 L218.58,557.42 L218.26,557.81 L217.97,558.19 L217.73,558.58 L217.52,558.97 L217.36,559.37 L217.24,559.76 L217.16,560.16 L217.12,560.55 L217.13,560.95 L217.19,561.36 L217.28,561.76 L217.42,562.16 L217.6,562.57 L217.82,562.98 L218.08,563.39 L218.38,563.8 L218.71,564.22 L219.07,564.63 L219.47,565.05 L219.89,565.46 L220.34,565.88 L220.81,566.3 L221.3,566.72 L221.8,567.14 L222.32,567.56 L222.85,567.98 L223.39,568.4 L223.93,568.83 L224.46,569.25 L225,569.67 L225.53,570.09 L226.04,570.51 L226.54,570.93 L227.03,571.35 L227.49,571.77 L227.93,572.19 L228.35,572.61 L228.73,573.02 L229.09,573.44 L229.41,573.85 L229.69,574.26 L229.94,574.67 L230.15,575.08 L230.32,575.48 L230.44,575.89 L230.53,576.29 L230.57,576.69 L230.56,577.09 L230.52,577.49 L230.42,577.88 L230.29,578.28 L230.11,578.67 L229.9,579.06 L229.64,579.45 L229.34,579.84 L229.01,580.22 L228.64,580.61 L228.24,580.99 L227.81,581.37 L227.35,581.75 L226.87,582.13 L226.36,582.51 L225.84,582.88 L225.29,583.26 L224.74,583.64 L224.18,584.01 L223.61,584.39 L223.04,584.76 L222.47,585.14 L221.9,585.51 L221.34,585.89 L220.79,586.27 L220.26,586.64 L219.74,587.02 L219.25,587.4 L218.78,587.78 L218.33,588.16 L217.91,588.54 L217.53,588.93 L217.18,589.31 L216.86,589.7 L216.59,590.08 L216.35,590.47 L216.15,590.86 L216,591.26 L215.88,591.65 L215.81,592.05 L215.79,592.45 L215.81,592.85 L215.87,593.25 L215.97,593.65 L216.12,594.06 L216.31,594.47 L216.54,594.87 L216.8,595.28 L217.11,595.7 L217.45,596.11 L217.82,596.52 L218.22,596.94 L218.64,597.36 L219.1,597.78 L219.57,598.2 L220.07,598.62 L220.57,599.04 L221.1,599.46 L221.63,599.88 L222.16,600.3 L222.7,600.72 L223.24,601.15 L223.77,601.57 L224.3,601.99 L224.81,602.41 L225.31,602.83 L225.79,603.25 L226.25,603.67 L226.68,604.08 L227.09,604.5 L227.47,604.92 L227.82,605.33 L228.13,605.74 L228.41,606.15 L228.65,606.56 L228.85,606.97 L229.01,607.38 L229.13,607.78 L229.2,608.18 L229.24,608.58 L229.22,608.98 L229.17,609.38 L229.07,609.78 L228.93,610.17 L228.74,610.56 L228.52,610.95 L228.25,611.34 L227.95,611.73 L227.61,612.11 L227.23,612.49 L226.82,612.88 L226.39,613.26 L225.92,613.64 L225.43,614.02 L224.92,614.39 L224.4,614.77 L223.85,615.15 L223.3,615.52 L222.73,615.9 L222.16,616.28 L221.59,616.65 L221.02,617.03 L220.45,617.4 L219.9,617.78 L219.35,618.15 L218.82,618.53 L218.31,618.91 L217.82,619.29 L217.35,619.67 L216.91,620.05 L216.5,620.43 L216.12,620.81 L215.78,621.2 L215.47,621.59 L215.2,621.97 L214.97,622.36 L214.78,622.75 L214.64,623.15 L214.53,623.54 L214.47,623.94" fill="none" stroke="#fe4a03" stroke-width="4.8" stroke-linejoin="round"/>
<path d="M233,544 C240,534 250,537 258,535 C264,533 268,535 270,540" fill="none" stroke="#17181a" stroke-width="1.3"/>
<path d="M278.7,572.3 L291.35,553.92 L291.76,554.04 L292.16,554.16 L292.56,554.3 L292.96,554.46 L293.35,554.62 L293.74,554.8 L294.12,555 L294.49,555.2 L294.86,555.42 L295.22,555.65 L295.57,555.89 L295.92,556.15 L296.26,556.41 L296.59,556.69 L296.91,556.97 L297.22,557.27 L297.52,557.58 L297.81,557.89 L298.1,558.22 L298.37,558.56 L298.63,558.9 L298.88,559.25 L299.12,559.61 L299.35,559.98 L299.56,560.35 L299.77,560.73 L299.96,561.12 L300.14,561.51 L300.32,561.9 L300.49,562.3 L300.66,562.7 L300.81,563.11 L300.96,563.51 L301.1,563.92 L301.23,564.33 L301.36,564.74 L301.48,565.16 L301.59,565.58 L301.69,566 L301.78,566.42 L301.87,566.84 L301.95,567.27 L302.02,567.69 L302.08,568.12 L302.14,568.55 L302.18,568.98 L302.22,569.41 L302.25,569.84 L302.28,570.27 L302.29,570.71 L302.3,571.14 L302.3,571.57 L302.29,572 L302.27,572.43 L302.25,572.87 L302.21,573.3 L302.17,573.73 L302.12,574.16 L302.07,574.58 L302,575.01 L301.93,575.44 L301.85,575.86 L301.76,576.29 L301.66,576.71 L301.56,577.13 L301.45,577.54 L301.33,577.96 L301.2,578.37 L301.07,578.78 L300.92,579.19 L300.77,579.6 L300.62,580 L300.45,580.4 L300.28,580.79 L300.1,581.19 L299.91,581.58 L299.72,581.96 L299.52,582.34 L299.31,582.72 L299.09,583.1 L298.87,583.47 L298.64,583.84 L298.4,584.2 L298.16,584.55 L297.91,584.91 L297.66,585.26 L297.4,585.6 L297.13,585.94 L296.85,586.27 L296.57,586.6 L296.28,586.92 L295.99,587.24 L295.69,587.55 L295.39,587.86 L295.08,588.16 L294.76,588.46 L294.44,588.75 L294.12,589.03 L293.79,589.31 L293.45,589.58 L293.11,589.84 L292.76,590.1 L292.41,590.35 L292.05,590.6 L291.69,590.84 L291.33,591.07 L290.96,591.3 L290.59,591.51 L290.21,591.73 L289.83,591.93 L289.44,592.13 L289.06,592.32 L288.67,592.5 L288.27,592.68 L287.87,592.84 L287.47,593.01 L287.07,593.16 L286.66,593.3 L286.25,593.44 L285.84,593.57 L285.42,593.7 L285.01,593.81 L284.59,593.92 L284.17,594.02 L283.75,594.11 L283.32,594.2 L282.9,594.27 L282.47,594.34 L282.04,594.4 L281.61,594.45 L281.18,594.5 L280.75,594.53 L280.32,594.56 L279.89,594.58 L279.46,594.6 L279.03,594.6 L278.59,594.6 L278.16,594.58 L277.73,594.57 L277.3,594.54 L276.87,594.5 L276.44,594.46 L276.01,594.41 L275.58,594.35 L275.15,594.28 L274.73,594.21 L274.3,594.12 L273.88,594.03 L273.46,593.93 L273.04,593.83 L272.63,593.71 L272.21,593.59 L271.8,593.46 L271.39,593.32 L270.98,593.18 L270.58,593.02 L270.18,592.86 L269.78,592.7 L269.38,592.52 L268.99,592.34 L268.6,592.15 L268.22,591.95 L267.84,591.75 L267.46,591.54 L267.08,591.32 L266.72,591.1 L266.35,590.87 L265.99,590.63 L265.63,590.38 L265.28,590.13 L264.93,589.88 L264.59,589.61 L264.26,589.34 L263.92,589.06 L263.6,588.78 L263.27,588.49 L262.96,588.2 L262.65,587.9 L262.34,587.59 L262.04,587.28 L261.75,586.96 L261.46,586.64 L261.18,586.31 L260.91,585.98 L260.64,585.64 L260.37,585.3 L260.12,584.95 L259.87,584.6 L259.62,584.24 L259.39,583.88 L259.16,583.51 L258.93,583.14 L258.72,582.77 L258.51,582.39 L258.31,582.01 L258.11,581.62 L257.92,581.23 L257.74,580.84 L257.57,580.45 L257.4,580.05 L257.25,579.64 L257.09,579.24 L256.95,578.83 L256.81,578.42 L256.69,578.01 L256.57,577.59 L256.45,577.18 L256.35,576.76 L256.25,576.34 L256.16,575.91 L256.08,575.49 L256.01,575.06 L255.94,574.64 L255.89,574.21 L255.85,573.78 L255.82,573.35 L255.81,572.91 L255.81,572.48 L255.83,572.05 L255.86,571.62 L255.9,571.19 L255.96,570.76 L256.03,570.34 L256.11,569.92 L256.21,569.5 L256.32,569.08 L256.44,568.67 L256.58,568.26 L256.73,567.86 L256.89,567.47 L257.06,567.08 L257.25,566.69 L257.45,566.32 L257.66,565.95 L257.88,565.58 L258.12,565.23 L258.37,564.88 L258.62,564.55 L258.89,564.22 Z" fill="#635593" stroke="#17181a" stroke-width="1.4" stroke-linejoin="miter" stroke-miterlimit="10"/>
<rect x="-11.75" y="-11.75" width="23.5" height="23.5" rx="0" fill="#72c8fc" stroke="#17181a" stroke-width="1.3" transform="translate(274.2,555.2) rotate(25.7)"/>
<path d="M268.3,675.6 L268.58,675.32 L268.9,675.07 L269.25,674.84 L269.63,674.65 L270.04,674.48 L270.48,674.34 L270.95,674.22 L271.44,674.13 L271.97,674.07 L272.51,674.03 L273.08,674 L273.68,674 L274.29,674.01 L274.92,674.04 L275.56,674.08 L276.21,674.13 L276.88,674.2 L277.55,674.26 L278.23,674.34 L278.91,674.41 L279.59,674.49 L280.26,674.56 L280.94,674.63 L281.6,674.69 L282.25,674.74 L282.89,674.78 L283.52,674.81 L284.13,674.82 L284.72,674.81 L285.29,674.79 L285.83,674.74 L286.35,674.67 L286.85,674.58 L287.31,674.47 L287.75,674.32 L288.16,674.15 L288.54,673.95 L288.88,673.73 L289.19,673.47 L289.47,673.19 L289.72,672.87 L289.93,672.53 L290.12,672.16 L290.27,671.76 L290.39,671.33 L290.48,670.87 L290.54,670.39 L290.58,669.89 L290.59,669.36 L290.57,668.81 L290.53,668.23 L290.47,667.64 L290.39,667.04 L290.3,666.41 L290.19,665.78 L290.06,665.13 L289.93,664.47 L289.79,663.81 L289.65,663.15 L289.5,662.48 L289.36,661.81 L289.22,661.14 L289.08,660.48 L288.95,659.83 L288.83,659.19 L288.72,658.56 L288.63,657.94 L288.56,657.33 L288.51,656.75 L288.47,656.18 L288.47,655.64 L288.48,655.11 L288.52,654.62 L288.59,654.14 L288.69,653.69 L288.82,653.27 L288.98,652.88 L289.18,652.52 L289.4,652.18 L289.66,651.88 L289.95,651.6 L290.27,651.36 L290.63,651.14 L291.01,650.95 L291.43,650.79 L291.87,650.65 L292.35,650.54 L292.85,650.46 L293.38,650.4 L293.93,650.36 L294.51,650.34 L295.1,650.34 L295.72,650.35 L296.35,650.39 L296.99,650.43 L297.65,650.48 L298.32,650.55 L298.99,650.62 L299.67,650.69 L300.35,650.77 L301.03,650.84 L301.7,650.91 L302.37,650.98 L303.04,651.04 L303.69,651.09 L304.33,651.13 L304.95,651.15 L305.55,651.16 L306.14,651.15 L306.7,651.12 L307.24,651.07 L307.76,651 L308.25,650.9 L308.71,650.78 L309.14,650.63 L309.54,650.45 L309.91,650.25 L310.25,650.02 L310.56,649.76 L310.83,649.47 L311.07,649.15 L311.28,648.8 L311.46,648.42 L311.6,648.01 L311.72,647.58 L311.8,647.12 L311.86,646.63 L311.89,646.12 L311.89,645.59 L311.87,645.03 L311.82,644.46 L311.76,643.86 L311.68,643.25 L311.58,642.62 L311.47,641.99 L311.34,641.34 L311.21,640.68 L311.07,640.02 L310.93,639.35 L310.78,638.68 L310.63,638.01 L310.49,637.35 L310.36,636.69 L310.23,636.04 L310.11,635.4 L310.01,634.77 L309.92,634.15 L309.85,633.55 L309.8,632.97 L309.78,632.41 L309.77,631.87 L309.79,631.35 L309.84,630.86 L309.92,630.39 L310.02,629.95 L310.16,629.53 L310.33,629.15 L310.52,628.79 L310.76,628.46 L311.02,628.16 L311.32,627.89 L311.64,627.65 L312,627.44 L312.4,627.25 L312.82,627.1 L313.27,626.97 L313.75,626.86 L314.26,626.78 L314.79,626.73 L315.35,626.69 L315.93,626.67 L316.53,626.68 L317.15,626.7 L317.78,626.73 L318.43,626.78 L319.09,626.83 L319.76,626.9 L320.43,626.97 L321.11,627.04 L321.79,627.12 L322.47,627.19 L323.14,627.26 L323.81,627.33 L324.47,627.39 L325.12,627.43 L325.76,627.47 L326.38,627.49 L326.98,627.5 L327.56,627.48 L328.12,627.45 L328.65,627.4 L329.17,627.32 L329.65,627.22 L330.1,627.09 L330.53,626.93 L330.92,626.75 L331.29,626.54 L331.62,626.31 L331.92,626.04" fill="none" stroke="#fe4a03" stroke-width="4.8" stroke-linejoin="round"/>
<path d="M331.5,626.6 Q362,630 351,656" fill="none" stroke="#17181a" stroke-width="1.3"/>
<path d="M326.5,673.8 L345.41,685.32 L345.33,685.73 L345.24,686.13 L345.13,686.54 L345.02,686.94 L344.88,687.34 L344.74,687.73 L344.58,688.12 L344.41,688.5 L344.22,688.88 L344.03,689.26 L343.82,689.63 L343.6,689.99 L343.37,690.34 L343.13,690.69 L342.87,691.03 L342.61,691.36 L342.33,691.68 L342.05,692 L341.75,692.3 L341.45,692.6 L341.13,692.88 L340.81,693.16 L340.48,693.43 L340.14,693.68 L339.79,693.93 L339.44,694.16 L339.07,694.39 L338.71,694.6 L338.34,694.81 L337.96,695.01 L337.58,695.21 L337.2,695.4 L336.81,695.58 L336.43,695.75 L336.03,695.92 L335.64,696.08 L335.24,696.23 L334.84,696.38 L334.44,696.51 L334.03,696.64 L333.62,696.77 L333.21,696.88 L332.8,696.99 L332.39,697.09 L331.97,697.18 L331.56,697.27 L331.14,697.35 L330.72,697.42 L330.3,697.48 L329.87,697.53 L329.45,697.58 L329.03,697.62 L328.6,697.65 L328.18,697.68 L327.75,697.69 L327.32,697.7 L326.9,697.7 L326.47,697.69 L326.05,697.68 L325.62,697.65 L325.2,697.62 L324.77,697.58 L324.35,697.54 L323.93,697.48 L323.51,697.42 L323.09,697.35 L322.67,697.27 L322.25,697.19 L321.83,697.1 L321.42,697 L321.01,696.89 L320.6,696.77 L320.19,696.65 L319.78,696.52 L319.38,696.38 L318.98,696.24 L318.58,696.09 L318.19,695.93 L317.8,695.76 L317.41,695.59 L317.02,695.41 L316.64,695.22 L316.26,695.03 L315.89,694.82 L315.51,694.62 L315.15,694.4 L314.78,694.18 L314.42,693.95 L314.07,693.71 L313.72,693.47 L313.37,693.23 L313.03,692.97 L312.69,692.71 L312.36,692.44 L312.03,692.17 L311.71,691.89 L311.39,691.61 L311.08,691.32 L310.77,691.02 L310.47,690.72 L310.18,690.42 L309.89,690.1 L309.6,689.79 L309.33,689.46 L309.05,689.14 L308.79,688.81 L308.53,688.47 L308.27,688.13 L308.02,687.78 L307.78,687.43 L307.55,687.07 L307.32,686.71 L307.1,686.35 L306.88,685.98 L306.67,685.61 L306.47,685.24 L306.28,684.86 L306.09,684.48 L305.91,684.09 L305.74,683.7 L305.57,683.31 L305.41,682.91 L305.26,682.52 L305.11,682.12 L304.98,681.71 L304.85,681.31 L304.72,680.9 L304.61,680.49 L304.5,680.08 L304.4,679.66 L304.31,679.25 L304.22,678.83 L304.15,678.41 L304.08,677.99 L304.02,677.57 L303.96,677.15 L303.92,676.72 L303.88,676.3 L303.85,675.87 L303.82,675.45 L303.81,675.02 L303.8,674.6 L303.8,674.17 L303.81,673.75 L303.83,673.32 L303.85,672.9 L303.88,672.47 L303.92,672.05 L303.97,671.62 L304.02,671.2 L304.08,670.78 L304.15,670.36 L304.23,669.94 L304.32,669.52 L304.41,669.11 L304.51,668.69 L304.62,668.28 L304.73,667.87 L304.86,667.46 L304.99,667.06 L305.12,666.66 L305.27,666.26 L305.42,665.86 L305.58,665.46 L305.75,665.07 L305.92,664.68 L306.1,664.3 L306.29,663.92 L306.49,663.54 L306.69,663.16 L306.9,662.79 L307.11,662.42 L307.34,662.06 L307.56,661.7 L307.8,661.35 L308.04,661 L308.29,660.65 L308.54,660.31 L308.81,659.97 L309.07,659.64 L309.35,659.31 L309.62,658.99 L309.91,658.67 L310.2,658.36 L310.49,658.06 L310.8,657.75 L311.1,657.46 L311.42,657.17 L311.73,656.89 L312.06,656.61 L312.38,656.34 L312.72,656.07 L313.05,655.81 L313.4,655.56 L313.74,655.31 L314.09,655.07 L314.45,654.83 L314.81,654.61 L315.17,654.38 L315.54,654.17 L315.91,653.96 L316.29,653.76 L316.67,653.57 L317.05,653.38 L317.43,653.2 L317.82,653.03 L318.22,652.86 L318.61,652.7 L319.01,652.55 L319.41,652.41 L319.81,652.27 L320.22,652.14 L320.63,652.02 L321.04,651.91 L321.45,651.82 L321.87,651.73 L322.29,651.66 L322.71,651.61 L323.14,651.57 L323.56,651.54 L323.99,651.52 L324.41,651.52 L324.83,651.53 L325.26,651.56 L325.68,651.59 L326.1,651.64 L326.52,651.71 L326.93,651.79 L327.35,651.88 L327.76,651.98 L328.16,652.1 L328.56,652.23 L328.96,652.37 L329.35,652.52 L329.73,652.69 L330.11,652.87 L330.48,653.06 L330.85,653.26 L331.2,653.48 Z" fill="#635593" stroke="#17181a" stroke-width="1.4" stroke-linejoin="miter" stroke-miterlimit="10"/>
<rect x="-11.9" y="-11.9" width="23.8" height="23.8" rx="0" fill="#72c8fc" stroke="#17181a" stroke-width="1.3" transform="translate(343.1,666.6) rotate(21.3)"/>
<path d="M192.6,714.3 L193,714.32 L193.4,714.39 L193.8,714.5 L194.2,714.65 L194.59,714.84 L194.99,715.07 L195.39,715.35 L195.79,715.65 L196.19,716 L196.59,716.38 L196.99,716.79 L197.39,717.22 L197.79,717.69 L198.19,718.17 L198.58,718.68 L198.98,719.2 L199.38,719.73 L199.78,720.28 L200.18,720.83 L200.58,721.39 L200.98,721.94 L201.38,722.49 L201.78,723.04 L202.18,723.57 L202.57,724.09 L202.97,724.6 L203.37,725.08 L203.77,725.54 L204.17,725.98 L204.57,726.38 L204.97,726.76 L205.37,727.1 L205.77,727.4 L206.17,727.67 L206.56,727.9 L206.96,728.09 L207.36,728.24 L207.76,728.34 L208.16,728.4 L208.56,728.42 L208.96,728.39 L209.36,728.32 L209.76,728.21 L210.16,728.06 L210.55,727.86 L210.95,727.62 L211.35,727.35 L211.75,727.03 L212.15,726.68 L212.55,726.3 L212.95,725.89 L213.35,725.45 L213.75,724.99 L214.15,724.5 L214.54,723.99 L214.94,723.47 L215.34,722.93 L215.74,722.38 L216.14,721.83 L216.54,721.28 L216.94,720.72 L217.34,720.17 L217.74,719.63 L218.14,719.09 L218.53,718.58 L218.93,718.07 L219.33,717.59 L219.73,717.13 L220.13,716.7 L220.53,716.3 L220.93,715.93 L221.33,715.59 L221.73,715.29 L222.13,715.02 L222.52,714.8 L222.92,714.61 L223.32,714.47 L223.72,714.37 L224.12,714.31 L224.52,714.3 L224.92,714.33 L225.32,714.41 L225.72,714.52 L226.12,714.68 L226.51,714.88 L226.91,715.12 L227.31,715.4 L227.71,715.72 L228.11,716.07 L228.51,716.46 L228.91,716.87 L229.31,717.31 L229.71,717.78 L230.11,718.27 L230.5,718.78 L230.9,719.31 L231.3,719.84 L231.7,720.39 L232.1,720.94 L232.5,721.5 L232.9,722.05 L233.3,722.6 L233.7,723.15 L234.1,723.68 L234.49,724.2 L234.89,724.7 L235.29,725.17 L235.69,725.63 L236.09,726.06 L236.49,726.46 L236.89,726.83 L237.29,727.16 L237.69,727.46 L238.09,727.72 L238.48,727.94 L238.88,728.12 L239.28,728.26 L239.68,728.36 L240.08,728.41 L240.48,728.42 L240.88,728.38 L241.28,728.3 L241.68,728.18 L242.08,728.02 L242.47,727.81 L242.87,727.57 L243.27,727.29 L243.67,726.97 L244.07,726.61 L244.47,726.22 L244.87,725.81 L245.27,725.36 L245.67,724.89 L246.07,724.4 L246.46,723.89 L246.86,723.36 L247.26,722.82 L247.66,722.27 L248.06,721.72 L248.46,721.17 L248.86,720.61 L249.26,720.06 L249.66,719.52 L250.06,718.99 L250.45,718.47 L250.85,717.98 L251.25,717.5 L251.65,717.05 L252.05,716.62 L252.45,716.22 L252.85,715.86 L253.25,715.53 L253.65,715.23 L254.05,714.98 L254.44,714.76 L254.84,714.58 L255.24,714.45 L255.64,714.36 L256.04,714.31 L256.44,714.3 L256.84,714.34 L257.24,714.43 L257.64,714.55 L258.04,714.72 L258.43,714.93 L258.83,715.18 L259.23,715.46 L259.63,715.79 L260.03,716.15 L260.43,716.54 L260.83,716.96 L261.23,717.41 L261.63,717.88 L262.03,718.37 L262.42,718.88 L262.82,719.41 L263.22,719.95 L263.62,720.5 L264.02,721.05 L264.42,721.61 L264.82,722.16 L265.22,722.71 L265.62,723.25 L266.02,723.78 L266.41,724.3 L266.81,724.79 L267.21,725.27 L267.61,725.72 L268.01,726.14 L268.41,726.54 L268.81,726.9 L269.21,727.22 L269.61,727.52 L270.01,727.77 L270.4,727.98 L270.8,728.15 L271.2,728.28 L271.6,728.37 L272,728.41" fill="none" stroke="#fe4a03" stroke-width="4.8" stroke-linejoin="round"/>
<path d="M180,697 Q182,710 193,715" fill="none" stroke="#17181a" stroke-width="1.3"/>
<path d="M196.5,670 L176.36,669.69 L176.19,669.3 L176.03,668.9 L175.89,668.5 L175.77,668.09 L175.65,667.67 L175.56,667.26 L175.47,666.84 L175.4,666.41 L175.35,665.98 L175.3,665.56 L175.28,665.12 L175.27,664.69 L175.27,664.26 L175.28,663.83 L175.31,663.4 L175.36,662.96 L175.42,662.54 L175.49,662.11 L175.58,661.68 L175.68,661.26 L175.8,660.84 L175.93,660.43 L176.07,660.02 L176.23,659.61 L176.4,659.21 L176.58,658.81 L176.77,658.42 L176.97,658.04 L177.17,657.65 L177.39,657.27 L177.61,656.9 L177.83,656.53 L178.07,656.16 L178.31,655.8 L178.56,655.44 L178.81,655.09 L179.07,654.74 L179.34,654.4 L179.62,654.06 L179.9,653.73 L180.18,653.4 L180.48,653.08 L180.78,652.77 L181.08,652.46 L181.4,652.15 L181.71,651.85 L182.04,651.56 L182.36,651.28 L182.7,651 L183.04,650.73 L183.38,650.46 L183.73,650.2 L184.09,649.95 L184.45,649.71 L184.81,649.47 L185.18,649.24 L185.55,649.01 L185.93,648.8 L186.31,648.59 L186.7,648.39 L187.09,648.19 L187.48,648 L187.87,647.82 L188.27,647.65 L188.68,647.49 L189.08,647.33 L189.49,647.18 L189.9,647.04 L190.32,646.91 L190.73,646.79 L191.15,646.67 L191.58,646.56 L192,646.46 L192.42,646.37 L192.85,646.28 L193.28,646.21 L193.71,646.14 L194.14,646.08 L194.57,646.03 L195,645.99 L195.44,645.95 L195.87,645.93 L196.31,645.91 L196.74,645.9 L197.18,645.9 L197.61,645.91 L198.05,645.92 L198.48,645.95 L198.91,645.98 L199.35,646.02 L199.78,646.07 L200.21,646.13 L200.64,646.2 L201.07,646.27 L201.5,646.35 L201.92,646.44 L202.35,646.54 L202.77,646.65 L203.19,646.76 L203.6,646.89 L204.02,647.02 L204.43,647.16 L204.84,647.3 L205.25,647.46 L205.65,647.62 L206.05,647.79 L206.45,647.97 L206.84,648.16 L207.23,648.35 L207.62,648.55 L208,648.76 L208.38,648.97 L208.75,649.2 L209.12,649.43 L209.49,649.66 L209.85,649.91 L210.2,650.16 L210.55,650.41 L210.9,650.68 L211.24,650.95 L211.57,651.23 L211.9,651.51 L212.23,651.8 L212.55,652.1 L212.86,652.4 L213.17,652.71 L213.47,653.02 L213.76,653.34 L214.05,653.67 L214.33,654 L214.61,654.33 L214.88,654.68 L215.14,655.02 L215.4,655.37 L215.65,655.73 L215.89,656.09 L216.12,656.46 L216.35,656.83 L216.57,657.2 L216.79,657.58 L216.99,657.96 L217.19,658.35 L217.38,658.74 L217.57,659.14 L217.75,659.53 L217.91,659.93 L218.07,660.34 L218.23,660.75 L218.37,661.16 L218.51,661.57 L218.64,661.98 L218.76,662.4 L218.88,662.82 L218.98,663.24 L219.08,663.67 L219.17,664.09 L219.25,664.52 L219.32,664.95 L219.38,665.38 L219.44,665.81 L219.49,666.24 L219.53,666.68 L219.56,667.11 L219.58,667.55 L219.59,667.98 L219.6,668.42 L219.6,668.85 L219.59,669.29 L219.57,669.72 L219.54,670.15 L219.5,670.59 L219.46,671.02 L219.41,671.45 L219.35,671.88 L219.28,672.31 L219.2,672.74 L219.11,673.17 L219.02,673.59 L218.92,674.01 L218.81,674.44 L218.69,674.85 L218.56,675.27 L218.43,675.68 L218.29,676.1 L218.14,676.5 L217.98,676.91 L217.81,677.31 L217.64,677.71 L217.46,678.11 L217.27,678.5 L217.07,678.89 L216.87,679.27 L216.66,679.65 L216.44,680.03 L216.21,680.4 L215.98,680.77 L215.74,681.13 L215.49,681.49 L215.24,681.84 L214.98,682.19 L214.71,682.53 L214.44,682.87 L214.16,683.21 L213.87,683.53 L213.58,683.86 L213.28,684.17 L212.98,684.48 L212.67,684.79 L212.35,685.09 L212.03,685.38 L211.7,685.66 L211.37,685.94 L211.03,686.22 L210.69,686.48 L210.33,686.74 L209.97,686.98 L209.61,687.22 L209.23,687.44 L208.85,687.64 L208.46,687.84 L208.07,688.02 L207.67,688.19 L207.26,688.34 L206.85,688.48 L206.44,688.61 L206.02,688.72 L205.6,688.82 L205.18,688.91 L204.75,688.98 L204.32,689.03 L203.89,689.07 L203.46,689.1 L203.03,689.11 L202.61,689.11 L202.18,689.1 L201.75,689.06 L201.33,689.02 L200.9,688.96 L200.48,688.88 Z" fill="#635593" stroke="#17181a" stroke-width="1.4" stroke-linejoin="miter" stroke-miterlimit="10"/>
<rect x="-11.9" y="-11.9" width="23.8" height="23.8" rx="0" fill="#72c8fc" stroke="#17181a" stroke-width="1.3" transform="translate(185.1,684.2) rotate(-5)"/>
<circle cx="1031.4" cy="593.1" r="160.6" fill="none" stroke="#76a9f8" stroke-width="11.5"/>
<circle cx="1031.4" cy="593.1" r="154.4" fill="none" stroke="#17181a" stroke-width="1.2"/>
<circle cx="1031.4" cy="593.1" r="166.79999999999998" fill="none" stroke="#17181a" stroke-width="1.2"/>
<path d="M980.7,504.2 L981.07,504.05 L981.46,503.93 L981.86,503.86 L982.29,503.82 L982.73,503.83 L983.19,503.86 L983.67,503.94 L984.16,504.04 L984.67,504.18 L985.2,504.35 L985.73,504.55 L986.28,504.77 L986.84,505.01 L987.41,505.28 L987.99,505.56 L988.57,505.86 L989.17,506.17 L989.76,506.49 L990.36,506.82 L990.96,507.14 L991.56,507.47 L992.16,507.8 L992.75,508.12 L993.34,508.43 L993.93,508.72 L994.5,509 L995.07,509.27 L995.63,509.51 L996.18,509.73 L996.72,509.92 L997.24,510.09 L997.74,510.22 L998.24,510.33 L998.71,510.4 L999.17,510.43 L999.61,510.43 L1000.04,510.39 L1000.44,510.31 L1000.83,510.19 L1001.19,510.04 L1001.54,509.84 L1001.87,509.61 L1002.18,509.33 L1002.48,509.02 L1002.75,508.67 L1003.01,508.28 L1003.25,507.86 L1003.47,507.41 L1003.68,506.92 L1003.88,506.4 L1004.06,505.86 L1004.23,505.29 L1004.39,504.7 L1004.54,504.09 L1004.68,503.46 L1004.81,502.81 L1004.94,502.16 L1005.06,501.49 L1005.18,500.82 L1005.3,500.15 L1005.42,499.47 L1005.55,498.81 L1005.67,498.14 L1005.8,497.49 L1005.94,496.85 L1006.08,496.22 L1006.23,495.62 L1006.39,495.03 L1006.57,494.47 L1006.75,493.94 L1006.95,493.43 L1007.17,492.95 L1007.39,492.51 L1007.64,492.09 L1007.9,491.72 L1008.18,491.38 L1008.48,491.08 L1008.8,490.82 L1009.13,490.59 L1009.49,490.41 L1009.86,490.26 L1010.25,490.16 L1010.66,490.09 L1011.09,490.06 L1011.54,490.07 L1012,490.12 L1012.48,490.2 L1012.98,490.31 L1013.49,490.45 L1014.02,490.63 L1014.56,490.83 L1015.11,491.06 L1015.67,491.31 L1016.24,491.58 L1016.82,491.86 L1017.41,492.16 L1018,492.48 L1018.59,492.8 L1019.19,493.12 L1019.79,493.45 L1020.39,493.78 L1020.99,494.1 L1021.59,494.42 L1022.17,494.73 L1022.76,495.02 L1023.33,495.3 L1023.9,495.56 L1024.46,495.8 L1025,496.01 L1025.53,496.2 L1026.05,496.36 L1026.56,496.49 L1027.05,496.59 L1027.52,496.65 L1027.97,496.68 L1028.41,496.67 L1028.83,496.62 L1029.23,496.53 L1029.62,496.41 L1029.98,496.24 L1030.32,496.04 L1030.65,495.8 L1030.96,495.51 L1031.25,495.19 L1031.52,494.84 L1031.77,494.44 L1032.01,494.02 L1032.23,493.55 L1032.44,493.06 L1032.63,492.54 L1032.81,491.99 L1032.98,491.42 L1033.13,490.82 L1033.28,490.21 L1033.42,489.57 L1033.55,488.93 L1033.68,488.27 L1033.8,487.6 L1033.92,486.93 L1034.04,486.26 L1034.16,485.58 L1034.29,484.91 L1034.41,484.25 L1034.54,483.6 L1034.68,482.97 L1034.82,482.34 L1034.98,481.74 L1035.14,481.16 L1035.32,480.6 L1035.51,480.07 L1035.71,479.57 L1035.92,479.1 L1036.16,478.66 L1036.41,478.26 L1036.67,477.89 L1036.96,477.56 L1037.26,477.27 L1037.58,477.01 L1037.92,476.8 L1038.27,476.62 L1038.65,476.48 L1039.05,476.38 L1039.46,476.33 L1039.89,476.3 L1040.34,476.32 L1040.81,476.37 L1041.29,476.46 L1041.79,476.58 L1042.31,476.73 L1042.84,476.91 L1043.38,477.12 L1043.93,477.35 L1044.5,477.6 L1045.07,477.87 L1045.65,478.16 L1046.24,478.47 L1046.83,478.78 L1047.43,479.1 L1048.03,479.43 L1048.63,479.76 L1049.23,480.09 L1049.82,480.41 L1050.42,480.73 L1051.01,481.03 L1051.59,481.32 L1052.16,481.6 L1052.73,481.85 L1053.28,482.09 L1053.82,482.3 L1054.35,482.48 L1054.87,482.63 L1055.37,482.75 L1055.86,482.84 L1056.33,482.9 L1056.78,482.92 L1057.21,482.9 L1057.63,482.85 L1058.03,482.75 L1058.4,482.62" fill="none" stroke="#fe4a03" stroke-width="4.8" stroke-linejoin="round"/>
<path d="M1059,483 Q1085,497 1066,516" fill="none" stroke="#17181a" stroke-width="1.3"/>
<path d="M1035.9,524.2 L1050.23,540.47 L1050.02,540.84 L1049.8,541.2 L1049.56,541.55 L1049.32,541.9 L1049.06,542.24 L1048.79,542.57 L1048.51,542.89 L1048.22,543.2 L1047.92,543.5 L1047.61,543.8 L1047.29,544.08 L1046.96,544.35 L1046.62,544.61 L1046.27,544.86 L1045.91,545.1 L1045.55,545.33 L1045.18,545.55 L1044.8,545.75 L1044.41,545.95 L1044.02,546.13 L1043.62,546.29 L1043.22,546.45 L1042.81,546.59 L1042.4,546.72 L1041.99,546.83 L1041.57,546.94 L1041.15,547.03 L1040.72,547.11 L1040.3,547.19 L1039.87,547.25 L1039.44,547.31 L1039.02,547.36 L1038.59,547.41 L1038.16,547.44 L1037.72,547.47 L1037.29,547.49 L1036.86,547.5 L1036.43,547.5 L1036,547.49 L1035.57,547.48 L1035.14,547.46 L1034.71,547.43 L1034.28,547.39 L1033.85,547.35 L1033.42,547.29 L1032.99,547.23 L1032.57,547.16 L1032.14,547.09 L1031.72,547 L1031.3,546.91 L1030.88,546.81 L1030.46,546.7 L1030.05,546.58 L1029.63,546.46 L1029.22,546.32 L1028.81,546.18 L1028.41,546.04 L1028,545.88 L1027.61,545.72 L1027.21,545.55 L1026.82,545.37 L1026.43,545.19 L1026.04,545 L1025.66,544.8 L1025.28,544.59 L1024.9,544.38 L1024.53,544.16 L1024.16,543.93 L1023.8,543.7 L1023.44,543.46 L1023.09,543.21 L1022.74,542.95 L1022.4,542.69 L1022.06,542.43 L1021.72,542.15 L1021.39,541.88 L1021.07,541.59 L1020.75,541.3 L1020.44,541 L1020.13,540.7 L1019.83,540.39 L1019.53,540.08 L1019.24,539.76 L1018.96,539.43 L1018.68,539.1 L1018.41,538.77 L1018.15,538.43 L1017.89,538.08 L1017.63,537.73 L1017.39,537.38 L1017.15,537.02 L1016.92,536.65 L1016.69,536.28 L1016.47,535.91 L1016.26,535.54 L1016.06,535.16 L1015.86,534.77 L1015.67,534.39 L1015.49,533.99 L1015.31,533.6 L1015.14,533.2 L1014.98,532.8 L1014.83,532.4 L1014.68,531.99 L1014.55,531.58 L1014.42,531.17 L1014.29,530.76 L1014.18,530.34 L1014.07,529.93 L1013.97,529.51 L1013.88,529.08 L1013.8,528.66 L1013.72,528.24 L1013.65,527.81 L1013.59,527.38 L1013.54,526.95 L1013.5,526.52 L1013.46,526.09 L1013.43,525.66 L1013.41,525.23 L1013.4,524.8 L1013.4,524.37 L1013.4,523.94 L1013.42,523.51 L1013.44,523.08 L1013.47,522.65 L1013.5,522.22 L1013.55,521.79 L1013.6,521.36 L1013.66,520.93 L1013.73,520.5 L1013.81,520.08 L1013.89,519.66 L1013.98,519.24 L1014.09,518.82 L1014.19,518.4 L1014.31,517.98 L1014.43,517.57 L1014.56,517.16 L1014.7,516.75 L1014.85,516.34 L1015,515.94 L1015.17,515.54 L1015.34,515.14 L1015.51,514.75 L1015.7,514.36 L1015.89,513.97 L1016.09,513.59 L1016.29,513.21 L1016.5,512.83 L1016.72,512.46 L1016.95,512.1 L1017.18,511.73 L1017.42,511.37 L1017.67,511.02 L1017.92,510.67 L1018.18,510.33 L1018.45,509.99 L1018.72,509.65 L1019,509.32 L1019.28,509 L1019.57,508.68 L1019.87,508.37 L1020.17,508.06 L1020.48,507.76 L1020.8,507.46 L1021.11,507.17 L1021.44,506.88 L1021.77,506.61 L1022.1,506.33 L1022.44,506.07 L1022.79,505.81 L1023.14,505.56 L1023.49,505.31 L1023.85,505.07 L1024.21,504.84 L1024.58,504.61 L1024.95,504.39 L1025.33,504.18 L1025.71,503.98 L1026.09,503.78 L1026.48,503.59 L1026.87,503.4 L1027.26,503.23 L1027.66,503.06 L1028.06,502.9 L1028.46,502.74 L1028.87,502.6 L1029.28,502.46 L1029.69,502.33 L1030.1,502.2 L1030.52,502.09 L1030.94,501.98 L1031.36,501.88 L1031.78,501.79 L1032.2,501.7 L1032.63,501.63 L1033.05,501.56 L1033.48,501.5 L1033.91,501.45 L1034.34,501.4 L1034.77,501.37 L1035.2,501.34 L1035.63,501.32 L1036.06,501.3 L1036.49,501.3 L1036.92,501.3 L1037.35,501.32 L1037.79,501.34 L1038.22,501.36 L1038.65,501.4 L1039.08,501.44 L1039.5,501.5 L1039.93,501.56 L1040.36,501.64 L1040.78,501.73 L1041.2,501.83 L1041.61,501.95 L1042.02,502.08 L1042.43,502.23 L1042.83,502.38 L1043.22,502.55 L1043.61,502.73 L1044,502.93 L1044.37,503.13 L1044.74,503.35 L1045.1,503.58 L1045.46,503.82 L1045.8,504.08 L1046.14,504.34 L1046.47,504.62 L1046.78,504.9 L1047.09,505.19 L1047.39,505.5 L1047.68,505.81 L1047.95,506.13 L1048.22,506.46 L1048.47,506.8 L1048.71,507.15 Z" fill="#635593" stroke="#17181a" stroke-width="1.4" stroke-linejoin="miter" stroke-miterlimit="10"/>
<rect x="-11.5" y="-11.5" width="23" height="23" rx="0" fill="#72c8fc" stroke="#17181a" stroke-width="1.3" transform="translate(1054.2,523.5) rotate(41.3)"/>
<path d="M909.7,637 L909.99,636.72 L910.31,636.48 L910.66,636.26 L911.04,636.07 L911.46,635.91 L911.9,635.78 L912.37,635.67 L912.87,635.59 L913.39,635.53 L913.94,635.5 L914.51,635.49 L915.1,635.49 L915.71,635.52 L916.34,635.56 L916.98,635.61 L917.64,635.67 L918.3,635.75 L918.97,635.83 L919.65,635.91 L920.33,636 L921,636.08 L921.68,636.17 L922.35,636.25 L923.01,636.32 L923.67,636.38 L924.31,636.44 L924.93,636.47 L925.54,636.5 L926.13,636.5 L926.7,636.49 L927.25,636.45 L927.77,636.39 L928.26,636.31 L928.73,636.2 L929.17,636.06 L929.58,635.9 L929.96,635.71 L930.31,635.49 L930.63,635.24 L930.91,634.96 L931.16,634.65 L931.39,634.31 L931.57,633.94 L931.73,633.54 L931.86,633.12 L931.96,632.66 L932.03,632.18 L932.07,631.68 L932.09,631.15 L932.08,630.6 L932.06,630.02 L932.01,629.43 L931.94,628.82 L931.85,628.2 L931.75,627.56 L931.64,626.91 L931.52,626.25 L931.4,625.59 L931.26,624.92 L931.13,624.25 L931,623.58 L930.86,622.91 L930.74,622.25 L930.62,621.59 L930.51,620.95 L930.42,620.31 L930.34,619.69 L930.28,619.09 L930.23,618.5 L930.21,617.94 L930.21,617.39 L930.24,616.87 L930.29,616.37 L930.37,615.9 L930.47,615.45 L930.61,615.04 L930.78,614.65 L930.98,614.29 L931.21,613.96 L931.47,613.66 L931.76,613.39 L932.09,613.14 L932.45,612.93 L932.84,612.75 L933.26,612.59 L933.71,612.47 L934.18,612.37 L934.69,612.29 L935.21,612.24 L935.77,612.21 L936.34,612.2 L936.94,612.21 L937.55,612.24 L938.18,612.28 L938.83,612.33 L939.48,612.4 L940.15,612.48 L940.82,612.56 L941.5,612.64 L942.18,612.73 L942.85,612.82 L943.53,612.9 L944.2,612.98 L944.86,613.05 L945.51,613.11 L946.15,613.16 L946.77,613.19 L947.37,613.21 L947.96,613.21 L948.53,613.19 L949.07,613.15 L949.58,613.09 L950.07,613 L950.54,612.89 L950.97,612.75 L951.37,612.58 L951.75,612.38 L952.09,612.15 L952.4,611.9 L952.68,611.61 L952.93,611.3 L953.14,610.95 L953.32,610.58 L953.48,610.17 L953.6,609.74 L953.69,609.28 L953.76,608.8 L953.79,608.29 L953.81,607.75 L953.79,607.2 L953.76,606.62 L953.71,606.02 L953.64,605.41 L953.55,604.78 L953.45,604.14 L953.33,603.49 L953.21,602.83 L953.08,602.17 L952.95,601.5 L952.82,600.83 L952.68,600.16 L952.55,599.49 L952.43,598.83 L952.31,598.18 L952.21,597.53 L952.12,596.9 L952.04,596.29 L951.98,595.68 L951.94,595.1 L951.92,594.54 L951.93,594 L951.96,593.48 L952.02,592.99 L952.1,592.52 L952.21,592.08 L952.36,591.67 L952.53,591.29 L952.74,590.93 L952.97,590.61 L953.24,590.31 L953.54,590.05 L953.87,589.81 L954.24,589.61 L954.63,589.43 L955.06,589.28 L955.51,589.16 L956,589.06 L956.5,588.99 L957.04,588.94 L957.6,588.92 L958.18,588.91 L958.78,588.93 L959.39,588.96 L960.03,589 L960.67,589.06 L961.33,589.13 L962,589.2 L962.67,589.29 L963.35,589.37 L964.03,589.46 L964.7,589.55 L965.38,589.63 L966.05,589.71 L966.7,589.77 L967.35,589.83 L967.99,589.88 L968.61,589.91 L969.21,589.93 L969.79,589.92 L970.35,589.9 L970.89,589.86 L971.4,589.79 L971.88,589.69 L972.34,589.57 L972.77,589.43 L973.17,589.25 L973.53,589.05 L973.87,588.82 L974.17,588.56" fill="none" stroke="#fe4a03" stroke-width="4.8" stroke-linejoin="round"/>
<path d="M974.6,588 Q987,585 996,592" fill="none" stroke="#17181a" stroke-width="1.3"/>
<path d="M1003.6,623.6 L1019.01,607.89 L1019.4,608.07 L1019.78,608.27 L1020.16,608.48 L1020.53,608.7 L1020.89,608.93 L1021.24,609.18 L1021.59,609.44 L1021.93,609.71 L1022.25,609.99 L1022.58,610.28 L1022.89,610.58 L1023.19,610.9 L1023.48,611.22 L1023.76,611.55 L1024.03,611.9 L1024.28,612.25 L1024.53,612.61 L1024.77,612.97 L1024.99,613.35 L1025.2,613.73 L1025.4,614.12 L1025.58,614.52 L1025.76,614.92 L1025.92,615.33 L1026.06,615.74 L1026.2,616.16 L1026.32,616.58 L1026.44,617 L1026.54,617.42 L1026.64,617.85 L1026.73,618.28 L1026.82,618.71 L1026.89,619.14 L1026.96,619.57 L1027.02,620 L1027.07,620.44 L1027.11,620.87 L1027.15,621.31 L1027.17,621.75 L1027.19,622.18 L1027.2,622.62 L1027.2,623.06 L1027.19,623.5 L1027.18,623.93 L1027.15,624.37 L1027.12,624.81 L1027.08,625.24 L1027.03,625.68 L1026.98,626.11 L1026.91,626.54 L1026.84,626.98 L1026.76,627.41 L1026.67,627.83 L1026.57,628.26 L1026.47,628.69 L1026.35,629.11 L1026.23,629.53 L1026.1,629.95 L1025.97,630.36 L1025.82,630.78 L1025.67,631.19 L1025.51,631.59 L1025.34,632 L1025.17,632.4 L1024.98,632.8 L1024.79,633.19 L1024.6,633.58 L1024.39,633.97 L1024.18,634.35 L1023.96,634.73 L1023.73,635.1 L1023.5,635.47 L1023.26,635.84 L1023.01,636.2 L1022.76,636.56 L1022.49,636.91 L1022.23,637.25 L1021.95,637.59 L1021.67,637.93 L1021.39,638.26 L1021.09,638.59 L1020.79,638.91 L1020.49,639.22 L1020.18,639.53 L1019.86,639.83 L1019.54,640.13 L1019.21,640.42 L1018.88,640.7 L1018.54,640.98 L1018.2,641.25 L1017.85,641.51 L1017.5,641.77 L1017.14,642.02 L1016.77,642.27 L1016.41,642.5 L1016.03,642.73 L1015.66,642.96 L1015.28,643.17 L1014.89,643.38 L1014.51,643.59 L1014.11,643.78 L1013.72,643.97 L1013.32,644.15 L1012.92,644.32 L1012.51,644.48 L1012.1,644.64 L1011.69,644.79 L1011.28,644.93 L1010.86,645.06 L1010.44,645.19 L1010.02,645.31 L1009.6,645.42 L1009.17,645.52 L1008.74,645.61 L1008.31,645.7 L1007.88,645.77 L1007.45,645.84 L1007.02,645.9 L1006.58,645.96 L1006.15,646 L1005.71,646.04 L1005.27,646.06 L1004.84,646.08 L1004.4,646.1 L1003.96,646.1 L1003.52,646.1 L1003.09,646.08 L1002.65,646.06 L1002.21,646.03 L1001.78,645.99 L1001.34,645.95 L1000.91,645.89 L1000.47,645.83 L1000.04,645.76 L999.61,645.68 L999.18,645.59 L998.76,645.5 L998.33,645.4 L997.91,645.29 L997.49,645.17 L997.07,645.04 L996.65,644.91 L996.24,644.76 L995.83,644.61 L995.42,644.45 L995.01,644.29 L994.61,644.12 L994.21,643.93 L993.82,643.75 L993.43,643.55 L993.04,643.35 L992.66,643.14 L992.28,642.92 L991.9,642.69 L991.53,642.46 L991.16,642.22 L990.8,641.98 L990.44,641.73 L990.09,641.47 L989.74,641.2 L989.4,640.93 L989.06,640.65 L988.73,640.37 L988.4,640.07 L988.08,639.78 L987.77,639.47 L987.46,639.17 L987.15,638.85 L986.85,638.53 L986.56,638.2 L986.28,637.87 L986,637.53 L985.73,637.19 L985.46,636.85 L985.2,636.49 L984.95,636.14 L984.7,635.77 L984.46,635.41 L984.23,635.04 L984,634.66 L983.78,634.28 L983.57,633.9 L983.37,633.51 L983.17,633.12 L982.98,632.73 L982.8,632.33 L982.63,631.93 L982.46,631.52 L982.3,631.11 L982.15,630.7 L982.01,630.29 L981.87,629.87 L981.75,629.46 L981.63,629.04 L981.51,628.61 L981.41,628.19 L981.31,627.76 L981.23,627.33 L981.15,626.9 L981.08,626.47 L981.01,626.04 L980.96,625.6 L980.91,625.17 L980.87,624.73 L980.84,624.29 L980.82,623.86 L980.81,623.42 L980.8,622.98 L980.8,622.54 L980.81,622.11 L980.83,621.67 L980.86,621.23 L980.9,620.8 L980.94,620.36 L981,619.93 L981.08,619.5 L981.16,619.07 L981.27,618.64 L981.38,618.22 L981.51,617.8 L981.65,617.39 L981.81,616.98 L981.98,616.58 L982.16,616.19 L982.35,615.8 L982.56,615.41 L982.78,615.04 L983.01,614.67 L983.25,614.31 L983.51,613.96 L983.77,613.62 L984.05,613.28 L984.33,612.96 L984.63,612.65 L984.94,612.34 L985.25,612.05 L985.58,611.77 L985.91,611.5 L986.26,611.25 Z" fill="#635593" stroke="#17181a" stroke-width="1.4" stroke-linejoin="miter" stroke-miterlimit="10"/>
<rect x="-11.65" y="-11.65" width="23.3" height="23.3" rx="0" fill="#72c8fc" stroke="#17181a" stroke-width="1.3" transform="translate(1001.9,605) rotate(39)"/>
<path d="M1069.6,603.5 L1069.9,603.76 L1070.17,604.06 L1070.42,604.4 L1070.64,604.76 L1070.83,605.16 L1071,605.59 L1071.14,606.05 L1071.27,606.54 L1071.36,607.06 L1071.44,607.6 L1071.5,608.17 L1071.55,608.76 L1071.57,609.37 L1071.58,610 L1071.58,610.64 L1071.57,611.3 L1071.55,611.97 L1071.53,612.64 L1071.5,613.32 L1071.47,614.01 L1071.44,614.69 L1071.41,615.37 L1071.39,616.05 L1071.37,616.71 L1071.36,617.37 L1071.36,618.01 L1071.37,618.64 L1071.4,619.25 L1071.44,619.83 L1071.51,620.4 L1071.59,620.94 L1071.69,621.46 L1071.81,621.94 L1071.96,622.4 L1072.13,622.83 L1072.33,623.22 L1072.55,623.59 L1072.8,623.92 L1073.07,624.21 L1073.37,624.47 L1073.7,624.7 L1074.06,624.89 L1074.44,625.05 L1074.85,625.18 L1075.29,625.27 L1075.75,625.33 L1076.23,625.36 L1076.74,625.36 L1077.27,625.34 L1077.82,625.28 L1078.39,625.21 L1078.97,625.11 L1079.57,624.99 L1080.19,624.86 L1080.82,624.71 L1081.45,624.54 L1082.1,624.37 L1082.75,624.19 L1083.41,624 L1084.06,623.81 L1084.72,623.62 L1085.38,623.44 L1086.03,623.26 L1086.67,623.09 L1087.3,622.93 L1087.93,622.78 L1088.54,622.65 L1089.14,622.54 L1089.72,622.45 L1090.28,622.38 L1090.82,622.34 L1091.35,622.32 L1091.85,622.33 L1092.32,622.37 L1092.78,622.44 L1093.2,622.54 L1093.6,622.68 L1093.98,622.84 L1094.33,623.05 L1094.65,623.28 L1094.94,623.56 L1095.21,623.86 L1095.45,624.2 L1095.67,624.57 L1095.85,624.98 L1096.02,625.41 L1096.16,625.88 L1096.27,626.38 L1096.37,626.9 L1096.44,627.45 L1096.5,628.02 L1096.54,628.62 L1096.56,629.23 L1096.57,629.86 L1096.57,630.51 L1096.56,631.17 L1096.54,631.84 L1096.51,632.51 L1096.48,633.2 L1096.45,633.88 L1096.42,634.56 L1096.39,635.24 L1096.37,635.91 L1096.35,636.58 L1096.34,637.23 L1096.35,637.87 L1096.36,638.49 L1096.4,639.1 L1096.44,639.68 L1096.51,640.24 L1096.59,640.78 L1096.7,641.29 L1096.83,641.77 L1096.98,642.22 L1097.15,642.64 L1097.36,643.03 L1097.58,643.39 L1097.84,643.71 L1098.12,644 L1098.42,644.25 L1098.76,644.47 L1099.12,644.66 L1099.51,644.81 L1099.92,644.93 L1100.36,645.02 L1100.83,645.07 L1101.32,645.1 L1101.83,645.09 L1102.36,645.06 L1102.92,645 L1103.49,644.92 L1104.08,644.82 L1104.68,644.7 L1105.3,644.56 L1105.93,644.41 L1106.57,644.24 L1107.22,644.07 L1107.87,643.88 L1108.52,643.7 L1109.18,643.51 L1109.84,643.32 L1110.49,643.14 L1111.14,642.96 L1111.78,642.79 L1112.42,642.63 L1113.04,642.49 L1113.65,642.36 L1114.24,642.25 L1114.82,642.17 L1115.38,642.1 L1115.92,642.06 L1116.43,642.05 L1116.93,642.07 L1117.4,642.11 L1117.85,642.19 L1118.27,642.3 L1118.67,642.44 L1119.04,642.62 L1119.38,642.83 L1119.7,643.07 L1119.99,643.35 L1120.25,643.66 L1120.48,644.01 L1120.69,644.38 L1120.88,644.8 L1121.03,645.24 L1121.17,645.71 L1121.28,646.21 L1121.37,646.74 L1121.44,647.3 L1121.5,647.87 L1121.53,648.47 L1121.55,649.09 L1121.56,649.72 L1121.56,650.37 L1121.54,651.04 L1121.52,651.71 L1121.49,652.38 L1121.46,653.07 L1121.43,653.75 L1121.4,654.43 L1121.37,655.11 L1121.35,655.78 L1121.34,656.44 L1121.33,657.09 L1121.34,657.73 L1121.36,658.35 L1121.39,658.95 L1121.44,659.53 L1121.51,660.09 L1121.6,660.62 L1121.71,661.12 L1121.84,661.6 L1122,662.04 L1122.18,662.46 L1122.39,662.84 L1122.62,663.19 L1122.88,663.51 L1123.16,663.79" fill="none" stroke="#fe4a03" stroke-width="4.8" stroke-linejoin="round"/>
<path d="M1123,664 Q1122,680 1114,687 Q1108,694 1103,697" fill="none" stroke="#17181a" stroke-width="1.3"/>
<path d="M1073,684.5 L1078.08,704.99 L1077.74,705.22 L1077.38,705.43 L1077.02,705.64 L1076.65,705.83 L1076.28,706.02 L1075.9,706.18 L1075.51,706.34 L1075.11,706.49 L1074.72,706.62 L1074.31,706.73 L1073.91,706.84 L1073.5,706.93 L1073.08,707.01 L1072.67,707.08 L1072.25,707.13 L1071.83,707.17 L1071.41,707.19 L1070.98,707.2 L1070.56,707.2 L1070.14,707.18 L1069.72,707.15 L1069.29,707.11 L1068.88,707.06 L1068.46,706.99 L1068.04,706.9 L1067.63,706.81 L1067.22,706.7 L1066.81,706.58 L1066.41,706.46 L1066,706.33 L1065.6,706.19 L1065.2,706.05 L1064.81,705.89 L1064.42,705.73 L1064.03,705.56 L1063.64,705.39 L1063.26,705.21 L1062.88,705.02 L1062.5,704.82 L1062.13,704.62 L1061.77,704.41 L1061.4,704.19 L1061.04,703.97 L1060.69,703.74 L1060.33,703.5 L1059.99,703.26 L1059.65,703.01 L1059.31,702.75 L1058.98,702.49 L1058.65,702.22 L1058.32,701.95 L1058.01,701.67 L1057.7,701.38 L1057.39,701.09 L1057.09,700.79 L1056.79,700.49 L1056.5,700.18 L1056.22,699.86 L1055.94,699.54 L1055.67,699.22 L1055.4,698.89 L1055.14,698.55 L1054.89,698.21 L1054.64,697.87 L1054.4,697.52 L1054.17,697.17 L1053.94,696.81 L1053.72,696.45 L1053.5,696.08 L1053.3,695.71 L1053.1,695.34 L1052.9,694.96 L1052.72,694.58 L1052.54,694.2 L1052.37,693.81 L1052.2,693.42 L1052.04,693.03 L1051.89,692.63 L1051.75,692.23 L1051.62,691.83 L1051.49,691.43 L1051.37,691.02 L1051.26,690.61 L1051.15,690.2 L1051.06,689.79 L1050.97,689.37 L1050.88,688.96 L1050.81,688.54 L1050.74,688.12 L1050.69,687.7 L1050.64,687.28 L1050.59,686.86 L1050.56,686.44 L1050.53,686.02 L1050.51,685.59 L1050.5,685.17 L1050.5,684.75 L1050.51,684.32 L1050.52,683.9 L1050.54,683.48 L1050.57,683.05 L1050.6,682.63 L1050.65,682.21 L1050.7,681.79 L1050.76,681.37 L1050.83,680.95 L1050.9,680.53 L1050.99,680.12 L1051.08,679.7 L1051.18,679.29 L1051.28,678.88 L1051.4,678.47 L1051.52,678.07 L1051.65,677.67 L1051.79,677.26 L1051.93,676.87 L1052.08,676.47 L1052.24,676.08 L1052.41,675.69 L1052.58,675.3 L1052.76,674.92 L1052.95,674.54 L1053.15,674.16 L1053.35,673.79 L1053.56,673.42 L1053.77,673.06 L1054,672.7 L1054.23,672.34 L1054.46,671.99 L1054.7,671.64 L1054.95,671.3 L1055.21,670.96 L1055.47,670.63 L1055.74,670.3 L1056.01,669.97 L1056.29,669.66 L1056.58,669.34 L1056.87,669.04 L1057.16,668.73 L1057.47,668.44 L1057.77,668.15 L1058.09,667.86 L1058.41,667.58 L1058.73,667.31 L1059.06,667.04 L1059.39,666.78 L1059.73,666.53 L1060.08,666.28 L1060.42,666.04 L1060.78,665.8 L1061.13,665.57 L1061.49,665.35 L1061.86,665.14 L1062.23,664.93 L1062.6,664.73 L1062.98,664.53 L1063.36,664.34 L1063.74,664.16 L1064.13,663.99 L1064.52,663.83 L1064.91,663.67 L1065.31,663.52 L1065.71,663.37 L1066.11,663.24 L1066.51,663.11 L1066.92,662.99 L1067.32,662.87 L1067.73,662.77 L1068.15,662.67 L1068.56,662.58 L1068.98,662.5 L1069.39,662.42 L1069.81,662.35 L1070.23,662.29 L1070.65,662.24 L1071.07,662.2 L1071.5,662.16 L1071.92,662.14 L1072.34,662.12 L1072.77,662.1 L1073.19,662.1 L1073.61,662.1 L1074.04,662.12 L1074.46,662.13 L1074.88,662.16 L1075.3,662.2 L1075.73,662.24 L1076.15,662.29 L1076.57,662.35 L1076.98,662.42 L1077.4,662.49 L1077.82,662.57 L1078.23,662.66 L1078.64,662.76 L1079.05,662.87 L1079.46,662.98 L1079.87,663.1 L1080.27,663.23 L1080.67,663.37 L1081.07,663.51 L1081.47,663.66 L1081.86,663.82 L1082.25,663.98 L1082.64,664.16 L1083.02,664.33 L1083.4,664.52 L1083.78,664.72 L1084.15,664.92 L1084.52,665.12 L1084.89,665.34 L1085.25,665.56 L1085.6,665.79 L1085.96,666.02 L1086.3,666.27 L1086.64,666.52 L1086.97,666.79 L1087.29,667.07 L1087.6,667.35 L1087.91,667.65 L1088.2,667.95 L1088.48,668.27 L1088.75,668.59 L1089.01,668.92 L1089.26,669.26 L1089.5,669.61 L1089.73,669.97 L1089.95,670.33 L1090.15,670.7 L1090.34,671.07 L1090.52,671.45 L1090.69,671.83 L1090.84,672.22 L1090.98,672.62 L1091.11,673.02 L1091.22,673.42 L1091.32,673.82 L1091.41,674.23 L1091.48,674.64 L1091.54,675.05 Z" fill="#635593" stroke="#17181a" stroke-width="1.4" stroke-linejoin="miter" stroke-miterlimit="10"/>
<rect x="-11.9" y="-11.9" width="23.8" height="23.8" rx="0" fill="#72c8fc" stroke="#17181a" stroke-width="1.3" transform="translate(1088.7,692) rotate(-18.7)"/>
<path d="M1164.9,587.6 Q1170,594.7 1164.9,601.8 L1218.4,605.2 Q1227,594.3 1218.4,583.5 Z" fill="#e3e7e1" stroke="#17181a" stroke-width="1.2"/>
<ellipse cx="1189.3" cy="584.1" rx="29.1" ry="5.25" fill="#4f9fcb" stroke="#17181a" stroke-width="1.2"/>
<ellipse cx="1189.3" cy="605.2" rx="29.1" ry="5.2" fill="#4f9fcb" stroke="#17181a" stroke-width="1.2"/>
<line x1="1123.5" y1="594.8" x2="1291" y2="594.8" stroke="#111" stroke-width="3.9" stroke-linecap="round"/>
<path d="M1299.5,594.8 L1287.9,589.3 L1291,594.8 L1287.9,600.3 Z" fill="#111"/>
<circle cx="1426.3" cy="512.4" r="17.6" fill="#76a8f9"/>
<circle cx="1363" cy="580.4" r="17.6" fill="#76a8f9"/>
<circle cx="1494.7" cy="580.4" r="17.6" fill="#76a8f9"/>
<circle cx="1410.5" cy="643.5" r="17.6" fill="#76a8f9"/>
<circle cx="1496.1" cy="666.7" r="17.6" fill="#76a8f9"/>
<rect x="-10.2" y="-10.2" width="20.4" height="20.4" rx="2.5" fill="#c4a0de" transform="translate(1470.8,504) rotate(0)"/>
<rect x="-10.2" y="-10.2" width="20.4" height="20.4" rx="2.5" fill="#c4a0de" transform="translate(1400.4,554.2) rotate(0)"/>
<rect x="-10.2" y="-10.2" width="20.4" height="20.4" rx="2.5" fill="#c4a0de" transform="translate(1453.4,695.6) rotate(2.5)"/>
<rect x="-10.2" y="-10.2" width="20.4" height="20.4" rx="2.5" fill="#fca625" transform="translate(1506.5,624.7) rotate(-4.5)"/>
<path d="M1460.7,557.7 L1453.6,570 L1439.4,570 L1432.3,557.7 L1439.4,545.4 L1453.6,545.4 Z" fill="#fca625" stroke="#fca625" stroke-width="1.5" stroke-linejoin="round"/>
<path d="M1377.9,625.3 L1370.65,637.86 L1356.15,637.86 L1348.9,625.3 L1356.15,612.74 L1370.65,612.74 Z" fill="#fca625" stroke="#fca625" stroke-width="1.5" stroke-linejoin="round"/>
<path d="M1464.97,612.34 L1452.21,618.57 L1440.44,610.62 L1441.43,596.46 L1454.19,590.23 L1465.96,598.18 Z" fill="#c4a0de" stroke="#c4a0de" stroke-width="1.5" stroke-linejoin="round"/>
<path d="M1381.9,669.4 L1369.6,676.5 L1357.3,669.4 L1357.3,655.2 L1369.6,648.1 L1381.9,655.2 Z" fill="#c4a0de" stroke="#c4a0de" stroke-width="1.5" stroke-linejoin="round"/>
<ellipse cx="0" cy="0" rx="19.2" ry="11" fill="#c4a0de" transform="translate(1499.8,541.3) rotate(28.3)"/>
<ellipse cx="0" cy="0" rx="19.2" ry="11" fill="#c4a0de" transform="translate(1408.8,594.7) rotate(35.2)"/>
<ellipse cx="0" cy="0" rx="19.2" ry="11" fill="#c4a0de" transform="translate(1464.8,641.4) rotate(-57.4)"/>
<ellipse cx="0" cy="0" rx="19.2" ry="11" fill="#c4a0de" transform="translate(1410.4,684.2) rotate(-52.6)"/>
</g>
<rect x="8" y="8" width="1599" height="846" fill="none" stroke="#17181a" stroke-width="4"/>
<rect x="3061" y="0" width="3" height="861" fill="#000"/>
<text x="28.5" y="78.7" font-size="37" font-weight="normal" fill="#000" text-anchor="start">POI recruiting ligand</text>
<text x="700" y="82" font-size="37" font-weight="normal" fill="#000" text-anchor="start">Cell penetrating peptide</text>
<text x="1274.5" y="89" font-size="37" font-weight="normal" fill="#000" text-anchor="start">Cell membrane POI</text>
<text x="465" y="167" font-size="37" font-weight="normal" fill="#000" text-anchor="start">CPPTAC</text>
<text x="1337.5" y="182.7" font-size="31" font-weight="normal" fill="#000" text-anchor="start">Plasma membrane</text>
<text x="1451.5" y="288" font-size="31" font-weight="normal" fill="#000" text-anchor="start">Cytoplasm</text>
<text x="525" y="607.3" font-size="37" font-weight="normal" fill="#000" text-anchor="start">Endocytosis</text>
<text x="174" y="817.2" font-size="37" font-weight="normal" fill="#000" text-anchor="start">Endosome</text>
<text x="949.5" y="805.7" font-size="37" font-weight="normal" fill="#000" text-anchor="start">Lysosome</text>
<text x="1339.8" y="762.5" font-size="36.8" font-weight="normal" fill="#000" text-anchor="start">Degradation</text>
<text x="1666.5" y="6.8" font-size="59.5" font-weight="bold" fill="#000" text-anchor="start">b</text>
<g transform="translate(0,148) scale(1,1.025) translate(0,-148)"><text x="1668" y="148" font-size="61.5">Peptide Sequences:</text></g>
<g transform="translate(0,285) scale(1,1.04) translate(0,-285)"><text x="1668" y="285" font-size="61.5">CPP1 (PEN): Alkyne-RQIKIWFQNRRMKWKK-NH</text><text x="3031" y="304.5" font-size="48" transform="translate(3031,0) scale(1.05,1) translate(-3031,0)">2</text></g>
<g transform="translate(0,438) scale(1,1.04) translate(0,-438)"><text x="1668" y="438" font-size="61.4">CPP2 (TAT): Alkyne-YGRKKRRQRRR-NH</text><text x="2816" y="457.5" font-size="48" transform="translate(2816,0) scale(1.05,1) translate(-2816,0)">2</text></g>
<g transform="translate(0,592.8) scale(1,1.04) translate(0,-592.8)"><text x="1668" y="592.8" font-size="61.08">CPP3 (R9): Alkyne-RRRRRRRRR-NH</text><text x="2701.3" y="612.3" font-size="48" transform="translate(2701.3,0) scale(1.05,1) translate(-2701.3,0)">2</text></g>
<g transform="translate(0,746.9) scale(1,1.04) translate(0,-746.9)"><text x="1668" y="746.9" font-size="61.1">CPP4 (CPP-LSS): Alkyne-GGrrrrrrrrrNPGY-NH</text><text x="2933.5" y="766.4" font-size="48" transform="translate(2933.5,0) scale(1.05,1) translate(-2933.5,0)">2</text></g>
</svg></body></html>
